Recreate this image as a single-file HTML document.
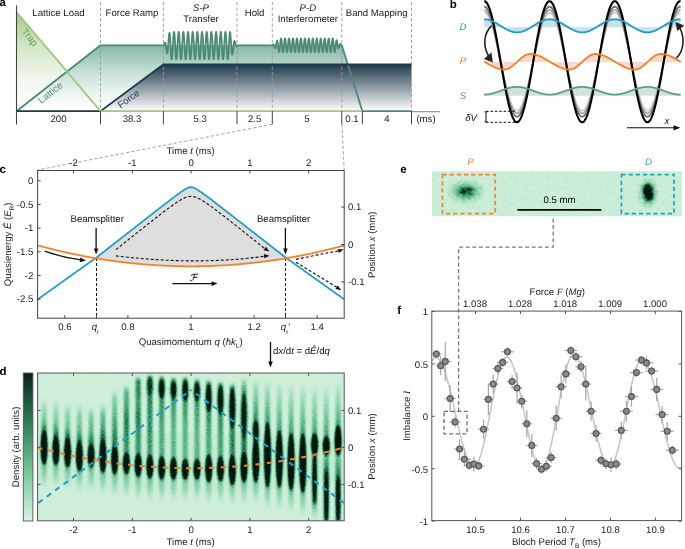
<!DOCTYPE html>
<html><head><meta charset="utf-8"><style>
html,body{margin:0;padding:0;background:#fff;}
svg{display:block;will-change:transform;font-family:'Liberation Sans',sans-serif;text-rendering:geometricPrecision;}
</style></head><body>
<svg width="685" height="549" viewBox="0 0 685 549" style="font-family:'Liberation Sans',sans-serif">
<rect width="685" height="549" fill="#fff"/>
<defs>
<linearGradient id="gTrap" x1="0" y1="0" x2="0" y2="1"><stop offset="0" stop-color="#a9cf8f"/><stop offset="1" stop-color="#ffffff"/></linearGradient>
<linearGradient id="gLat" gradientUnits="userSpaceOnUse" x1="0" y1="45" x2="0" y2="111"><stop offset="0" stop-color="#7fb3a2"/><stop offset="0.4" stop-color="#c2dcd3"/><stop offset="0.75" stop-color="#eef5f3"/><stop offset="1" stop-color="#ffffff"/></linearGradient>
<linearGradient id="gFor" gradientUnits="userSpaceOnUse" x1="0" y1="64.5" x2="0" y2="111"><stop offset="0" stop-color="#1f3a4c"/><stop offset="1" stop-color="#ffffff"/></linearGradient>
<linearGradient id="gTrapU" gradientUnits="userSpaceOnUse" x1="0" y1="12" x2="0" y2="111"><stop offset="0" stop-color="#a3cb88"/><stop offset="0.35" stop-color="#d3e7c7"/><stop offset="0.7" stop-color="#f3f8f0"/><stop offset="1" stop-color="#ffffff"/></linearGradient>
</defs>
<polygon points="16.50,12.00 100.50,111.20 16.50,111.20" fill="url(#gTrapU)"/>
<polygon points="16.50,111.20 100.50,45.30 341.80,45.30 362.40,111.20" fill="url(#gLat)" fill-opacity="0.95"/>
<polygon points="100.50,111.20 163.40,64.50 411.50,64.50 411.50,111.20" fill="url(#gFor)"/>
<line x1="100.50" y1="2.00" x2="100.50" y2="111.20" stroke="#9a9a9a" stroke-width="0.9" stroke-dasharray="3.2,2.2"/>
<line x1="163.40" y1="2.00" x2="163.40" y2="111.20" stroke="#9a9a9a" stroke-width="0.9" stroke-dasharray="3.2,2.2"/>
<line x1="237.00" y1="2.00" x2="237.00" y2="111.20" stroke="#9a9a9a" stroke-width="0.9" stroke-dasharray="3.2,2.2"/>
<line x1="272.30" y1="2.00" x2="272.30" y2="111.20" stroke="#9a9a9a" stroke-width="0.9" stroke-dasharray="3.2,2.2"/>
<line x1="341.80" y1="2.00" x2="341.80" y2="111.20" stroke="#9a9a9a" stroke-width="0.9" stroke-dasharray="3.2,2.2"/>
<line x1="411.50" y1="2.00" x2="411.50" y2="111.20" stroke="#9a9a9a" stroke-width="0.9" stroke-dasharray="3.2,2.2"/>
<polyline points="16.50,111.20 100.50,45.30 163.40,45.30 163.40,45.60 163.53,45.60 163.65,45.52 163.78,45.35 163.90,45.10 164.03,44.79 164.15,44.43 164.28,44.05 164.40,43.66 164.53,43.29 164.65,42.97 164.78,42.71 164.90,42.55 165.03,42.50 165.15,42.57 165.28,42.78 165.40,43.13 165.53,43.62 165.65,44.25 165.78,45.00 165.90,45.85 166.03,46.79 166.15,47.78 166.28,48.79 166.40,49.78 166.53,50.73 166.65,51.58 166.78,52.31 166.90,52.87 167.03,53.25 167.16,53.41 167.28,53.34 167.41,53.02 167.53,52.44 167.66,51.62 167.78,50.56 167.91,49.29 168.03,47.83 168.16,46.22 168.28,44.51 168.41,42.74 168.53,40.96 168.66,39.24 168.78,37.62 168.91,36.17 169.03,34.93 169.16,33.96 169.28,33.29 169.41,32.95 169.53,32.98 169.66,33.39 169.78,34.18 169.91,35.35 170.03,37.01 170.16,38.92 170.28,41.02 170.41,43.25 170.53,45.55 170.66,47.85 170.79,50.08 170.91,52.19 171.04,54.11 171.16,55.79 171.29,57.18 171.41,58.24 171.54,58.95 171.66,59.28 171.79,59.22 171.91,58.77 172.04,57.96 172.16,56.79 172.29,55.31 172.41,53.55 172.54,51.57 172.66,49.42 172.79,47.16 172.91,44.86 173.04,42.57 173.16,40.38 173.29,38.33 173.41,36.48 173.54,34.90 173.66,33.62 173.79,32.67 173.91,32.10 174.04,31.90 174.16,32.09 174.29,32.67 174.41,33.61 174.54,34.89 174.67,36.47 174.79,38.31 174.92,40.36 175.04,42.55 175.17,44.84 175.29,47.14 175.42,49.40 175.54,51.55 175.67,53.54 175.79,55.30 175.92,56.78 176.04,57.95 176.17,58.77 176.29,59.22 176.42,59.28 176.54,58.95 176.67,58.25 176.79,57.19 176.92,55.80 177.04,54.12 177.17,52.20 177.29,50.10 177.42,47.87 177.54,45.57 177.67,43.27 177.79,41.04 177.92,38.94 178.04,37.03 178.17,35.36 178.30,33.98 178.42,32.93 178.55,32.23 178.67,31.92 178.80,31.99 178.92,32.45 179.05,33.28 179.17,34.46 179.30,35.95 179.42,37.72 179.55,39.71 179.67,41.86 179.80,44.12 179.92,46.43 180.05,48.71 180.17,50.90 180.30,52.94 180.42,54.78 180.55,56.35 180.67,57.62 180.80,58.55 180.92,59.12 181.05,59.30 181.17,59.09 181.30,58.51 181.42,57.55 181.55,56.26 181.67,54.67 181.80,52.82 181.93,50.77 182.05,48.57 182.18,46.28 182.30,43.98 182.43,41.72 182.55,39.57 182.68,37.60 182.80,35.85 182.93,34.37 183.05,33.21 183.18,32.41 183.30,31.98 183.43,31.93 183.55,32.27 183.68,32.98 183.80,34.06 183.93,35.46 184.05,37.14 184.18,39.07 184.30,41.18 184.43,43.42 184.55,45.72 184.68,48.01 184.80,50.24 184.93,52.33 185.05,54.24 185.18,55.90 185.30,57.27 185.43,58.30 185.56,58.98 185.68,59.29 185.81,59.20 185.93,58.73 186.06,57.89 186.18,56.69 186.31,55.19 186.43,53.42 186.56,51.42 186.68,49.26 186.81,46.99 186.93,44.69 187.06,42.41 187.18,40.22 187.31,38.19 187.43,36.36 187.56,34.80 187.68,33.54 187.81,32.62 187.93,32.07 188.06,31.90 188.18,32.12 188.31,32.72 188.43,33.69 188.56,34.99 188.68,36.59 188.81,38.45 188.93,40.51 189.06,42.72 189.19,45.00 189.31,47.30 189.44,49.56 189.56,51.70 189.69,53.67 189.81,55.41 189.94,56.88 190.06,58.02 190.19,58.81 190.31,59.23 190.44,59.27 190.56,58.91 190.69,58.18 190.81,57.10 190.94,55.69 191.06,53.99 191.19,52.06 191.31,49.94 191.44,47.70 191.56,45.40 191.69,43.11 191.81,40.89 191.94,38.80 192.06,36.90 192.19,35.25 192.31,33.89 192.44,32.86 192.56,32.20 192.69,31.91 192.81,32.01 192.94,32.50 193.07,33.35 193.19,34.55 193.32,36.07 193.44,37.85 193.57,39.86 193.69,42.02 193.82,44.29 193.94,46.59 194.07,48.87 194.19,51.05 194.32,53.08 194.44,54.90 194.57,56.46 194.69,57.70 194.82,58.61 194.94,59.14 195.07,59.30 195.19,59.06 195.32,58.45 195.44,57.47 195.57,56.16 195.69,54.54 195.82,52.68 195.94,50.61 196.07,48.40 196.19,46.11 196.32,43.81 196.44,41.56 196.57,39.42 196.70,37.46 196.82,35.73 196.95,34.28 197.07,33.14 197.20,32.36 197.32,31.96 197.45,31.94 197.57,32.31 197.70,33.05 197.82,34.15 197.95,35.57 198.07,37.28 198.20,39.22 198.32,41.34 198.45,43.58 198.57,45.88 198.70,48.17 198.82,50.39 198.95,52.48 199.07,54.36 199.20,56.01 199.32,57.35 199.45,58.37 199.57,59.02 199.70,59.29 199.82,59.18 199.95,58.68 200.07,57.81 200.20,56.60 200.33,55.07 200.45,53.28 200.58,51.27 200.70,49.10 200.83,46.83 200.95,44.52 201.08,42.25 201.20,40.07 201.33,38.05 201.45,36.24 201.58,34.69 201.70,33.46 201.83,32.57 201.95,32.04 202.08,31.90 202.20,32.15 202.33,32.78 202.45,33.77 202.58,35.10 202.70,36.72 202.83,38.59 202.95,40.67 203.08,42.88 203.20,45.17 203.33,47.47 203.45,49.72 203.58,51.85 203.70,53.80 203.83,55.53 203.96,56.97 204.08,58.09 204.21,58.86 204.33,59.25 204.46,59.25 204.58,58.87 204.71,58.12 204.83,57.01 204.96,55.57 205.08,53.86 205.21,51.91 205.33,49.78 205.46,47.54 205.58,45.23 205.71,42.94 205.83,40.73 205.96,38.65 206.08,36.77 206.21,35.14 206.33,33.81 206.46,32.80 206.58,32.16 206.71,31.91 206.83,32.03 206.96,32.55 207.08,33.43 207.21,34.65 207.33,36.19 207.46,37.99 207.59,40.01 207.71,42.18 207.84,44.46 207.96,46.76 208.09,49.03 208.21,51.21 208.34,53.22 208.46,55.02 208.59,56.56 208.71,57.78 208.84,58.66 208.96,59.17 209.09,59.29 209.21,59.03 209.34,58.39 209.46,57.39 209.59,56.05 209.71,54.42 209.84,52.53 209.96,50.45 210.09,48.24 210.21,45.95 210.34,43.65 210.46,41.40 210.59,39.28 210.71,37.33 210.84,35.61 210.96,34.18 211.09,33.08 211.21,32.32 211.34,31.94 211.47,31.95 211.59,32.35 211.72,33.12 211.84,34.24 211.97,35.68 212.09,37.41 212.22,39.37 212.34,41.50 212.47,43.75 212.59,46.05 212.72,48.34 212.84,50.55 212.97,52.62 213.09,54.49 213.22,56.11 213.34,57.44 213.47,58.43 213.59,59.05 213.72,59.30 213.84,59.15 213.97,58.63 214.09,57.73 214.22,56.50 214.34,54.95 214.47,53.14 214.59,51.12 214.72,48.94 214.84,46.66 214.97,44.36 215.10,42.09 215.22,39.92 215.35,37.91 215.47,36.12 215.60,34.59 215.72,33.38 215.85,32.52 215.97,32.02 216.10,31.91 216.22,32.18 216.35,32.84 216.47,33.86 216.60,35.21 216.72,36.85 216.85,38.74 216.97,40.82 217.10,43.04 217.22,45.34 217.35,47.63 217.47,49.88 217.60,52.00 217.72,53.94 217.85,55.64 217.97,57.06 218.10,58.16 218.22,58.90 218.35,59.26 218.47,59.24 218.60,58.83 218.73,58.05 218.85,56.91 218.98,55.46 219.10,53.72 219.23,51.76 219.35,49.62 219.48,47.37 219.60,45.07 219.73,42.78 219.85,40.57 219.98,38.51 220.10,36.64 220.23,35.03 220.35,33.72 220.48,32.75 220.60,32.13 220.73,31.90 220.85,32.06 220.98,32.60 221.10,33.51 221.23,34.75 221.35,36.31 221.48,38.13 221.60,40.16 221.73,42.35 221.85,44.62 221.98,46.93 222.10,49.19 222.23,51.36 222.36,53.36 222.48,55.14 222.61,56.66 222.73,57.86 222.86,58.71 222.98,59.19 223.11,59.29 223.23,59.00 223.36,58.33 223.48,57.30 223.61,55.94 223.73,54.29 223.86,52.39 223.98,50.30 224.11,48.08 224.23,45.78 224.36,43.48 224.48,41.24 224.61,39.13 224.73,37.20 224.86,35.50 224.98,34.09 225.11,33.01 225.23,32.28 225.36,31.93 225.48,31.97 225.61,32.39 225.73,33.19 225.86,34.33 225.99,35.80 226.11,37.54 226.24,39.51 226.36,41.66 226.49,43.91 226.61,46.22 226.74,48.50 226.86,50.70 226.99,52.76 227.11,54.62 227.24,56.22 227.36,57.52 227.49,58.48 227.61,59.08 227.74,59.30 227.86,59.13 227.99,58.58 228.11,57.66 228.24,56.39 228.36,54.83 228.49,53.00 228.61,50.96 228.74,48.77 228.86,46.49 228.99,44.19 229.11,41.93 229.24,39.77 229.36,37.77 229.49,36.00 229.61,34.50 229.74,33.31 229.87,32.47 229.99,32.00 230.12,32.14 230.24,32.68 230.37,33.57 230.49,34.76 230.62,36.22 230.74,37.89 230.87,39.72 230.99,41.63 231.12,43.59 231.24,45.52 231.37,47.37 231.49,49.09 231.62,50.63 231.74,51.96 231.87,53.04 231.99,53.86 232.12,54.40 232.24,54.66 232.37,54.65 232.49,54.37 232.62,53.85 232.74,53.13 232.87,52.22 232.99,51.17 233.12,50.03 233.24,48.82 233.37,47.60 233.50,46.40 233.62,45.26 233.75,44.21 233.87,43.28 234.00,42.50 234.12,41.87 234.25,41.40 234.37,41.11 234.50,40.98 234.62,41.01 234.75,41.19 234.87,41.49 235.00,41.90 235.12,42.38 235.25,42.91 235.37,43.47 235.50,44.03 235.62,44.56 235.75,45.05 235.87,45.47 236.00,45.81 236.12,46.07 236.25,46.23 236.37,46.31 236.50,46.29 236.62,46.20 236.75,46.04 236.87,45.84 237.00,45.60 237.00,45.30 272.30,45.30 272.30,45.30 272.43,45.25 272.55,45.15 272.68,45.02 272.80,44.87 272.93,44.72 273.05,44.57 273.18,44.44 273.30,44.35 273.43,44.31 273.55,44.33 273.68,44.42 273.80,44.58 273.93,44.81 274.05,45.10 274.18,45.45 274.30,45.85 274.43,46.26 274.55,46.69 274.68,47.10 274.80,47.46 274.93,47.77 275.05,48.00 275.18,48.12 275.30,48.13 275.43,48.02 275.55,47.77 275.68,47.40 275.80,46.91 275.93,46.32 276.05,45.64 276.18,44.89 276.30,44.12 276.43,43.34 276.55,42.60 276.68,41.93 276.80,41.35 276.93,40.91 277.05,40.63 277.18,40.53 277.30,40.62 277.43,40.90 277.55,41.38 277.68,42.05 277.80,42.88 277.93,43.85 278.05,44.92 278.18,46.05 278.30,47.21 278.43,48.33 278.55,49.38 278.68,50.31 278.80,51.07 278.93,51.62 279.05,51.94 279.18,52.01 279.30,51.80 279.43,51.22 279.55,50.41 279.68,49.40 279.80,48.23 279.93,46.95 280.05,45.60 280.18,44.24 280.30,42.92 280.43,41.69 280.55,40.61 280.68,39.70 280.80,39.02 280.93,38.58 281.05,38.40 281.18,38.50 281.30,38.85 281.43,39.46 281.55,40.30 281.68,41.33 281.80,42.52 281.93,43.81 282.05,45.16 282.18,46.52 282.30,47.83 282.43,49.05 282.55,50.11 282.68,50.99 282.80,51.65 282.93,52.05 283.05,52.20 283.18,52.08 283.30,51.69 283.43,51.05 283.55,50.19 283.68,49.14 283.80,47.93 283.93,46.63 284.05,45.27 284.18,43.92 284.30,42.62 284.43,41.42 284.55,40.37 284.68,39.52 284.80,38.89 284.93,38.51 285.05,38.40 285.18,38.56 285.30,38.98 285.43,39.64 285.55,40.53 285.68,41.60 285.80,42.82 285.93,44.13 286.05,45.49 286.18,46.84 286.30,48.13 286.43,49.32 286.55,50.34 286.68,51.17 286.80,51.77 286.93,52.11 287.05,52.19 287.18,52.01 287.30,51.56 287.43,50.86 287.55,49.95 287.68,48.86 287.80,47.63 287.93,46.31 288.05,44.95 288.18,43.60 288.30,42.32 288.43,41.15 288.55,40.15 288.68,39.35 288.80,38.78 288.93,38.46 289.05,38.41 289.18,38.63 289.30,39.11 289.43,39.84 289.55,40.77 289.68,41.88 289.80,43.13 289.93,44.46 290.05,45.82 290.18,47.16 290.30,48.43 290.43,49.58 290.55,50.56 290.68,51.33 290.80,51.87 290.93,52.16 291.05,52.17 291.18,51.92 291.30,51.41 291.43,50.66 291.55,49.70 291.68,48.58 291.80,47.32 291.93,45.98 292.05,44.62 292.18,43.28 292.30,42.02 292.43,40.90 292.55,39.94 292.68,39.19 292.80,38.68 292.93,38.43 293.05,38.44 293.18,38.73 293.30,39.27 293.43,40.04 293.55,41.02 293.68,42.17 293.80,43.44 293.93,44.78 294.05,46.14 294.18,47.47 294.30,48.72 294.43,49.83 294.55,50.76 294.68,51.49 294.80,51.97 294.93,52.19 295.05,52.14 295.18,51.82 295.30,51.25 295.43,50.45 295.55,49.45 295.68,48.28 295.80,47.00 295.93,45.65 296.05,44.29 296.18,42.97 296.30,41.74 296.43,40.65 296.55,39.74 296.68,39.04 296.80,38.59 296.93,38.41 297.05,38.49 297.18,38.83 297.30,39.43 297.43,40.26 297.55,41.28 297.68,42.47 297.80,43.76 297.93,45.11 298.05,46.47 298.18,47.78 298.30,49.00 298.43,50.07 298.55,50.96 298.68,51.62 298.80,52.04 298.93,52.20 299.05,52.09 299.18,51.71 299.30,51.08 299.43,50.23 299.55,49.18 299.68,47.98 299.80,46.68 299.93,45.33 300.05,43.97 300.18,42.67 300.30,41.46 300.43,40.41 300.55,39.55 300.68,38.91 300.80,38.52 300.93,38.40 301.05,38.55 301.18,38.95 301.30,39.61 301.43,40.49 301.55,41.55 301.68,42.77 301.80,44.08 301.93,45.44 302.05,46.79 302.18,48.08 302.30,49.27 302.43,50.30 302.55,51.14 302.68,51.75 302.80,52.10 302.93,52.20 303.05,52.02 303.18,51.58 303.30,50.90 303.43,49.99 303.55,48.91 303.68,47.68 303.80,46.36 303.93,45.00 304.05,43.65 304.18,42.37 304.30,41.20 304.43,40.19 304.55,39.38 304.68,38.80 304.80,38.47 304.93,38.41 305.05,38.62 305.18,39.09 305.30,39.80 305.43,40.73 305.55,41.83 305.68,43.07 305.80,44.40 305.93,45.76 306.05,47.11 306.18,48.38 306.30,49.53 306.43,50.52 306.55,51.31 306.68,51.86 306.80,52.15 306.93,52.18 307.05,51.94 307.18,51.44 307.30,50.70 307.43,49.75 307.55,48.62 307.68,47.37 307.80,46.04 307.93,44.67 308.05,43.33 308.18,42.07 308.30,40.94 308.43,39.97 308.55,39.21 308.68,38.69 308.80,38.43 308.93,38.44 309.05,38.71 309.18,39.24 309.30,40.01 309.43,40.98 309.55,42.12 309.68,43.39 309.80,44.73 309.93,46.09 310.05,47.42 310.18,48.67 310.30,49.79 310.43,50.73 310.55,51.46 310.68,51.95 310.80,52.18 310.93,52.14 311.05,51.84 311.18,51.28 311.30,50.49 311.43,49.49 311.55,48.33 311.68,47.06 311.80,45.71 311.93,44.35 312.05,43.02 312.18,41.79 312.30,40.69 312.43,39.77 312.55,39.07 312.68,38.61 312.80,38.41 312.93,38.48 313.05,38.81 313.18,39.40 313.30,40.22 313.43,41.24 313.55,42.42 313.68,43.70 313.80,45.05 313.93,46.41 314.05,47.73 314.18,48.95 314.30,50.03 314.43,50.93 314.55,51.60 314.68,52.03 314.80,52.20 314.93,52.10 315.05,51.73 315.18,51.11 315.30,50.27 315.43,49.23 315.55,48.03 315.68,46.74 315.80,45.38 315.93,44.02 316.05,42.72 316.18,41.51 316.30,40.45 316.43,39.58 316.55,38.93 316.68,38.53 316.80,38.40 316.93,38.53 317.05,38.93 317.18,39.58 317.30,40.45 317.43,41.51 317.55,42.72 317.68,44.02 317.80,45.38 317.93,46.74 318.05,48.03 318.18,49.23 318.30,50.27 318.43,51.11 318.55,51.73 318.68,52.10 318.80,52.20 318.93,52.03 319.05,51.60 319.18,50.93 319.30,50.03 319.43,48.95 319.55,47.73 319.68,46.41 319.80,45.05 319.93,43.70 320.05,42.42 320.18,41.24 320.30,40.22 320.43,39.40 320.55,38.81 320.68,38.48 320.80,38.41 320.93,38.61 321.05,39.07 321.18,39.77 321.30,40.69 321.43,41.79 321.55,43.02 321.68,44.35 321.80,45.71 321.93,47.06 322.05,48.33 322.18,49.49 322.30,50.49 322.43,51.28 322.55,51.84 322.68,52.14 322.80,52.18 322.93,51.95 323.05,51.46 323.18,50.73 323.30,49.79 323.43,48.67 323.55,47.42 323.68,46.09 323.80,44.73 323.93,43.39 324.05,42.12 324.18,40.98 324.30,40.01 324.43,39.24 324.55,38.71 324.68,38.44 324.80,38.43 324.93,38.69 325.05,39.21 325.18,39.97 325.30,40.94 325.43,42.07 325.55,43.33 325.68,44.67 325.80,46.04 325.93,47.37 326.05,48.62 326.18,49.75 326.30,50.70 326.43,51.44 326.55,51.94 326.68,52.18 326.80,52.15 326.93,51.86 327.05,51.31 327.18,50.52 327.30,49.53 327.43,48.38 327.55,47.11 327.68,45.76 327.80,44.40 327.93,43.07 328.05,41.83 328.18,40.73 328.30,39.80 328.43,39.09 328.55,38.62 328.68,38.41 328.80,38.47 328.93,38.80 329.05,39.38 329.18,40.19 329.30,41.20 329.43,42.37 329.55,43.65 329.68,45.00 329.80,46.36 329.93,47.68 330.05,48.91 330.18,49.99 330.30,50.90 330.43,51.58 330.55,52.02 330.68,52.20 330.80,52.10 330.93,51.75 331.05,51.14 331.18,50.30 331.30,49.27 331.43,48.08 331.55,46.79 331.68,45.44 331.80,44.08 331.93,42.77 332.05,41.55 332.18,40.49 332.30,39.61 332.43,38.95 332.55,38.55 332.68,38.40 332.80,38.52 332.93,38.91 333.05,39.55 333.18,40.41 333.30,41.46 333.43,42.67 333.55,43.97 333.68,45.33 333.80,46.68 333.93,47.98 334.05,49.18 334.18,50.23 334.30,51.08 334.43,51.71 334.55,52.09 334.68,52.20 334.80,52.04 334.93,51.51 335.05,50.76 335.18,49.82 335.30,48.73 335.43,47.56 335.55,46.34 335.68,45.13 335.80,43.98 335.93,42.92 336.05,42.00 336.18,41.25 336.30,40.69 336.43,40.33 336.55,40.19 336.68,40.25 336.80,40.51 336.93,40.94 337.05,41.53 337.18,42.23 337.30,43.01 337.43,43.84 337.55,44.69 337.68,45.51 337.80,46.27 337.93,46.95 338.05,47.52 338.18,47.97 338.30,48.28 338.43,48.44 338.55,48.47 338.68,48.37 338.80,48.16 338.93,47.84 339.05,47.45 339.18,47.00 339.30,46.52 339.43,46.04 339.55,45.57 339.68,45.14 339.80,44.77 339.93,44.46 340.05,44.23 340.18,44.08 340.30,44.01 340.43,44.01 340.55,44.08 340.68,44.20 340.80,44.35 340.93,44.54 341.05,44.73 341.18,44.91 341.30,45.07 341.43,45.19 341.55,45.28 341.68,45.31 341.80,45.30 341.80,45.30 362.40,111.20 411.50,111.20" fill="none" stroke="#4d8a76" stroke-width="1.8" stroke-linejoin="round"/>
<polyline points="16.50,111.20 100.50,111.20 163.40,64.50 411.50,64.50" fill="none" stroke="#1f3a4c" stroke-width="1.8"/>
<line x1="100.50" y1="111.20" x2="362.40" y2="111.20" stroke="#9cc97c" stroke-width="1.8" />
<line x1="16.50" y1="12.00" x2="100.50" y2="111.20" stroke="#9cc97c" stroke-width="1.8" />
<line x1="411.50" y1="111.70" x2="440.00" y2="111.70" stroke="#8a8a8a" stroke-width="1.1" />
<line x1="16.50" y1="5.30" x2="16.50" y2="124.30" stroke="#444" stroke-width="1.1" />
<line x1="16.50" y1="111.20" x2="16.50" y2="124.30" stroke="#444" stroke-width="1" />
<line x1="100.50" y1="111.20" x2="100.50" y2="124.30" stroke="#444" stroke-width="1" />
<line x1="163.40" y1="111.20" x2="163.40" y2="124.30" stroke="#444" stroke-width="1" />
<line x1="237.00" y1="111.20" x2="237.00" y2="124.30" stroke="#444" stroke-width="1" />
<line x1="272.30" y1="111.20" x2="272.30" y2="124.30" stroke="#444" stroke-width="1" />
<line x1="341.80" y1="111.20" x2="341.80" y2="124.30" stroke="#444" stroke-width="1" />
<line x1="362.40" y1="111.20" x2="362.40" y2="124.30" stroke="#444" stroke-width="1" />
<line x1="411.50" y1="111.20" x2="411.50" y2="124.30" stroke="#444" stroke-width="1" />
<text transform="translate(27.3,39.3) rotate(50)" font-size="9.6" fill="#6f9a5f" text-anchor="middle">Trap</text>
<text transform="translate(52.4,95.2) rotate(-38)" font-size="9.6" fill="#4d8a76" text-anchor="middle">Lattice</text>
<text transform="translate(130.5,101.5) rotate(-36.5)" font-size="9.6" fill="#1f3a4c" text-anchor="middle">Force</text>
<text x="58.50" y="15.90" text-anchor="middle" font-size="9.6" fill="#1a1a1a" >Lattice Load</text>
<text x="132.00" y="15.90" text-anchor="middle" font-size="9.6" fill="#1a1a1a" >Force Ramp</text>
<text x="201.00" y="10.60" text-anchor="middle" font-size="9.6" fill="#1a1a1a" font-style="italic" >S-P</text>
<text x="201.00" y="21.70" text-anchor="middle" font-size="9.6" fill="#1a1a1a" >Transfer</text>
<text x="254.60" y="15.90" text-anchor="middle" font-size="9.6" fill="#1a1a1a" >Hold</text>
<text x="307.80" y="10.60" text-anchor="middle" font-size="9.6" fill="#1a1a1a" font-style="italic" >P-D</text>
<text x="307.80" y="21.70" text-anchor="middle" font-size="9.6" fill="#1a1a1a" >Interferometer</text>
<text x="376.70" y="15.90" text-anchor="middle" font-size="9.6" fill="#1a1a1a" >Band Mapping</text>
<text x="58.50" y="122.30" text-anchor="middle" font-size="9.6" fill="#1a1a1a" >200</text>
<text x="132.00" y="122.30" text-anchor="middle" font-size="9.6" fill="#1a1a1a" >38.3</text>
<text x="200.20" y="122.30" text-anchor="middle" font-size="9.6" fill="#1a1a1a" >5.3</text>
<text x="254.60" y="122.30" text-anchor="middle" font-size="9.6" fill="#1a1a1a" >2.5</text>
<text x="307.00" y="122.30" text-anchor="middle" font-size="9.6" fill="#1a1a1a" >5</text>
<text x="352.00" y="122.30" text-anchor="middle" font-size="9.6" fill="#1a1a1a" >0.1</text>
<text x="387.00" y="122.30" text-anchor="middle" font-size="9.6" fill="#1a1a1a" >4</text>
<text x="426.00" y="122.30" text-anchor="middle" font-size="9.6" fill="#1a1a1a" >(ms)</text>
<text x="-0.40" y="5.70" font-size="11.5" fill="#000" font-weight="bold" >a</text>
<polygon points="484.20,19.30 484.69,19.30 485.18,19.32 485.67,19.36 486.16,19.41 486.65,19.47 487.15,19.54 487.64,19.64 488.13,19.74 488.62,19.86 489.11,19.99 489.60,20.13 490.09,20.29 490.58,20.46 491.07,20.64 491.56,20.84 492.06,21.04 492.55,21.26 493.04,21.49 493.53,21.72 494.02,21.97 494.51,22.22 495.00,22.48 495.49,22.75 495.98,23.03 496.47,23.31 496.97,23.60 497.46,23.89 497.95,24.19 498.44,24.49 498.93,24.79 499.42,25.10 499.91,25.41 500.40,25.72 500.89,26.03 501.38,26.34 501.88,26.64 502.37,26.95 502.86,27.26 503.35,27.56 503.84,27.85 504.33,28.15 504.82,28.43 505.31,28.71 505.80,28.99 506.30,29.26 506.79,29.52 507.28,29.77 507.77,30.01 508.26,30.25 508.75,30.47 509.24,30.69 509.73,30.89 510.22,31.08 510.71,31.26 511.20,31.43 511.70,31.59 512.19,31.73 512.68,31.86 513.17,31.98 513.66,32.08 514.15,32.17 514.64,32.24 515.13,32.30 515.62,32.35 516.12,32.38 516.61,32.40 517.10,32.40 517.59,32.39 518.08,32.36 518.57,32.32 519.06,32.26 519.55,32.19 520.04,32.11 520.53,32.01 521.02,31.90 521.52,31.77 522.01,31.63 522.50,31.48 522.99,31.31 523.48,31.14 523.97,30.95 524.46,30.75 524.95,30.54 525.44,30.32 525.93,30.09 526.43,29.84 526.92,29.59 527.41,29.34 527.90,29.07 528.39,28.80 528.88,28.52 529.37,28.23 529.86,27.94 530.35,27.65 530.85,27.35 531.34,27.04 531.83,26.74 532.32,26.43 532.81,26.12 533.30,25.81 533.79,25.50 534.28,25.19 534.77,24.89 535.26,24.58 535.75,24.28 536.25,23.98 536.74,23.68 537.23,23.39 537.72,23.11 538.21,22.83 538.70,22.56 539.19,22.30 539.68,22.04 540.17,21.79 540.66,21.55 541.16,21.33 541.65,21.11 542.14,20.90 542.63,20.70 543.12,20.52 543.61,20.34 544.10,20.18 544.59,20.03 545.08,19.90 545.58,19.77 546.07,19.67 546.56,19.57 547.05,19.49 547.54,19.42 548.03,19.37 548.52,19.33 549.01,19.31 549.50,19.30 549.99,19.31 550.49,19.33 550.98,19.36 551.47,19.41 551.96,19.48 552.45,19.55 552.94,19.65 553.43,19.75 553.92,19.87 554.41,20.01 554.90,20.15 555.39,20.31 555.89,20.48 556.38,20.67 556.87,20.86 557.36,21.07 557.85,21.28 558.34,21.51 558.83,21.75 559.32,21.99 559.81,22.25 560.30,22.51 560.80,22.78 561.29,23.06 561.78,23.34 562.27,23.63 562.76,23.92 563.25,24.22 563.74,24.52 564.23,24.83 564.72,25.13 565.22,25.44 565.71,25.75 566.20,26.06 566.69,26.37 567.18,26.68 567.67,26.98 568.16,27.29 568.65,27.59 569.14,27.88 569.63,28.18 570.12,28.46 570.62,28.74 571.11,29.02 571.60,29.29 572.09,29.55 572.58,29.80 573.07,30.04 573.56,30.27 574.05,30.50 574.54,30.71 575.03,30.91 575.53,31.10 576.02,31.28 576.51,31.45 577.00,31.60 577.49,31.74 577.98,31.87 578.47,31.99 578.96,32.09 579.45,32.18 579.95,32.25 580.44,32.31 580.93,32.35 581.42,32.38 581.91,32.40 582.40,32.40 582.89,32.38 583.38,32.36 583.87,32.31 584.36,32.26 584.86,32.18 585.35,32.10 585.84,32.00 586.33,31.88 586.82,31.76 587.31,31.62 587.80,31.46 588.29,31.30 588.78,31.12 589.27,30.93 589.76,30.73 590.26,30.51 590.75,30.29 591.24,30.06 591.73,29.82 592.22,29.57 592.71,29.31 593.20,29.04 593.69,28.77 594.18,28.49 594.67,28.20 595.17,27.91 595.66,27.61 596.15,27.31 596.64,27.01 597.13,26.70 597.62,26.40 598.11,26.09 598.60,25.78 599.09,25.47 599.59,25.16 600.08,24.85 600.57,24.55 601.06,24.25 601.55,23.95 602.04,23.65 602.53,23.36 603.02,23.08 603.51,22.80 604.00,22.53 604.50,22.27 604.99,22.01 605.48,21.77 605.97,21.53 606.46,21.30 606.95,21.08 607.44,20.88 607.93,20.68 608.42,20.50 608.91,20.32 609.40,20.16 609.90,20.02 610.39,19.88 610.88,19.76 611.37,19.65 611.86,19.56 612.35,19.48 612.84,19.42 613.33,19.37 613.82,19.33 614.32,19.31 614.81,19.30 615.30,19.31 615.79,19.33 616.28,19.37 616.77,19.42 617.26,19.48 617.75,19.56 618.24,19.66 618.73,19.76 619.23,19.89 619.72,20.02 620.21,20.17 620.70,20.33 621.19,20.50 621.68,20.69 622.17,20.88 622.66,21.09 623.15,21.31 623.64,21.54 624.13,21.77 624.63,22.02 625.12,22.28 625.61,22.54 626.10,22.81 626.59,23.09 627.08,23.37 627.57,23.66 628.06,23.95 628.55,24.25 629.05,24.55 629.54,24.86 630.03,25.17 630.52,25.48 631.01,25.78 631.50,26.09 631.99,26.40 632.48,26.71 632.97,27.02 633.46,27.32 633.96,27.62 634.45,27.92 634.94,28.21 635.43,28.49 635.92,28.77 636.41,29.05 636.90,29.31 637.39,29.57 637.88,29.82 638.37,30.07 638.87,30.30 639.36,30.52 639.85,30.73 640.34,30.93 640.83,31.12 641.32,31.30 641.81,31.47 642.30,31.62 642.79,31.76 643.28,31.89 643.78,32.00 644.27,32.10 644.76,32.19 645.25,32.26 645.74,32.31 646.23,32.36 646.72,32.38 647.21,32.40 647.70,32.40 648.19,32.38 648.69,32.35 649.18,32.31 649.67,32.25 650.16,32.17 650.65,32.09 651.14,31.99 651.63,31.87 652.12,31.74 652.61,31.60 653.10,31.44 653.60,31.28 654.09,31.10 654.58,30.91 655.07,30.70 655.56,30.49 656.05,30.27 656.54,30.03 657.03,29.79 657.52,29.54 658.01,29.28 658.50,29.01 659.00,28.74 659.49,28.46 659.98,28.17 660.47,27.88 660.96,27.58 661.45,27.28 661.94,26.98 662.43,26.67 662.92,26.36 663.41,26.05 663.91,25.74 664.40,25.43 664.89,25.13 665.38,24.82 665.87,24.51 666.36,24.21 666.85,23.91 667.34,23.62 667.83,23.33 668.33,23.05 668.82,22.77 669.31,22.50 669.80,22.24 670.29,21.99 670.78,21.74 671.27,21.50 671.76,21.28 672.25,21.06 672.74,20.86 673.24,20.66 673.73,20.48 674.22,20.31 674.71,20.15 675.20,20.00 675.69,19.87 676.18,19.75 676.67,19.64 677.16,19.55 677.65,19.47 678.14,19.41 678.64,19.36 679.13,19.33 679.62,19.31 680.11,19.30 680.60,19.31 680.60,27.30 484.20,27.30" fill="#c3e2ea"/>
<polygon points="484.20,61.52 484.69,61.82 485.18,62.12 485.67,62.42 486.16,62.72 486.65,63.02 487.15,63.32 487.64,63.61 488.13,63.90 488.62,64.19 489.11,64.48 489.60,64.76 490.09,65.03 490.58,65.30 491.07,65.57 491.56,65.83 492.06,66.08 492.55,66.33 493.04,66.57 493.53,66.80 494.02,67.02 494.51,67.24 495.00,67.45 495.49,67.65 495.98,67.84 496.47,68.02 496.97,68.19 497.46,68.36 497.95,68.51 498.44,68.65 498.93,68.78 499.42,68.90 499.91,69.02 500.40,69.11 500.89,69.20 501.38,69.28 501.88,69.35 502.37,69.40 502.86,69.44 503.35,69.47 503.84,69.49 504.33,69.50 504.82,69.49 505.31,69.45 505.80,69.39 506.30,69.29 506.79,69.17 507.28,69.02 507.77,68.85 508.26,68.65 508.75,68.42 509.24,68.17 509.73,67.90 510.22,67.60 510.71,67.29 511.20,66.95 511.70,66.60 512.19,66.22 512.68,65.83 513.17,65.43 513.66,65.01 514.15,64.58 514.64,64.14 515.13,63.69 515.62,63.24 516.12,62.78 516.61,62.31 517.10,61.85 517.59,61.38 518.08,60.92 518.57,60.45 519.06,60.00 519.55,59.54 520.04,59.10 520.53,58.67 521.02,58.24 521.52,57.83 522.01,57.44 522.50,57.06 522.99,56.70 523.48,56.35 523.97,56.03 524.46,55.72 524.95,55.44 525.44,55.18 525.93,54.94 526.43,54.73 526.92,54.55 527.41,54.39 527.90,54.26 528.39,54.15 528.88,54.07 529.37,54.02 529.86,54.00 530.35,54.00 530.85,54.02 531.34,54.04 531.83,54.08 532.32,54.13 532.81,54.19 533.30,54.26 533.79,54.35 534.28,54.44 534.77,54.55 535.26,54.66 535.75,54.79 536.25,54.93 536.74,55.08 537.23,55.24 537.72,55.40 538.21,55.58 538.70,55.77 539.19,55.97 539.68,56.17 540.17,56.38 540.66,56.61 541.16,56.84 541.65,57.07 542.14,57.32 542.63,57.57 543.12,57.82 543.61,58.09 544.10,58.35 544.59,58.63 545.08,58.91 545.58,59.19 546.07,59.48 546.56,59.77 547.05,60.06 547.54,60.35 548.03,60.65 548.52,60.95 549.01,61.25 549.50,61.55 549.99,61.85 550.49,62.16 550.98,62.46 551.47,62.76 551.96,63.05 552.45,63.35 552.94,63.64 553.43,63.93 553.92,64.22 554.41,64.51 554.90,64.79 555.39,65.06 555.89,65.33 556.38,65.60 556.87,65.85 557.36,66.11 557.85,66.35 558.34,66.59 558.83,66.82 559.32,67.05 559.81,67.26 560.30,67.47 560.80,67.67 561.29,67.86 561.78,68.04 562.27,68.21 562.76,68.37 563.25,68.53 563.74,68.67 564.23,68.80 564.72,68.92 565.22,69.03 565.71,69.12 566.20,69.21 566.69,69.29 567.18,69.35 567.67,69.40 568.16,69.45 568.65,69.48 569.14,69.49 569.63,69.50 570.12,69.49 570.62,69.45 571.11,69.38 571.60,69.28 572.09,69.16 572.58,69.00 573.07,68.83 573.56,68.62 574.05,68.40 574.54,68.14 575.03,67.87 575.53,67.57 576.02,67.25 576.51,66.91 577.00,66.56 577.49,66.18 577.98,65.79 578.47,65.38 578.96,64.97 579.45,64.54 579.95,64.10 580.44,63.65 580.93,63.19 581.42,62.73 581.91,62.26 582.40,61.80 582.89,61.33 583.38,60.87 583.87,60.40 584.36,59.95 584.86,59.50 585.35,59.05 585.84,58.62 586.33,58.20 586.82,57.79 587.31,57.40 587.80,57.02 588.29,56.66 588.78,56.32 589.27,55.99 589.76,55.69 590.26,55.41 590.75,55.15 591.24,54.92 591.73,54.71 592.22,54.53 592.71,54.37 593.20,54.24 593.69,54.14 594.18,54.07 594.67,54.02 595.17,54.00 595.66,54.00 596.15,54.02 596.64,54.05 597.13,54.09 597.62,54.14 598.11,54.20 598.60,54.27 599.09,54.36 599.59,54.45 600.08,54.56 600.57,54.68 601.06,54.81 601.55,54.95 602.04,55.09 602.53,55.25 603.02,55.42 603.51,55.60 604.00,55.79 604.50,55.99 604.99,56.19 605.48,56.41 605.97,56.63 606.46,56.86 606.95,57.10 607.44,57.34 607.93,57.59 608.42,57.85 608.91,58.12 609.40,58.38 609.90,58.66 610.39,58.94 610.88,59.22 611.37,59.51 611.86,59.80 612.35,60.09 612.84,60.39 613.33,60.68 613.82,60.98 614.32,61.28 614.81,61.58 615.30,61.89 615.79,62.19 616.28,62.49 616.77,62.79 617.26,63.09 617.75,63.38 618.24,63.67 618.73,63.97 619.23,64.25 619.72,64.54 620.21,64.82 620.70,65.09 621.19,65.36 621.68,65.62 622.17,65.88 622.66,66.13 623.15,66.38 623.64,66.62 624.13,66.85 624.63,67.07 625.12,67.29 625.61,67.49 626.10,67.69 626.59,67.88 627.08,68.06 627.57,68.23 628.06,68.39 628.55,68.54 629.05,68.68 629.54,68.81 630.03,68.93 630.52,69.04 631.01,69.13 631.50,69.22 631.99,69.30 632.48,69.36 632.97,69.41 633.46,69.45 633.96,69.48 634.45,69.49 634.94,69.50 635.43,69.48 635.92,69.44 636.41,69.37 636.90,69.27 637.39,69.14 637.88,68.99 638.37,68.81 638.87,68.60 639.36,68.37 639.85,68.12 640.34,67.84 640.83,67.54 641.32,67.22 641.81,66.88 642.30,66.52 642.79,66.14 643.28,65.75 643.78,65.34 644.27,64.92 644.76,64.49 645.25,64.05 645.74,63.60 646.23,63.14 646.72,62.68 647.21,62.21 647.70,61.75 648.19,61.28 648.69,60.82 649.18,60.35 649.67,59.90 650.16,59.45 650.65,59.01 651.14,58.57 651.63,58.15 652.12,57.75 652.61,57.36 653.10,56.98 653.60,56.62 654.09,56.28 654.58,55.96 655.07,55.66 655.56,55.38 656.05,55.13 656.54,54.90 657.03,54.69 657.52,54.51 658.01,54.36 658.50,54.23 659.00,54.13 659.49,54.06 659.98,54.02 660.47,54.00 660.96,54.01 661.45,54.02 661.94,54.05 662.43,54.09 662.92,54.14 663.41,54.21 663.91,54.28 664.40,54.37 664.89,54.46 665.38,54.57 665.87,54.69 666.36,54.82 666.85,54.96 667.34,55.11 667.83,55.27 668.33,55.44 668.82,55.62 669.31,55.81 669.80,56.01 670.29,56.22 670.78,56.43 671.27,56.66 671.76,56.89 672.25,57.12 672.74,57.37 673.24,57.62 673.73,57.88 674.22,58.14 674.71,58.41 675.20,58.69 675.69,58.97 676.18,59.25 676.67,59.54 677.16,59.83 677.65,60.12 678.14,60.42 678.64,60.72 679.13,61.02 679.62,61.32 680.11,61.62 680.60,61.92 680.60,62.10 484.20,62.10" fill="#fbd9c6"/>
<polygon points="484.20,94.60 484.69,94.60 485.18,94.59 485.67,94.57 486.16,94.54 486.65,94.50 487.15,94.46 487.64,94.40 488.13,94.34 488.62,94.27 489.11,94.19 489.60,94.11 490.09,94.02 490.58,93.92 491.07,93.81 491.56,93.70 492.06,93.58 492.55,93.45 493.04,93.32 493.53,93.18 494.02,93.03 494.51,92.88 495.00,92.73 495.49,92.57 495.98,92.41 496.47,92.24 496.97,92.07 497.46,91.90 497.95,91.73 498.44,91.55 498.93,91.37 499.42,91.19 499.91,91.01 500.40,90.83 500.89,90.65 501.38,90.46 501.88,90.28 502.37,90.10 502.86,89.92 503.35,89.75 503.84,89.57 504.33,89.40 504.82,89.23 505.31,89.07 505.80,88.90 506.30,88.75 506.79,88.59 507.28,88.45 507.77,88.30 508.26,88.16 508.75,88.03 509.24,87.91 509.73,87.79 510.22,87.67 510.71,87.57 511.20,87.47 511.70,87.38 512.19,87.29 512.68,87.22 513.17,87.15 513.66,87.09 514.15,87.04 514.64,86.99 515.13,86.96 515.62,86.93 516.12,86.91 516.61,86.90 517.10,86.90 517.59,86.91 518.08,86.92 518.57,86.95 519.06,86.98 519.55,87.02 520.04,87.07 520.53,87.13 521.02,87.20 521.52,87.27 522.01,87.35 522.50,87.44 522.99,87.54 523.48,87.64 523.97,87.75 524.46,87.87 524.95,87.99 525.44,88.12 525.93,88.26 526.43,88.40 526.92,88.55 527.41,88.70 527.90,88.86 528.39,89.02 528.88,89.18 529.37,89.35 529.86,89.52 530.35,89.69 530.85,89.87 531.34,90.05 531.83,90.23 532.32,90.41 532.81,90.59 533.30,90.77 533.79,90.96 534.28,91.14 534.77,91.32 535.26,91.50 535.75,91.67 536.25,91.85 536.74,92.02 537.23,92.19 537.72,92.36 538.21,92.52 538.70,92.68 539.19,92.84 539.68,92.99 540.17,93.13 540.66,93.27 541.16,93.41 541.65,93.54 542.14,93.66 542.63,93.78 543.12,93.89 543.61,93.99 544.10,94.08 544.59,94.17 545.08,94.25 545.58,94.32 546.07,94.39 546.56,94.44 547.05,94.49 547.54,94.53 548.03,94.56 548.52,94.58 549.01,94.59 549.50,94.60 549.99,94.60 550.49,94.58 550.98,94.56 551.47,94.53 551.96,94.50 552.45,94.45 552.94,94.40 553.43,94.33 553.92,94.26 554.41,94.19 554.90,94.10 555.39,94.01 555.89,93.91 556.38,93.80 556.87,93.68 557.36,93.56 557.85,93.43 558.34,93.30 558.83,93.16 559.32,93.02 559.81,92.87 560.30,92.71 560.80,92.55 561.29,92.39 561.78,92.23 562.27,92.06 562.76,91.88 563.25,91.71 563.74,91.53 564.23,91.35 564.72,91.17 565.22,90.99 565.71,90.81 566.20,90.63 566.69,90.44 567.18,90.26 567.67,90.08 568.16,89.90 568.65,89.73 569.14,89.55 569.63,89.38 570.12,89.21 570.62,89.05 571.11,88.89 571.60,88.73 572.09,88.58 572.58,88.43 573.07,88.29 573.56,88.15 574.05,88.02 574.54,87.89 575.03,87.77 575.53,87.66 576.02,87.56 576.51,87.46 577.00,87.37 577.49,87.29 577.98,87.21 578.47,87.14 578.96,87.08 579.45,87.03 579.95,86.99 580.44,86.95 580.93,86.93 581.42,86.91 581.91,86.90 582.40,86.90 582.89,86.91 583.38,86.93 583.87,86.95 584.36,86.99 584.86,87.03 585.35,87.08 585.84,87.14 586.33,87.20 586.82,87.28 587.31,87.36 587.80,87.45 588.29,87.55 588.78,87.65 589.27,87.77 589.76,87.88 590.26,88.01 590.75,88.14 591.24,88.28 591.73,88.42 592.22,88.56 592.71,88.72 593.20,88.87 593.69,89.04 594.18,89.20 594.67,89.37 595.17,89.54 595.66,89.71 596.15,89.89 596.64,90.07 597.13,90.25 597.62,90.43 598.11,90.61 598.60,90.79 599.09,90.97 599.59,91.16 600.08,91.34 600.57,91.52 601.06,91.69 601.55,91.87 602.04,92.04 602.53,92.21 603.02,92.38 603.51,92.54 604.00,92.70 604.50,92.86 604.99,93.01 605.48,93.15 605.97,93.29 606.46,93.42 606.95,93.55 607.44,93.67 607.93,93.79 608.42,93.90 608.91,94.00 609.40,94.09 609.90,94.18 610.39,94.26 610.88,94.33 611.37,94.39 611.86,94.45 612.35,94.49 612.84,94.53 613.33,94.56 613.82,94.58 614.32,94.60 614.81,94.60 615.30,94.60 615.79,94.58 616.28,94.56 616.77,94.53 617.26,94.49 617.75,94.45 618.24,94.39 618.73,94.33 619.23,94.26 619.72,94.18 620.21,94.09 620.70,94.00 621.19,93.89 621.68,93.79 622.17,93.67 622.66,93.55 623.15,93.42 623.64,93.29 624.13,93.15 624.63,93.00 625.12,92.85 625.61,92.70 626.10,92.54 626.59,92.37 627.08,92.21 627.57,92.04 628.06,91.86 628.55,91.69 629.05,91.51 629.54,91.33 630.03,91.15 630.52,90.97 631.01,90.79 631.50,90.61 631.99,90.42 632.48,90.24 632.97,90.06 633.46,89.89 633.96,89.71 634.45,89.54 634.94,89.36 635.43,89.20 635.92,89.03 636.41,88.87 636.90,88.71 637.39,88.56 637.88,88.41 638.37,88.27 638.87,88.14 639.36,88.00 639.85,87.88 640.34,87.76 640.83,87.65 641.32,87.55 641.81,87.45 642.30,87.36 642.79,87.28 643.28,87.20 643.78,87.14 644.27,87.08 644.76,87.03 645.25,86.98 645.74,86.95 646.23,86.93 646.72,86.91 647.21,86.90 647.70,86.90 648.19,86.91 648.69,86.93 649.18,86.95 649.67,86.99 650.16,87.03 650.65,87.08 651.14,87.14 651.63,87.21 652.12,87.29 652.61,87.37 653.10,87.46 653.60,87.56 654.09,87.67 654.58,87.78 655.07,87.90 655.56,88.02 656.05,88.15 656.54,88.29 657.03,88.43 657.52,88.58 658.01,88.73 658.50,88.89 659.00,89.05 659.49,89.22 659.98,89.39 660.47,89.56 660.96,89.73 661.45,89.91 661.94,90.09 662.43,90.27 662.92,90.45 663.41,90.63 663.91,90.81 664.40,90.99 664.89,91.18 665.38,91.36 665.87,91.54 666.36,91.71 666.85,91.89 667.34,92.06 667.83,92.23 668.33,92.40 668.82,92.56 669.31,92.72 669.80,92.87 670.29,93.02 670.78,93.17 671.27,93.30 671.76,93.44 672.25,93.56 672.74,93.69 673.24,93.80 673.73,93.91 674.22,94.01 674.71,94.10 675.20,94.19 675.69,94.27 676.18,94.34 676.67,94.40 677.16,94.45 677.65,94.50 678.14,94.54 678.64,94.56 679.13,94.58 679.62,94.60 680.11,94.60 680.60,94.59 680.60,95.80 484.20,95.80" fill="#cfe3dc"/>
<polyline points="484.20,12.80 484.53,12.81 484.85,12.87 485.18,12.98 485.51,13.13 485.84,13.33 486.16,13.59 486.49,13.88 486.82,14.23 487.15,14.62 487.47,15.07 487.80,15.55 488.13,16.08 488.46,16.66 488.78,17.29 489.11,17.95 489.44,18.66 489.76,19.42 490.09,20.21 490.42,21.05 490.75,21.92 491.07,22.84 491.40,23.79 491.73,24.79 492.06,25.82 492.38,26.88 492.71,27.98 493.04,29.11 493.37,30.28 493.69,31.47 494.02,32.70 494.35,33.96 494.67,35.24 495.00,36.55 495.33,37.88 495.66,39.24 495.98,40.62 496.31,42.02 496.64,43.44 496.97,44.88 497.29,46.34 497.62,47.81 497.95,49.29 498.28,50.79 498.60,52.30 498.93,53.81 499.26,55.34 499.58,56.87 499.91,58.40 500.24,59.94 500.57,61.48 500.89,63.03 501.22,64.57 501.55,66.10 501.88,67.63 502.20,69.16 502.53,70.68 502.86,72.19 503.19,73.69 503.51,75.18 503.84,76.65 504.17,78.11 504.49,79.56 504.82,80.98 505.15,82.39 505.48,83.78 505.80,85.14 506.13,86.48 506.46,87.80 506.79,89.09 507.11,90.35 507.44,91.59 507.77,92.79 508.10,93.96 508.42,95.11 508.75,96.22 509.08,97.29 509.40,98.33 509.73,99.33 510.06,100.30 510.39,101.22 510.71,102.11 511.04,102.96 511.37,103.77 511.70,104.53 512.02,105.25 512.35,105.93 512.68,106.57 513.01,107.16 513.33,107.70 513.66,108.20 513.99,108.66 514.31,109.06 514.64,109.42 514.97,109.74 515.30,110.00 515.62,110.22 515.95,110.39 516.28,110.51 516.61,110.58 516.93,110.60 517.26,110.57 517.59,110.50 517.92,110.38 518.24,110.21 518.57,109.99 518.90,109.72 519.22,109.41 519.55,109.04 519.88,108.63 520.21,108.18 520.53,107.68 520.86,107.13 521.19,106.54 521.52,105.90 521.84,105.22 522.17,104.49 522.50,103.73 522.83,102.92 523.15,102.07 523.48,101.18 523.81,100.25 524.13,99.28 524.46,98.28 524.79,97.24 525.12,96.16 525.44,95.05 525.77,93.91 526.10,92.73 526.43,91.52 526.75,90.29 527.08,89.02 527.41,87.73 527.74,86.41 528.06,85.07 528.39,83.71 528.72,82.32 529.04,80.91 529.37,79.48 529.70,78.04 530.03,76.58 530.35,75.10 530.68,73.62 531.01,72.11 531.34,70.60 531.66,69.08 531.99,67.56 532.32,66.02 532.65,64.49 532.97,62.95 533.30,61.41 533.63,59.86 533.95,58.33 534.28,56.79 534.61,55.26 534.94,53.73 535.26,52.22 535.59,50.71 535.92,49.21 536.25,47.73 536.57,46.26 536.90,44.81 537.23,43.37 537.56,41.95 537.88,40.55 538.21,39.17 538.54,37.81 538.86,36.48 539.19,35.17 539.52,33.89 539.85,32.64 540.17,31.41 540.50,30.22 540.83,29.05 541.16,27.92 541.48,26.83 541.81,25.76 542.14,24.74 542.47,23.74 542.79,22.79 543.12,21.88 543.45,21.00 543.77,20.17 544.10,19.38 544.43,18.63 544.76,17.92 545.08,17.25 545.41,16.63 545.74,16.06 546.07,15.53 546.39,15.04 546.72,14.60 547.05,14.21 547.38,13.87 547.70,13.57 548.03,13.32 548.36,13.12 548.68,12.97 549.01,12.87 549.34,12.81 549.67,12.80 549.99,12.84 550.32,12.93 550.65,13.07 550.98,13.26 551.30,13.50 551.63,13.78 551.96,14.11 552.29,14.49 552.61,14.91 552.94,15.38 553.27,15.90 553.59,16.46 553.92,17.07 554.25,17.72 554.58,18.42 554.90,19.16 555.23,19.94 555.56,20.76 555.89,21.62 556.21,22.53 556.54,23.47 556.87,24.45 557.20,25.46 557.52,26.52 557.85,27.60 558.18,28.73 558.50,29.88 558.83,31.07 559.16,32.28 559.49,33.53 559.81,34.80 560.14,36.10 560.47,37.43 560.80,38.78 561.12,40.15 561.45,41.54 561.78,42.96 562.11,44.39 562.43,45.84 562.76,47.31 563.09,48.79 563.41,50.28 563.74,51.78 564.07,53.30 564.40,54.82 564.72,56.35 565.05,57.88 565.38,59.42 565.71,60.96 566.03,62.50 566.36,64.04 566.69,65.58 567.02,67.12 567.34,68.65 567.67,70.17 568.00,71.68 568.32,73.19 568.65,74.68 568.98,76.16 569.31,77.62 569.63,79.07 569.96,80.50 570.29,81.92 570.62,83.31 570.94,84.68 571.27,86.03 571.60,87.35 571.93,88.65 572.25,89.93 572.58,91.17 572.91,92.39 573.23,93.57 573.56,94.72 573.89,95.84 574.22,96.93 574.54,97.98 574.87,99.00 575.20,99.97 575.53,100.91 575.85,101.82 576.18,102.68 576.51,103.50 576.84,104.28 577.16,105.01 577.49,105.71 577.82,106.36 578.14,106.96 578.47,107.52 578.80,108.04 579.13,108.51 579.45,108.93 579.78,109.31 580.11,109.64 580.44,109.92 580.76,110.15 581.09,110.33 581.42,110.47 581.75,110.56 582.07,110.60 582.40,110.59 582.73,110.53 583.05,110.42 583.38,110.27 583.71,110.07 584.04,109.82 584.36,109.52 584.69,109.17 585.02,108.78 585.35,108.34 585.67,107.85 586.00,107.32 586.33,106.74 586.66,106.12 586.98,105.45 587.31,104.74 587.64,103.99 587.96,103.20 588.29,102.36 588.62,101.48 588.95,100.57 589.27,99.61 589.60,98.62 589.93,97.59 590.26,96.53 590.58,95.43 590.91,94.30 591.24,93.13 591.57,91.93 591.89,90.71 592.22,89.45 592.55,88.17 592.87,86.86 593.20,85.53 593.53,84.17 593.86,82.79 594.18,81.39 594.51,79.97 594.84,78.53 595.17,77.07 595.49,75.60 595.82,74.12 596.15,72.62 596.48,71.12 596.80,69.60 597.13,68.07 597.46,66.54 597.78,65.01 598.11,63.47 598.44,61.93 598.77,60.39 599.09,58.85 599.42,57.31 599.75,55.78 600.08,54.25 600.40,52.73 600.73,51.22 601.06,49.72 601.39,48.23 601.71,46.76 602.04,45.30 602.37,43.85 602.69,42.43 603.02,41.02 603.35,39.63 603.68,38.27 604.00,36.93 604.33,35.61 604.66,34.32 604.99,33.06 605.31,31.82 605.64,30.62 605.97,29.44 606.30,28.30 606.62,27.19 606.95,26.12 607.28,25.08 607.60,24.08 607.93,23.11 608.26,22.18 608.59,21.29 608.91,20.45 609.24,19.64 609.57,18.87 609.90,18.15 610.22,17.47 610.55,16.84 610.88,16.25 611.21,15.70 611.53,15.20 611.86,14.75 612.19,14.34 612.51,13.98 612.84,13.67 613.17,13.40 613.50,13.18 613.82,13.02 614.15,12.90 614.48,12.82 614.81,12.80 615.13,12.83 615.46,12.90 615.79,13.02 616.12,13.19 616.44,13.41 616.77,13.68 617.10,13.99 617.42,14.35 617.75,14.76 618.08,15.22 618.41,15.72 618.73,16.27 619.06,16.86 619.39,17.50 619.72,18.18 620.04,18.90 620.37,19.67 620.70,20.48 621.03,21.33 621.35,22.22 621.68,23.14 622.01,24.11 622.33,25.12 622.66,26.16 622.99,27.23 623.32,28.34 623.64,29.49 623.97,30.66 624.30,31.87 624.63,33.10 624.95,34.37 625.28,35.66 625.61,36.98 625.94,38.32 626.26,39.68 626.59,41.07 626.92,42.48 627.24,43.91 627.57,45.35 627.90,46.81 628.23,48.29 628.55,49.77 628.88,51.27 629.21,52.79 629.54,54.31 629.86,55.83 630.19,57.36 630.52,58.90 630.85,60.44 631.17,61.98 631.50,63.52 631.83,65.06 632.15,66.60 632.48,68.13 632.81,69.65 633.14,71.17 633.46,72.68 633.79,74.17 634.12,75.66 634.45,77.13 634.77,78.58 635.10,80.02 635.43,81.44 635.76,82.84 636.08,84.22 636.41,85.58 636.74,86.91 637.06,88.22 637.39,89.50 637.72,90.75 638.05,91.98 638.37,93.17 638.70,94.34 639.03,95.47 639.36,96.57 639.68,97.63 640.01,98.66 640.34,99.65 640.67,100.60 640.99,101.52 641.32,102.39 641.65,103.23 641.97,104.02 642.30,104.77 642.63,105.48 642.96,106.14 643.28,106.76 643.61,107.34 643.94,107.87 644.27,108.35 644.59,108.79 644.92,109.19 645.25,109.53 645.58,109.83 645.90,110.08 646.23,110.28 646.56,110.43 646.88,110.53 647.21,110.59 647.54,110.60 647.87,110.56 648.19,110.47 648.52,110.33 648.85,110.14 649.18,109.91 649.50,109.62 649.83,109.29 650.16,108.92 650.49,108.49 650.81,108.02 651.14,107.50 651.47,106.94 651.79,106.33 652.12,105.68 652.45,104.99 652.78,104.25 653.10,103.47 653.43,102.65 653.76,101.78 654.09,100.88 654.41,99.94 654.74,98.96 655.07,97.94 655.40,96.89 655.72,95.80 656.05,94.68 656.38,93.53 656.70,92.34 657.03,91.13 657.36,89.88 657.69,88.61 658.01,87.31 658.34,85.98 658.67,84.63 659.00,83.26 659.32,81.87 659.65,80.45 659.98,79.02 660.31,77.57 660.63,76.10 660.96,74.62 661.29,73.13 661.61,71.63 661.94,70.11 662.27,68.59 662.60,67.06 662.92,65.53 663.25,63.99 663.58,62.45 663.91,60.91 664.23,59.37 664.56,57.83 664.89,56.29 665.22,54.76 665.54,53.24 665.87,51.73 666.20,50.23 666.52,48.73 666.85,47.25 667.18,45.79 667.51,44.34 667.83,42.91 668.16,41.49 668.49,40.10 668.82,38.73 669.14,37.38 669.47,36.05 669.80,34.75 670.13,33.48 670.45,32.24 670.78,31.02 671.11,29.84 671.43,28.68 671.76,27.56 672.09,26.48 672.42,25.43 672.74,24.41 673.07,23.43 673.40,22.49 673.73,21.59 674.05,20.73 674.38,19.91 674.71,19.13 675.04,18.39 675.36,17.70 675.69,17.05 676.02,16.44 676.34,15.88 676.67,15.36 677.00,14.89 677.33,14.47 677.65,14.10 677.98,13.77 678.31,13.49 678.64,13.25 678.96,13.07 679.29,12.93 679.62,12.84 679.95,12.80 680.27,12.81 680.60,12.87" fill="none" stroke="#d0d0d0" stroke-width="1.8" stroke-linejoin="round"/>
<polyline points="484.20,10.10 484.53,10.11 484.85,10.17 485.18,10.29 485.51,10.45 485.84,10.66 486.16,10.93 486.49,11.24 486.82,11.61 487.15,12.03 487.47,12.49 487.80,13.00 488.13,13.57 488.46,14.18 488.78,14.83 489.11,15.54 489.44,16.29 489.76,17.08 490.09,17.92 490.42,18.80 490.75,19.73 491.07,20.69 491.40,21.70 491.73,22.75 492.06,23.83 492.38,24.96 492.71,26.12 493.04,27.31 493.37,28.54 493.69,29.81 494.02,31.10 494.35,32.42 494.67,33.78 495.00,35.16 495.33,36.57 495.66,38.00 495.98,39.46 496.31,40.93 496.64,42.43 496.97,43.95 497.29,45.49 497.62,47.04 497.95,48.61 498.28,50.18 498.60,51.78 498.93,53.38 499.26,54.99 499.58,56.60 499.91,58.22 500.24,59.85 500.57,61.47 500.89,63.10 501.22,64.72 501.55,66.35 501.88,67.96 502.20,69.57 502.53,71.18 502.86,72.77 503.19,74.35 503.51,75.92 503.84,77.48 504.17,79.02 504.49,80.54 504.82,82.05 505.15,83.53 505.48,84.99 505.80,86.43 506.13,87.85 506.46,89.24 506.79,90.60 507.11,91.93 507.44,93.24 507.77,94.51 508.10,95.75 508.42,96.95 508.75,98.12 509.08,99.25 509.40,100.35 509.73,101.41 510.06,102.43 510.39,103.41 510.71,104.34 511.04,105.24 511.37,106.09 511.70,106.90 512.02,107.66 512.35,108.37 512.68,109.04 513.01,109.67 513.33,110.24 513.66,110.77 513.99,111.25 514.31,111.68 514.64,112.06 514.97,112.39 515.30,112.67 515.62,112.90 515.95,113.07 516.28,113.20 516.61,113.28 516.93,113.30 517.26,113.27 517.59,113.19 517.92,113.07 518.24,112.89 518.57,112.65 518.90,112.37 519.22,112.04 519.55,111.66 519.88,111.23 520.21,110.75 520.53,110.22 520.86,109.64 521.19,109.01 521.52,108.34 521.84,107.62 522.17,106.86 522.50,106.05 522.83,105.19 523.15,104.30 523.48,103.36 523.81,102.38 524.13,101.36 524.46,100.30 524.79,99.20 525.12,98.06 525.44,96.89 525.77,95.68 526.10,94.44 526.43,93.17 526.75,91.87 527.08,90.53 527.41,89.17 527.74,87.78 528.06,86.36 528.39,84.92 528.72,83.46 529.04,81.97 529.37,80.47 529.70,78.94 530.03,77.40 530.35,75.84 530.68,74.27 531.01,72.69 531.34,71.10 531.66,69.49 531.99,67.88 532.32,66.26 532.65,64.64 532.97,63.02 533.30,61.39 533.63,59.76 533.95,58.14 534.28,56.52 534.61,54.90 534.94,53.29 535.26,51.69 535.59,50.10 535.92,48.53 536.25,46.96 536.57,45.41 536.90,43.87 537.23,42.36 537.56,40.86 537.88,39.38 538.21,37.93 538.54,36.49 538.86,35.09 539.19,33.71 539.52,32.36 539.85,31.03 540.17,29.74 540.50,28.48 540.83,27.25 541.16,26.06 541.48,24.90 541.81,23.78 542.14,22.69 542.47,21.65 542.79,20.64 543.12,19.68 543.45,18.76 543.77,17.88 544.10,17.04 544.43,16.25 544.76,15.50 545.08,14.80 545.41,14.14 545.74,13.54 546.07,12.98 546.39,12.47 546.72,12.00 547.05,11.59 547.38,11.23 547.70,10.91 548.03,10.65 548.36,10.44 548.68,10.28 549.01,10.17 549.34,10.11 549.67,10.10 549.99,10.15 550.32,10.24 550.65,10.39 550.98,10.59 551.30,10.83 551.63,11.13 551.96,11.48 552.29,11.88 552.61,12.33 552.94,12.82 553.27,13.37 553.59,13.96 553.92,14.61 554.25,15.29 554.58,16.03 554.90,16.81 555.23,17.63 555.56,18.50 555.89,19.41 556.21,20.36 556.54,21.36 556.87,22.39 557.20,23.46 557.52,24.57 557.85,25.72 558.18,26.91 558.50,28.12 558.83,29.37 559.16,30.66 559.49,31.97 559.81,33.32 560.14,34.69 560.47,36.09 560.80,37.51 561.12,38.96 561.45,40.43 561.78,41.92 562.11,43.44 562.43,44.97 562.76,46.51 563.09,48.07 563.41,49.65 563.74,51.24 564.07,52.83 564.40,54.44 564.72,56.05 565.05,57.67 565.38,59.30 565.71,60.92 566.03,62.55 566.36,64.17 566.69,65.80 567.02,67.42 567.34,69.03 567.67,70.64 568.00,72.23 568.32,73.82 568.65,75.39 568.98,76.96 569.31,78.50 569.63,80.03 569.96,81.54 570.29,83.03 570.62,84.50 570.94,85.95 571.27,87.37 571.60,88.77 571.93,90.14 572.25,91.49 572.58,92.80 572.91,94.08 573.23,95.33 573.56,96.55 573.89,97.73 574.22,98.88 574.54,99.98 574.87,101.06 575.20,102.09 575.53,103.08 575.85,104.03 576.18,104.94 576.51,105.81 576.84,106.63 577.16,107.41 577.49,108.14 577.82,108.82 578.14,109.46 578.47,110.05 578.80,110.60 579.13,111.09 579.45,111.54 579.78,111.94 580.11,112.28 580.44,112.58 580.76,112.82 581.09,113.02 581.42,113.16 581.75,113.26 582.07,113.30 582.40,113.29 582.73,113.23 583.05,113.11 583.38,112.95 583.71,112.74 584.04,112.47 584.36,112.16 584.69,111.79 585.02,111.38 585.35,110.91 585.67,110.40 586.00,109.84 586.33,109.23 586.66,108.57 586.98,107.87 587.31,107.12 587.64,106.33 587.96,105.49 588.29,104.60 588.62,103.68 588.95,102.71 589.27,101.71 589.60,100.66 589.93,99.57 590.26,98.45 590.58,97.29 590.91,96.10 591.24,94.87 591.57,93.60 591.89,92.31 592.22,90.99 592.55,89.63 592.87,88.25 593.20,86.84 593.53,85.41 593.86,83.95 594.18,82.48 594.51,80.98 594.84,79.46 595.17,77.92 595.49,76.37 595.82,74.81 596.15,73.23 596.48,71.64 596.80,70.03 597.13,68.43 597.46,66.81 597.78,65.19 598.11,63.57 598.44,61.94 598.77,60.31 599.09,58.69 599.42,57.07 599.75,55.45 600.08,53.84 600.40,52.23 600.73,50.64 601.06,49.06 601.39,47.49 601.71,45.93 602.04,44.39 602.37,42.87 602.69,41.36 603.02,39.88 603.35,38.42 603.68,36.98 604.00,35.56 604.33,34.17 604.66,32.81 604.99,31.48 605.31,30.17 605.64,28.90 605.97,27.66 606.30,26.46 606.62,25.29 606.95,24.15 607.28,23.06 607.60,22.00 607.93,20.98 608.26,20.00 608.59,19.06 608.91,18.17 609.24,17.32 609.57,16.51 609.90,15.75 610.22,15.03 610.55,14.36 610.88,13.74 611.21,13.16 611.53,12.63 611.86,12.15 612.19,11.72 612.51,11.34 612.84,11.01 613.17,10.73 613.50,10.51 613.82,10.33 614.15,10.20 614.48,10.12 614.81,10.10 615.13,10.13 615.46,10.20 615.79,10.33 616.12,10.51 616.44,10.74 616.77,11.03 617.10,11.36 617.42,11.74 617.75,12.17 618.08,12.65 618.41,13.18 618.73,13.76 619.06,14.38 619.39,15.06 619.72,15.77 620.04,16.54 620.37,17.35 620.70,18.20 621.03,19.10 621.35,20.04 621.68,21.02 622.01,22.04 622.33,23.10 622.66,24.19 622.99,25.33 623.32,26.50 623.64,27.71 623.97,28.95 624.30,30.22 624.63,31.53 624.95,32.86 625.28,34.22 625.61,35.61 625.94,37.03 626.26,38.47 626.59,39.93 626.92,41.42 627.24,42.92 627.57,44.45 627.90,45.99 628.23,47.54 628.55,49.12 628.88,50.70 629.21,52.29 629.54,53.90 629.86,55.51 630.19,57.13 630.52,58.75 630.85,60.37 631.17,62.00 631.50,63.62 631.83,65.25 632.15,66.87 632.48,68.49 632.81,70.09 633.14,71.69 633.46,73.28 633.79,74.86 634.12,76.43 634.45,77.98 634.77,79.52 635.10,81.03 635.43,82.53 635.76,84.01 636.08,85.46 636.41,86.90 636.74,88.30 637.06,89.68 637.39,91.03 637.72,92.36 638.05,93.65 638.37,94.91 638.70,96.14 639.03,97.33 639.36,98.49 639.68,99.61 640.01,100.70 640.34,101.74 640.67,102.75 640.99,103.71 641.32,104.64 641.65,105.52 641.97,106.35 642.30,107.15 642.63,107.90 642.96,108.60 643.28,109.25 643.61,109.86 643.94,110.42 644.27,110.93 644.59,111.39 644.92,111.81 645.25,112.17 645.58,112.48 645.90,112.75 646.23,112.96 646.56,113.12 646.88,113.23 647.21,113.29 647.54,113.30 647.87,113.25 648.19,113.16 648.52,113.01 648.85,112.82 649.18,112.57 649.50,112.27 649.83,111.92 650.16,111.52 650.49,111.08 650.81,110.58 651.14,110.03 651.47,109.44 651.79,108.80 652.12,108.11 652.45,107.38 652.78,106.60 653.10,105.77 653.43,104.91 653.76,104.00 654.09,103.04 654.41,102.05 654.74,101.02 655.07,99.94 655.40,98.83 655.72,97.69 656.05,96.50 656.38,95.29 656.70,94.03 657.03,92.75 657.36,91.44 657.69,90.09 658.01,88.72 658.34,87.32 658.67,85.90 659.00,84.45 659.32,82.98 659.65,81.49 659.98,79.97 660.31,78.44 660.63,76.90 660.96,75.34 661.29,73.76 661.61,72.17 661.94,70.58 662.27,68.97 662.60,67.36 662.92,65.74 663.25,64.11 663.58,62.49 663.91,60.86 664.23,59.24 664.56,57.61 664.89,56.00 665.22,54.38 665.54,52.78 665.87,51.18 666.20,49.59 666.52,48.02 666.85,46.46 667.18,44.91 667.51,43.38 667.83,41.87 668.16,40.38 668.49,38.91 668.82,37.46 669.14,36.04 669.47,34.64 669.80,33.27 670.13,31.92 670.45,30.61 670.78,29.33 671.11,28.08 671.43,26.86 671.76,25.68 672.09,24.53 672.42,23.42 672.74,22.35 673.07,21.32 673.40,20.33 673.73,19.38 674.05,18.47 674.38,17.60 674.71,16.78 675.04,16.00 675.36,15.27 675.69,14.58 676.02,13.94 676.34,13.35 676.67,12.81 677.00,12.31 677.33,11.86 677.65,11.47 677.98,11.12 678.31,10.82 678.64,10.58 678.96,10.38 679.29,10.24 679.62,10.14 679.95,10.10 680.27,10.11 680.60,10.17" fill="none" stroke="#a8a8a8" stroke-width="1.8" stroke-linejoin="round"/>
<polyline points="484.20,6.70 484.53,6.71 484.85,6.78 485.18,6.90 485.51,7.07 485.84,7.30 486.16,7.58 486.49,7.92 486.82,8.31 487.15,8.75 487.47,9.25 487.80,9.80 488.13,10.39 488.46,11.04 488.78,11.74 489.11,12.49 489.44,13.29 489.76,14.14 490.09,15.03 490.42,15.98 490.75,16.96 491.07,17.99 491.40,19.07 491.73,20.18 492.06,21.34 492.38,22.54 492.71,23.77 493.04,25.05 493.37,26.36 493.69,27.70 494.02,29.08 494.35,30.50 494.67,31.94 495.00,33.41 495.33,34.91 495.66,36.44 495.98,37.99 496.31,39.57 496.64,41.16 496.97,42.78 497.29,44.42 497.62,46.07 497.95,47.74 498.28,49.43 498.60,51.12 498.93,52.83 499.26,54.54 499.58,56.27 499.91,57.99 500.24,59.72 500.57,61.46 500.89,63.19 501.22,64.92 501.55,66.65 501.88,68.38 502.20,70.09 502.53,71.80 502.86,73.50 503.19,75.19 503.51,76.86 503.84,78.52 504.17,80.16 504.49,81.79 504.82,83.39 505.15,84.97 505.48,86.53 505.80,88.06 506.13,89.57 506.46,91.05 506.79,92.50 507.11,93.92 507.44,95.31 507.77,96.67 508.10,97.99 508.42,99.27 508.75,100.52 509.08,101.73 509.40,102.90 509.73,104.03 510.06,105.11 510.39,106.15 510.71,107.15 511.04,108.11 511.37,109.01 511.70,109.87 512.02,110.69 512.35,111.45 512.68,112.16 513.01,112.83 513.33,113.44 513.66,114.00 513.99,114.51 514.31,114.97 514.64,115.38 514.97,115.73 515.30,116.03 515.62,116.27 515.95,116.46 516.28,116.59 516.61,116.67 516.93,116.70 517.26,116.67 517.59,116.59 517.92,116.45 518.24,116.26 518.57,116.01 518.90,115.71 519.22,115.36 519.55,114.95 519.88,114.49 520.21,113.98 520.53,113.41 520.86,112.80 521.19,112.13 521.52,111.41 521.84,110.65 522.17,109.83 522.50,108.97 522.83,108.06 523.15,107.10 523.48,106.10 523.81,105.06 524.13,103.97 524.46,102.84 524.79,101.67 525.12,100.46 525.44,99.21 525.77,97.92 526.10,96.60 526.43,95.24 526.75,93.85 527.08,92.43 527.41,90.98 527.74,89.50 528.06,87.99 528.39,86.45 528.72,84.89 529.04,83.31 529.37,81.70 529.70,80.08 530.03,78.44 530.35,76.78 530.68,75.10 531.01,73.41 531.34,71.71 531.66,70.01 531.99,68.29 532.32,66.56 532.65,64.83 532.97,63.10 533.30,61.37 533.63,59.64 533.95,57.90 534.28,56.18 534.61,54.46 534.94,52.74 535.26,51.04 535.59,49.34 535.92,47.66 536.25,45.99 536.57,44.34 536.90,42.70 537.23,41.08 537.56,39.49 537.88,37.91 538.21,36.36 538.54,34.83 538.86,33.33 539.19,31.86 539.52,30.42 539.85,29.01 540.17,27.63 540.50,26.29 540.83,24.98 541.16,23.71 541.48,22.48 541.81,21.28 542.14,20.12 542.47,19.01 542.79,17.94 543.12,16.91 543.45,15.93 543.77,14.99 544.10,14.10 544.43,13.25 544.76,12.46 545.08,11.71 545.41,11.01 545.74,10.36 546.07,9.77 546.39,9.22 546.72,8.73 547.05,8.29 547.38,7.90 547.70,7.57 548.03,7.29 548.36,7.06 548.68,6.89 549.01,6.77 549.34,6.71 549.67,6.70 549.99,6.75 550.32,6.85 550.65,7.01 550.98,7.22 551.30,7.48 551.63,7.80 551.96,8.17 552.29,8.60 552.61,9.07 552.94,9.60 553.27,10.19 553.59,10.82 553.92,11.50 554.25,12.24 554.58,13.02 554.90,13.85 555.23,14.73 555.56,15.65 555.89,16.62 556.21,17.64 556.54,18.70 556.87,19.80 557.20,20.94 557.52,22.13 557.85,23.35 558.18,24.61 558.50,25.91 558.83,27.25 559.16,28.61 559.49,30.01 559.81,31.45 560.14,32.91 560.47,34.40 560.80,35.92 561.12,37.46 561.45,39.03 561.78,40.62 562.11,42.23 562.43,43.86 562.76,45.51 563.09,47.18 563.41,48.86 563.74,50.55 564.07,52.25 564.40,53.96 564.72,55.68 565.05,57.41 565.38,59.14 565.71,60.87 566.03,62.60 566.36,64.34 566.69,66.07 567.02,67.79 567.34,69.51 567.67,71.22 568.00,72.93 568.32,74.62 568.65,76.30 568.98,77.96 569.31,79.61 569.63,81.24 569.96,82.85 570.29,84.44 570.62,86.01 570.94,87.55 571.27,89.07 571.60,90.56 571.93,92.02 572.25,93.45 572.58,94.85 572.91,96.21 573.23,97.55 573.56,98.84 573.89,100.10 574.22,101.32 574.54,102.51 574.87,103.65 575.20,104.75 575.53,105.81 575.85,106.82 576.18,107.79 576.51,108.71 576.84,109.59 577.16,110.42 577.49,111.20 577.82,111.93 578.14,112.61 578.47,113.24 578.80,113.82 579.13,114.35 579.45,114.82 579.78,115.25 580.11,115.61 580.44,115.93 580.76,116.19 581.09,116.40 581.42,116.55 581.75,116.65 582.07,116.70 582.40,116.69 582.73,116.62 583.05,116.50 583.38,116.33 583.71,116.10 584.04,115.82 584.36,115.48 584.69,115.09 585.02,114.65 585.35,114.16 585.67,113.61 586.00,113.01 586.33,112.36 586.66,111.66 586.98,110.91 587.31,110.11 587.64,109.27 587.96,108.37 588.29,107.43 588.62,106.45 588.95,105.42 589.27,104.34 589.60,103.23 589.93,102.07 590.26,100.87 590.58,99.64 590.91,98.36 591.24,97.05 591.57,95.71 591.89,94.33 592.22,92.92 592.55,91.47 592.87,90.00 593.20,88.50 593.53,86.97 593.86,85.42 594.18,83.85 594.51,82.25 594.84,80.63 595.17,78.99 595.49,77.34 595.82,75.67 596.15,73.99 596.48,72.29 596.80,70.58 597.13,68.87 597.46,67.15 597.78,65.42 598.11,63.69 598.44,61.96 598.77,60.22 599.09,58.49 599.42,56.76 599.75,55.04 600.08,53.32 600.40,51.61 600.73,49.91 601.06,48.22 601.39,46.55 601.71,44.89 602.04,43.25 602.37,41.63 602.69,40.02 603.02,38.44 603.35,36.88 603.68,35.35 604.00,33.84 604.33,32.36 604.66,30.91 604.99,29.49 605.31,28.10 605.64,26.74 605.97,25.42 606.30,24.14 606.62,22.89 606.95,21.68 607.28,20.51 607.60,19.38 607.93,18.30 608.26,17.25 608.59,16.25 608.91,15.30 609.24,14.39 609.57,13.53 609.90,12.72 610.22,11.96 610.55,11.24 610.88,10.58 611.21,9.96 611.53,9.40 611.86,8.89 612.19,8.43 612.51,8.03 612.84,7.67 613.17,7.38 613.50,7.13 613.82,6.94 614.15,6.81 614.48,6.73 614.81,6.70 615.13,6.73 615.46,6.81 615.79,6.95 616.12,7.14 616.44,7.39 616.77,7.69 617.10,8.04 617.42,8.45 617.75,8.91 618.08,9.42 618.41,9.98 618.73,10.60 619.06,11.27 619.39,11.98 619.72,12.75 620.04,13.56 620.37,14.43 620.70,15.33 621.03,16.29 621.35,17.29 621.68,18.33 622.01,19.42 622.33,20.55 622.66,21.72 622.99,22.93 623.32,24.18 623.64,25.47 623.97,26.79 624.30,28.15 624.63,29.54 624.95,30.96 625.28,32.41 625.61,33.89 625.94,35.40 626.26,36.94 626.59,38.50 626.92,40.08 627.24,41.69 627.57,43.31 627.90,44.95 628.23,46.61 628.55,48.29 628.88,49.97 629.21,51.67 629.54,53.38 629.86,55.10 630.19,56.82 630.52,58.55 630.85,60.29 631.17,62.02 631.50,63.75 631.83,65.48 632.15,67.21 632.48,68.93 632.81,70.65 633.14,72.35 633.46,74.05 633.79,75.73 634.12,77.40 634.45,79.05 634.77,80.69 635.10,82.31 635.43,83.90 635.76,85.48 636.08,87.03 636.41,88.56 636.74,90.05 637.06,91.53 637.39,92.97 637.72,94.38 638.05,95.76 638.37,97.10 638.70,98.41 639.03,99.68 639.36,100.92 639.68,102.11 640.01,103.27 640.34,104.38 640.67,105.45 640.99,106.48 641.32,107.47 641.65,108.41 641.97,109.30 642.30,110.14 642.63,110.94 642.96,111.69 643.28,112.39 643.61,113.03 643.94,113.63 644.27,114.17 644.59,114.67 644.92,115.11 645.25,115.50 645.58,115.83 645.90,116.11 646.23,116.34 646.56,116.51 646.88,116.63 647.21,116.69 647.54,116.70 647.87,116.65 648.19,116.55 648.52,116.39 648.85,116.18 649.18,115.92 649.50,115.60 649.83,115.23 650.16,114.81 650.49,114.33 650.81,113.80 651.14,113.22 651.47,112.59 651.79,111.90 652.12,111.17 652.45,110.39 652.78,109.56 653.10,108.68 653.43,107.75 653.76,106.78 654.09,105.77 654.41,104.71 654.74,103.61 655.07,102.46 655.40,101.28 655.72,100.06 656.05,98.80 656.38,97.50 656.70,96.16 657.03,94.80 657.36,93.40 657.69,91.96 658.01,90.50 658.34,89.01 658.67,87.49 659.00,85.95 659.32,84.38 659.65,82.79 659.98,81.18 660.31,79.55 660.63,77.90 660.96,76.24 661.29,74.56 661.61,72.86 661.94,71.16 662.27,69.45 662.60,67.73 662.92,66.00 663.25,64.27 663.58,62.54 663.91,60.81 664.23,59.07 664.56,57.34 664.89,55.62 665.22,53.90 665.54,52.19 665.87,50.49 666.20,48.79 666.52,47.12 666.85,45.45 667.18,43.80 667.51,42.17 667.83,40.56 668.16,38.97 668.49,37.41 668.82,35.86 669.14,34.35 669.47,32.86 669.80,31.39 670.13,29.96 670.45,28.56 670.78,27.20 671.11,25.86 671.43,24.57 671.76,23.31 672.09,22.08 672.42,20.90 672.74,19.76 673.07,18.66 673.40,17.60 673.73,16.59 674.05,15.62 674.38,14.69 674.71,13.82 675.04,12.99 675.36,12.21 675.69,11.48 676.02,10.79 676.34,10.16 676.67,9.58 677.00,9.06 677.33,8.58 677.65,8.16 677.98,7.79 678.31,7.47 678.64,7.21 678.96,7.00 679.29,6.85 679.62,6.75 679.95,6.70 680.27,6.71 680.60,6.78" fill="none" stroke="#6e6e6e" stroke-width="1.8" stroke-linejoin="round"/>
<polyline points="484.20,1.20 484.53,1.21 484.85,1.29 485.18,1.42 485.51,1.61 485.84,1.86 486.16,2.17 486.49,2.54 486.82,2.97 487.15,3.46 487.47,4.00 487.80,4.60 488.13,5.26 488.46,5.98 488.78,6.75 489.11,7.57 489.44,8.45 489.76,9.38 490.09,10.37 490.42,11.40 490.75,12.49 491.07,13.62 491.40,14.80 491.73,16.03 492.06,17.30 492.38,18.62 492.71,19.98 493.04,21.38 493.37,22.82 493.69,24.30 494.02,25.82 494.35,27.37 494.67,28.96 495.00,30.58 495.33,32.23 495.66,33.91 495.98,35.62 496.31,37.35 496.64,39.11 496.97,40.89 497.29,42.69 497.62,44.51 497.95,46.35 498.28,48.20 498.60,50.06 498.93,51.94 499.26,53.83 499.58,55.72 499.91,57.62 500.24,59.53 500.57,61.43 500.89,63.34 501.22,65.24 501.55,67.15 501.88,69.04 502.20,70.93 502.53,72.81 502.86,74.68 503.19,76.54 503.51,78.38 503.84,80.20 504.17,82.01 504.49,83.79 504.82,85.56 505.15,87.30 505.48,89.01 505.80,90.70 506.13,92.36 506.46,93.99 506.79,95.58 507.11,97.15 507.44,98.67 507.77,100.17 508.10,101.62 508.42,103.03 508.75,104.40 509.08,105.73 509.40,107.02 509.73,108.26 510.06,109.45 510.39,110.60 510.71,111.70 511.04,112.75 511.37,113.74 511.70,114.69 512.02,115.58 512.35,116.43 512.68,117.21 513.01,117.94 513.33,118.62 513.66,119.23 513.99,119.80 514.31,120.30 514.64,120.74 514.97,121.13 515.30,121.46 515.62,121.73 515.95,121.93 516.28,122.08 516.61,122.17 516.93,122.20 517.26,122.17 517.59,122.08 517.92,121.93 518.24,121.71 518.57,121.44 518.90,121.11 519.22,120.72 519.55,120.27 519.88,119.77 520.21,119.20 520.53,118.58 520.86,117.91 521.19,117.17 521.52,116.38 521.84,115.54 522.17,114.64 522.50,113.70 522.83,112.69 523.15,111.64 523.48,110.54 523.81,109.39 524.13,108.20 524.46,106.95 524.79,105.67 525.12,104.33 525.44,102.96 525.77,101.54 526.10,100.09 526.43,98.60 526.75,97.07 527.08,95.50 527.41,93.91 527.74,92.28 528.06,90.62 528.39,88.93 528.72,87.21 529.04,85.47 529.37,83.70 529.70,81.92 530.03,80.11 530.35,78.28 530.68,76.44 531.01,74.59 531.34,72.72 531.66,70.84 531.99,68.95 532.32,67.05 532.65,65.15 532.97,63.24 533.30,61.34 533.63,59.43 533.95,57.53 534.28,55.63 534.61,53.73 534.94,51.85 535.26,49.97 535.59,48.10 535.92,46.25 536.25,44.42 536.57,42.60 536.90,40.80 537.23,39.02 537.56,37.26 537.88,35.53 538.21,33.83 538.54,32.15 538.86,30.50 539.19,28.88 539.52,27.29 539.85,25.74 540.17,24.23 540.50,22.75 540.83,21.31 541.16,19.91 541.48,18.55 541.81,17.24 542.14,15.97 542.47,14.74 542.79,13.56 543.12,12.43 543.45,11.35 543.77,10.32 544.10,9.34 544.43,8.41 544.76,7.53 545.08,6.71 545.41,5.94 545.74,5.23 546.07,4.57 546.39,3.97 546.72,3.43 547.05,2.95 547.38,2.52 547.70,2.15 548.03,1.85 548.36,1.60 548.68,1.41 549.01,1.28 549.34,1.21 549.67,1.20 549.99,1.26 550.32,1.37 550.65,1.54 550.98,1.77 551.30,2.06 551.63,2.41 551.96,2.82 552.29,3.29 552.61,3.81 552.94,4.39 553.27,5.03 553.59,5.73 553.92,6.48 554.25,7.29 554.58,8.15 554.90,9.06 555.23,10.03 555.56,11.05 555.89,12.12 556.21,13.23 556.54,14.40 556.87,15.61 557.20,16.87 557.52,18.17 557.85,19.52 558.18,20.90 558.50,22.33 558.83,23.80 559.16,25.30 559.49,26.85 559.81,28.42 560.14,30.03 560.47,31.67 560.80,33.34 561.12,35.04 561.45,36.76 561.78,38.51 562.11,40.29 562.43,42.08 562.76,43.89 563.09,45.72 563.41,47.57 563.74,49.43 564.07,51.31 564.40,53.19 564.72,55.08 565.05,56.98 565.38,58.88 565.71,60.79 566.03,62.70 566.36,64.60 566.69,66.50 567.02,68.40 567.34,70.29 567.67,72.18 568.00,74.05 568.32,75.91 568.65,77.76 568.98,79.59 569.31,81.40 569.63,83.19 569.96,84.96 570.29,86.71 570.62,88.44 570.94,90.13 571.27,91.80 571.60,93.44 571.93,95.05 572.25,96.62 572.58,98.16 572.91,99.67 573.23,101.13 573.56,102.56 573.89,103.94 574.22,105.29 574.54,106.59 574.87,107.84 575.20,109.05 575.53,110.22 575.85,111.33 576.18,112.40 576.51,113.41 576.84,114.38 577.16,115.29 577.49,116.15 577.82,116.95 578.14,117.70 578.47,118.39 578.80,119.03 579.13,119.61 579.45,120.14 579.78,120.60 580.11,121.01 580.44,121.35 580.76,121.64 581.09,121.87 581.42,122.04 581.75,122.15 582.07,122.20 582.40,122.19 582.73,122.11 583.05,121.98 583.38,121.79 583.71,121.54 584.04,121.23 584.36,120.86 584.69,120.43 585.02,119.95 585.35,119.40 585.67,118.80 586.00,118.14 586.33,117.43 586.66,116.66 586.98,115.83 587.31,114.95 587.64,114.02 587.96,113.04 588.29,112.00 588.62,110.92 588.95,109.79 589.27,108.61 589.60,107.38 589.93,106.11 590.26,104.79 590.58,103.43 590.91,102.03 591.24,100.59 591.57,99.11 591.89,97.59 592.22,96.04 592.55,94.45 592.87,92.83 593.20,91.18 593.53,89.50 593.86,87.79 594.18,86.06 594.51,84.30 594.84,82.52 595.17,80.72 595.49,78.90 595.82,77.07 596.15,75.21 596.48,73.35 596.80,71.47 597.13,69.59 597.46,67.69 597.78,65.79 598.11,63.89 598.44,61.98 598.77,60.07 599.09,58.17 599.42,56.27 599.75,54.37 600.08,52.48 600.40,50.60 600.73,48.73 601.06,46.88 601.39,45.04 601.71,43.21 602.04,41.41 602.37,39.62 602.69,37.85 603.02,36.11 603.35,34.40 603.68,32.71 604.00,31.05 604.33,29.42 604.66,27.83 604.99,26.26 605.31,24.74 605.64,23.25 605.97,21.79 606.30,20.38 606.62,19.01 606.95,17.68 607.28,16.39 607.60,15.15 607.93,13.96 608.26,12.81 608.59,11.71 608.91,10.66 609.24,9.66 609.57,8.72 609.90,7.82 610.22,6.98 610.55,6.19 610.88,5.46 611.21,4.79 611.53,4.17 611.86,3.61 612.19,3.10 612.51,2.66 612.84,2.27 613.17,1.94 613.50,1.68 613.82,1.47 614.15,1.32 614.48,1.23 614.81,1.20 615.13,1.23 615.46,1.32 615.79,1.47 616.12,1.68 616.44,1.96 616.77,2.29 617.10,2.67 617.42,3.12 617.75,3.63 618.08,4.19 618.41,4.81 618.73,5.49 619.06,6.22 619.39,7.01 619.72,7.85 620.04,8.75 620.37,9.70 620.70,10.70 621.03,11.75 621.35,12.85 621.68,14.00 622.01,15.19 622.33,16.44 622.66,17.73 622.99,19.06 623.32,20.43 623.64,21.84 623.97,23.30 624.30,24.79 624.63,26.32 624.95,27.88 625.28,29.48 625.61,31.11 625.94,32.77 626.26,34.46 626.59,36.18 626.92,37.92 627.24,39.68 627.57,41.47 627.90,43.28 628.23,45.10 628.55,46.95 628.88,48.80 629.21,50.67 629.54,52.55 629.86,54.44 630.19,56.34 630.52,58.24 630.85,60.14 631.17,62.05 631.50,63.96 631.83,65.86 632.15,67.76 632.48,69.66 632.81,71.54 633.14,73.42 633.46,75.28 633.79,77.13 634.12,78.97 634.45,80.79 634.77,82.59 635.10,84.37 635.43,86.12 635.76,87.86 636.08,89.56 636.41,91.24 636.74,92.89 637.06,94.51 637.39,96.09 637.72,97.65 638.05,99.16 638.37,100.64 638.70,102.08 639.03,103.48 639.36,104.84 639.68,106.15 640.01,107.42 640.34,108.65 640.67,109.83 640.99,110.96 641.32,112.04 641.65,113.08 641.97,114.06 642.30,114.99 642.63,115.86 642.96,116.69 643.28,117.45 643.61,118.17 643.94,118.82 644.27,119.42 644.59,119.96 644.92,120.45 645.25,120.88 645.58,121.24 645.90,121.55 646.23,121.80 646.56,121.99 646.88,122.12 647.21,122.19 647.54,122.20 647.87,122.15 648.19,122.03 648.52,121.86 648.85,121.63 649.18,121.34 649.50,120.99 649.83,120.58 650.16,120.12 650.49,119.59 650.81,119.01 651.14,118.37 651.47,117.67 651.79,116.92 652.12,116.12 652.45,115.26 652.78,114.34 653.10,113.38 653.43,112.36 653.76,111.29 654.09,110.18 654.41,109.01 654.74,107.80 655.07,106.54 655.40,105.24 655.72,103.89 656.05,102.51 656.38,101.08 656.70,99.61 657.03,98.11 657.36,96.57 657.69,94.99 658.01,93.38 658.34,91.74 658.67,90.07 659.00,88.37 659.32,86.65 659.65,84.90 659.98,83.13 660.31,81.33 660.63,79.52 660.96,77.69 661.29,75.84 661.61,73.98 661.94,72.11 662.27,70.22 662.60,68.33 662.92,66.43 663.25,64.53 663.58,62.63 663.91,60.72 664.23,58.81 664.56,56.91 664.89,55.01 665.22,53.12 665.54,51.24 665.87,49.36 666.20,47.50 666.52,45.66 666.85,43.83 667.18,42.01 667.51,40.22 667.83,38.45 668.16,36.70 668.49,34.98 668.82,33.28 669.14,31.61 669.47,29.97 669.80,28.36 670.13,26.79 670.45,25.25 670.78,23.75 671.11,22.28 671.43,20.85 671.76,19.47 672.09,18.12 672.42,16.82 672.74,15.56 673.07,14.35 673.40,13.19 673.73,12.08 674.05,11.01 674.38,9.99 674.71,9.03 675.04,8.12 675.36,7.26 675.69,6.45 676.02,5.70 676.34,5.01 676.67,4.37 677.00,3.79 677.33,3.27 677.65,2.80 677.98,2.40 678.31,2.05 678.64,1.76 678.96,1.53 679.29,1.36 679.62,1.25 679.95,1.20 680.27,1.21 680.60,1.28" fill="none" stroke="#000000" stroke-width="2.1" stroke-linejoin="round"/>
<polyline points="484.20,19.30 484.69,19.30 485.18,19.32 485.67,19.36 486.16,19.41 486.65,19.47 487.15,19.54 487.64,19.64 488.13,19.74 488.62,19.86 489.11,19.99 489.60,20.13 490.09,20.29 490.58,20.46 491.07,20.64 491.56,20.84 492.06,21.04 492.55,21.26 493.04,21.49 493.53,21.72 494.02,21.97 494.51,22.22 495.00,22.48 495.49,22.75 495.98,23.03 496.47,23.31 496.97,23.60 497.46,23.89 497.95,24.19 498.44,24.49 498.93,24.79 499.42,25.10 499.91,25.41 500.40,25.72 500.89,26.03 501.38,26.34 501.88,26.64 502.37,26.95 502.86,27.26 503.35,27.56 503.84,27.85 504.33,28.15 504.82,28.43 505.31,28.71 505.80,28.99 506.30,29.26 506.79,29.52 507.28,29.77 507.77,30.01 508.26,30.25 508.75,30.47 509.24,30.69 509.73,30.89 510.22,31.08 510.71,31.26 511.20,31.43 511.70,31.59 512.19,31.73 512.68,31.86 513.17,31.98 513.66,32.08 514.15,32.17 514.64,32.24 515.13,32.30 515.62,32.35 516.12,32.38 516.61,32.40 517.10,32.40 517.59,32.39 518.08,32.36 518.57,32.32 519.06,32.26 519.55,32.19 520.04,32.11 520.53,32.01 521.02,31.90 521.52,31.77 522.01,31.63 522.50,31.48 522.99,31.31 523.48,31.14 523.97,30.95 524.46,30.75 524.95,30.54 525.44,30.32 525.93,30.09 526.43,29.84 526.92,29.59 527.41,29.34 527.90,29.07 528.39,28.80 528.88,28.52 529.37,28.23 529.86,27.94 530.35,27.65 530.85,27.35 531.34,27.04 531.83,26.74 532.32,26.43 532.81,26.12 533.30,25.81 533.79,25.50 534.28,25.19 534.77,24.89 535.26,24.58 535.75,24.28 536.25,23.98 536.74,23.68 537.23,23.39 537.72,23.11 538.21,22.83 538.70,22.56 539.19,22.30 539.68,22.04 540.17,21.79 540.66,21.55 541.16,21.33 541.65,21.11 542.14,20.90 542.63,20.70 543.12,20.52 543.61,20.34 544.10,20.18 544.59,20.03 545.08,19.90 545.58,19.77 546.07,19.67 546.56,19.57 547.05,19.49 547.54,19.42 548.03,19.37 548.52,19.33 549.01,19.31 549.50,19.30 549.99,19.31 550.49,19.33 550.98,19.36 551.47,19.41 551.96,19.48 552.45,19.55 552.94,19.65 553.43,19.75 553.92,19.87 554.41,20.01 554.90,20.15 555.39,20.31 555.89,20.48 556.38,20.67 556.87,20.86 557.36,21.07 557.85,21.28 558.34,21.51 558.83,21.75 559.32,21.99 559.81,22.25 560.30,22.51 560.80,22.78 561.29,23.06 561.78,23.34 562.27,23.63 562.76,23.92 563.25,24.22 563.74,24.52 564.23,24.83 564.72,25.13 565.22,25.44 565.71,25.75 566.20,26.06 566.69,26.37 567.18,26.68 567.67,26.98 568.16,27.29 568.65,27.59 569.14,27.88 569.63,28.18 570.12,28.46 570.62,28.74 571.11,29.02 571.60,29.29 572.09,29.55 572.58,29.80 573.07,30.04 573.56,30.27 574.05,30.50 574.54,30.71 575.03,30.91 575.53,31.10 576.02,31.28 576.51,31.45 577.00,31.60 577.49,31.74 577.98,31.87 578.47,31.99 578.96,32.09 579.45,32.18 579.95,32.25 580.44,32.31 580.93,32.35 581.42,32.38 581.91,32.40 582.40,32.40 582.89,32.38 583.38,32.36 583.87,32.31 584.36,32.26 584.86,32.18 585.35,32.10 585.84,32.00 586.33,31.88 586.82,31.76 587.31,31.62 587.80,31.46 588.29,31.30 588.78,31.12 589.27,30.93 589.76,30.73 590.26,30.51 590.75,30.29 591.24,30.06 591.73,29.82 592.22,29.57 592.71,29.31 593.20,29.04 593.69,28.77 594.18,28.49 594.67,28.20 595.17,27.91 595.66,27.61 596.15,27.31 596.64,27.01 597.13,26.70 597.62,26.40 598.11,26.09 598.60,25.78 599.09,25.47 599.59,25.16 600.08,24.85 600.57,24.55 601.06,24.25 601.55,23.95 602.04,23.65 602.53,23.36 603.02,23.08 603.51,22.80 604.00,22.53 604.50,22.27 604.99,22.01 605.48,21.77 605.97,21.53 606.46,21.30 606.95,21.08 607.44,20.88 607.93,20.68 608.42,20.50 608.91,20.32 609.40,20.16 609.90,20.02 610.39,19.88 610.88,19.76 611.37,19.65 611.86,19.56 612.35,19.48 612.84,19.42 613.33,19.37 613.82,19.33 614.32,19.31 614.81,19.30 615.30,19.31 615.79,19.33 616.28,19.37 616.77,19.42 617.26,19.48 617.75,19.56 618.24,19.66 618.73,19.76 619.23,19.89 619.72,20.02 620.21,20.17 620.70,20.33 621.19,20.50 621.68,20.69 622.17,20.88 622.66,21.09 623.15,21.31 623.64,21.54 624.13,21.77 624.63,22.02 625.12,22.28 625.61,22.54 626.10,22.81 626.59,23.09 627.08,23.37 627.57,23.66 628.06,23.95 628.55,24.25 629.05,24.55 629.54,24.86 630.03,25.17 630.52,25.48 631.01,25.78 631.50,26.09 631.99,26.40 632.48,26.71 632.97,27.02 633.46,27.32 633.96,27.62 634.45,27.92 634.94,28.21 635.43,28.49 635.92,28.77 636.41,29.05 636.90,29.31 637.39,29.57 637.88,29.82 638.37,30.07 638.87,30.30 639.36,30.52 639.85,30.73 640.34,30.93 640.83,31.12 641.32,31.30 641.81,31.47 642.30,31.62 642.79,31.76 643.28,31.89 643.78,32.00 644.27,32.10 644.76,32.19 645.25,32.26 645.74,32.31 646.23,32.36 646.72,32.38 647.21,32.40 647.70,32.40 648.19,32.38 648.69,32.35 649.18,32.31 649.67,32.25 650.16,32.17 650.65,32.09 651.14,31.99 651.63,31.87 652.12,31.74 652.61,31.60 653.10,31.44 653.60,31.28 654.09,31.10 654.58,30.91 655.07,30.70 655.56,30.49 656.05,30.27 656.54,30.03 657.03,29.79 657.52,29.54 658.01,29.28 658.50,29.01 659.00,28.74 659.49,28.46 659.98,28.17 660.47,27.88 660.96,27.58 661.45,27.28 661.94,26.98 662.43,26.67 662.92,26.36 663.41,26.05 663.91,25.74 664.40,25.43 664.89,25.13 665.38,24.82 665.87,24.51 666.36,24.21 666.85,23.91 667.34,23.62 667.83,23.33 668.33,23.05 668.82,22.77 669.31,22.50 669.80,22.24 670.29,21.99 670.78,21.74 671.27,21.50 671.76,21.28 672.25,21.06 672.74,20.86 673.24,20.66 673.73,20.48 674.22,20.31 674.71,20.15 675.20,20.00 675.69,19.87 676.18,19.75 676.67,19.64 677.16,19.55 677.65,19.47 678.14,19.41 678.64,19.36 679.13,19.33 679.62,19.31 680.11,19.30 680.60,19.31" fill="none" stroke="#1f9bc3" stroke-width="1.8"/>
<polyline points="484.20,61.52 484.69,61.82 485.18,62.12 485.67,62.42 486.16,62.72 486.65,63.02 487.15,63.32 487.64,63.61 488.13,63.90 488.62,64.19 489.11,64.48 489.60,64.76 490.09,65.03 490.58,65.30 491.07,65.57 491.56,65.83 492.06,66.08 492.55,66.33 493.04,66.57 493.53,66.80 494.02,67.02 494.51,67.24 495.00,67.45 495.49,67.65 495.98,67.84 496.47,68.02 496.97,68.19 497.46,68.36 497.95,68.51 498.44,68.65 498.93,68.78 499.42,68.90 499.91,69.02 500.40,69.11 500.89,69.20 501.38,69.28 501.88,69.35 502.37,69.40 502.86,69.44 503.35,69.47 503.84,69.49 504.33,69.50 504.82,69.49 505.31,69.45 505.80,69.39 506.30,69.29 506.79,69.17 507.28,69.02 507.77,68.85 508.26,68.65 508.75,68.42 509.24,68.17 509.73,67.90 510.22,67.60 510.71,67.29 511.20,66.95 511.70,66.60 512.19,66.22 512.68,65.83 513.17,65.43 513.66,65.01 514.15,64.58 514.64,64.14 515.13,63.69 515.62,63.24 516.12,62.78 516.61,62.31 517.10,61.85 517.59,61.38 518.08,60.92 518.57,60.45 519.06,60.00 519.55,59.54 520.04,59.10 520.53,58.67 521.02,58.24 521.52,57.83 522.01,57.44 522.50,57.06 522.99,56.70 523.48,56.35 523.97,56.03 524.46,55.72 524.95,55.44 525.44,55.18 525.93,54.94 526.43,54.73 526.92,54.55 527.41,54.39 527.90,54.26 528.39,54.15 528.88,54.07 529.37,54.02 529.86,54.00 530.35,54.00 530.85,54.02 531.34,54.04 531.83,54.08 532.32,54.13 532.81,54.19 533.30,54.26 533.79,54.35 534.28,54.44 534.77,54.55 535.26,54.66 535.75,54.79 536.25,54.93 536.74,55.08 537.23,55.24 537.72,55.40 538.21,55.58 538.70,55.77 539.19,55.97 539.68,56.17 540.17,56.38 540.66,56.61 541.16,56.84 541.65,57.07 542.14,57.32 542.63,57.57 543.12,57.82 543.61,58.09 544.10,58.35 544.59,58.63 545.08,58.91 545.58,59.19 546.07,59.48 546.56,59.77 547.05,60.06 547.54,60.35 548.03,60.65 548.52,60.95 549.01,61.25 549.50,61.55 549.99,61.85 550.49,62.16 550.98,62.46 551.47,62.76 551.96,63.05 552.45,63.35 552.94,63.64 553.43,63.93 553.92,64.22 554.41,64.51 554.90,64.79 555.39,65.06 555.89,65.33 556.38,65.60 556.87,65.85 557.36,66.11 557.85,66.35 558.34,66.59 558.83,66.82 559.32,67.05 559.81,67.26 560.30,67.47 560.80,67.67 561.29,67.86 561.78,68.04 562.27,68.21 562.76,68.37 563.25,68.53 563.74,68.67 564.23,68.80 564.72,68.92 565.22,69.03 565.71,69.12 566.20,69.21 566.69,69.29 567.18,69.35 567.67,69.40 568.16,69.45 568.65,69.48 569.14,69.49 569.63,69.50 570.12,69.49 570.62,69.45 571.11,69.38 571.60,69.28 572.09,69.16 572.58,69.00 573.07,68.83 573.56,68.62 574.05,68.40 574.54,68.14 575.03,67.87 575.53,67.57 576.02,67.25 576.51,66.91 577.00,66.56 577.49,66.18 577.98,65.79 578.47,65.38 578.96,64.97 579.45,64.54 579.95,64.10 580.44,63.65 580.93,63.19 581.42,62.73 581.91,62.26 582.40,61.80 582.89,61.33 583.38,60.87 583.87,60.40 584.36,59.95 584.86,59.50 585.35,59.05 585.84,58.62 586.33,58.20 586.82,57.79 587.31,57.40 587.80,57.02 588.29,56.66 588.78,56.32 589.27,55.99 589.76,55.69 590.26,55.41 590.75,55.15 591.24,54.92 591.73,54.71 592.22,54.53 592.71,54.37 593.20,54.24 593.69,54.14 594.18,54.07 594.67,54.02 595.17,54.00 595.66,54.00 596.15,54.02 596.64,54.05 597.13,54.09 597.62,54.14 598.11,54.20 598.60,54.27 599.09,54.36 599.59,54.45 600.08,54.56 600.57,54.68 601.06,54.81 601.55,54.95 602.04,55.09 602.53,55.25 603.02,55.42 603.51,55.60 604.00,55.79 604.50,55.99 604.99,56.19 605.48,56.41 605.97,56.63 606.46,56.86 606.95,57.10 607.44,57.34 607.93,57.59 608.42,57.85 608.91,58.12 609.40,58.38 609.90,58.66 610.39,58.94 610.88,59.22 611.37,59.51 611.86,59.80 612.35,60.09 612.84,60.39 613.33,60.68 613.82,60.98 614.32,61.28 614.81,61.58 615.30,61.89 615.79,62.19 616.28,62.49 616.77,62.79 617.26,63.09 617.75,63.38 618.24,63.67 618.73,63.97 619.23,64.25 619.72,64.54 620.21,64.82 620.70,65.09 621.19,65.36 621.68,65.62 622.17,65.88 622.66,66.13 623.15,66.38 623.64,66.62 624.13,66.85 624.63,67.07 625.12,67.29 625.61,67.49 626.10,67.69 626.59,67.88 627.08,68.06 627.57,68.23 628.06,68.39 628.55,68.54 629.05,68.68 629.54,68.81 630.03,68.93 630.52,69.04 631.01,69.13 631.50,69.22 631.99,69.30 632.48,69.36 632.97,69.41 633.46,69.45 633.96,69.48 634.45,69.49 634.94,69.50 635.43,69.48 635.92,69.44 636.41,69.37 636.90,69.27 637.39,69.14 637.88,68.99 638.37,68.81 638.87,68.60 639.36,68.37 639.85,68.12 640.34,67.84 640.83,67.54 641.32,67.22 641.81,66.88 642.30,66.52 642.79,66.14 643.28,65.75 643.78,65.34 644.27,64.92 644.76,64.49 645.25,64.05 645.74,63.60 646.23,63.14 646.72,62.68 647.21,62.21 647.70,61.75 648.19,61.28 648.69,60.82 649.18,60.35 649.67,59.90 650.16,59.45 650.65,59.01 651.14,58.57 651.63,58.15 652.12,57.75 652.61,57.36 653.10,56.98 653.60,56.62 654.09,56.28 654.58,55.96 655.07,55.66 655.56,55.38 656.05,55.13 656.54,54.90 657.03,54.69 657.52,54.51 658.01,54.36 658.50,54.23 659.00,54.13 659.49,54.06 659.98,54.02 660.47,54.00 660.96,54.01 661.45,54.02 661.94,54.05 662.43,54.09 662.92,54.14 663.41,54.21 663.91,54.28 664.40,54.37 664.89,54.46 665.38,54.57 665.87,54.69 666.36,54.82 666.85,54.96 667.34,55.11 667.83,55.27 668.33,55.44 668.82,55.62 669.31,55.81 669.80,56.01 670.29,56.22 670.78,56.43 671.27,56.66 671.76,56.89 672.25,57.12 672.74,57.37 673.24,57.62 673.73,57.88 674.22,58.14 674.71,58.41 675.20,58.69 675.69,58.97 676.18,59.25 676.67,59.54 677.16,59.83 677.65,60.12 678.14,60.42 678.64,60.72 679.13,61.02 679.62,61.32 680.11,61.62 680.60,61.92" fill="none" stroke="#f57f2a" stroke-width="1.8"/>
<polyline points="484.20,94.60 484.69,94.60 485.18,94.59 485.67,94.57 486.16,94.54 486.65,94.50 487.15,94.46 487.64,94.40 488.13,94.34 488.62,94.27 489.11,94.19 489.60,94.11 490.09,94.02 490.58,93.92 491.07,93.81 491.56,93.70 492.06,93.58 492.55,93.45 493.04,93.32 493.53,93.18 494.02,93.03 494.51,92.88 495.00,92.73 495.49,92.57 495.98,92.41 496.47,92.24 496.97,92.07 497.46,91.90 497.95,91.73 498.44,91.55 498.93,91.37 499.42,91.19 499.91,91.01 500.40,90.83 500.89,90.65 501.38,90.46 501.88,90.28 502.37,90.10 502.86,89.92 503.35,89.75 503.84,89.57 504.33,89.40 504.82,89.23 505.31,89.07 505.80,88.90 506.30,88.75 506.79,88.59 507.28,88.45 507.77,88.30 508.26,88.16 508.75,88.03 509.24,87.91 509.73,87.79 510.22,87.67 510.71,87.57 511.20,87.47 511.70,87.38 512.19,87.29 512.68,87.22 513.17,87.15 513.66,87.09 514.15,87.04 514.64,86.99 515.13,86.96 515.62,86.93 516.12,86.91 516.61,86.90 517.10,86.90 517.59,86.91 518.08,86.92 518.57,86.95 519.06,86.98 519.55,87.02 520.04,87.07 520.53,87.13 521.02,87.20 521.52,87.27 522.01,87.35 522.50,87.44 522.99,87.54 523.48,87.64 523.97,87.75 524.46,87.87 524.95,87.99 525.44,88.12 525.93,88.26 526.43,88.40 526.92,88.55 527.41,88.70 527.90,88.86 528.39,89.02 528.88,89.18 529.37,89.35 529.86,89.52 530.35,89.69 530.85,89.87 531.34,90.05 531.83,90.23 532.32,90.41 532.81,90.59 533.30,90.77 533.79,90.96 534.28,91.14 534.77,91.32 535.26,91.50 535.75,91.67 536.25,91.85 536.74,92.02 537.23,92.19 537.72,92.36 538.21,92.52 538.70,92.68 539.19,92.84 539.68,92.99 540.17,93.13 540.66,93.27 541.16,93.41 541.65,93.54 542.14,93.66 542.63,93.78 543.12,93.89 543.61,93.99 544.10,94.08 544.59,94.17 545.08,94.25 545.58,94.32 546.07,94.39 546.56,94.44 547.05,94.49 547.54,94.53 548.03,94.56 548.52,94.58 549.01,94.59 549.50,94.60 549.99,94.60 550.49,94.58 550.98,94.56 551.47,94.53 551.96,94.50 552.45,94.45 552.94,94.40 553.43,94.33 553.92,94.26 554.41,94.19 554.90,94.10 555.39,94.01 555.89,93.91 556.38,93.80 556.87,93.68 557.36,93.56 557.85,93.43 558.34,93.30 558.83,93.16 559.32,93.02 559.81,92.87 560.30,92.71 560.80,92.55 561.29,92.39 561.78,92.23 562.27,92.06 562.76,91.88 563.25,91.71 563.74,91.53 564.23,91.35 564.72,91.17 565.22,90.99 565.71,90.81 566.20,90.63 566.69,90.44 567.18,90.26 567.67,90.08 568.16,89.90 568.65,89.73 569.14,89.55 569.63,89.38 570.12,89.21 570.62,89.05 571.11,88.89 571.60,88.73 572.09,88.58 572.58,88.43 573.07,88.29 573.56,88.15 574.05,88.02 574.54,87.89 575.03,87.77 575.53,87.66 576.02,87.56 576.51,87.46 577.00,87.37 577.49,87.29 577.98,87.21 578.47,87.14 578.96,87.08 579.45,87.03 579.95,86.99 580.44,86.95 580.93,86.93 581.42,86.91 581.91,86.90 582.40,86.90 582.89,86.91 583.38,86.93 583.87,86.95 584.36,86.99 584.86,87.03 585.35,87.08 585.84,87.14 586.33,87.20 586.82,87.28 587.31,87.36 587.80,87.45 588.29,87.55 588.78,87.65 589.27,87.77 589.76,87.88 590.26,88.01 590.75,88.14 591.24,88.28 591.73,88.42 592.22,88.56 592.71,88.72 593.20,88.87 593.69,89.04 594.18,89.20 594.67,89.37 595.17,89.54 595.66,89.71 596.15,89.89 596.64,90.07 597.13,90.25 597.62,90.43 598.11,90.61 598.60,90.79 599.09,90.97 599.59,91.16 600.08,91.34 600.57,91.52 601.06,91.69 601.55,91.87 602.04,92.04 602.53,92.21 603.02,92.38 603.51,92.54 604.00,92.70 604.50,92.86 604.99,93.01 605.48,93.15 605.97,93.29 606.46,93.42 606.95,93.55 607.44,93.67 607.93,93.79 608.42,93.90 608.91,94.00 609.40,94.09 609.90,94.18 610.39,94.26 610.88,94.33 611.37,94.39 611.86,94.45 612.35,94.49 612.84,94.53 613.33,94.56 613.82,94.58 614.32,94.60 614.81,94.60 615.30,94.60 615.79,94.58 616.28,94.56 616.77,94.53 617.26,94.49 617.75,94.45 618.24,94.39 618.73,94.33 619.23,94.26 619.72,94.18 620.21,94.09 620.70,94.00 621.19,93.89 621.68,93.79 622.17,93.67 622.66,93.55 623.15,93.42 623.64,93.29 624.13,93.15 624.63,93.00 625.12,92.85 625.61,92.70 626.10,92.54 626.59,92.37 627.08,92.21 627.57,92.04 628.06,91.86 628.55,91.69 629.05,91.51 629.54,91.33 630.03,91.15 630.52,90.97 631.01,90.79 631.50,90.61 631.99,90.42 632.48,90.24 632.97,90.06 633.46,89.89 633.96,89.71 634.45,89.54 634.94,89.36 635.43,89.20 635.92,89.03 636.41,88.87 636.90,88.71 637.39,88.56 637.88,88.41 638.37,88.27 638.87,88.14 639.36,88.00 639.85,87.88 640.34,87.76 640.83,87.65 641.32,87.55 641.81,87.45 642.30,87.36 642.79,87.28 643.28,87.20 643.78,87.14 644.27,87.08 644.76,87.03 645.25,86.98 645.74,86.95 646.23,86.93 646.72,86.91 647.21,86.90 647.70,86.90 648.19,86.91 648.69,86.93 649.18,86.95 649.67,86.99 650.16,87.03 650.65,87.08 651.14,87.14 651.63,87.21 652.12,87.29 652.61,87.37 653.10,87.46 653.60,87.56 654.09,87.67 654.58,87.78 655.07,87.90 655.56,88.02 656.05,88.15 656.54,88.29 657.03,88.43 657.52,88.58 658.01,88.73 658.50,88.89 659.00,89.05 659.49,89.22 659.98,89.39 660.47,89.56 660.96,89.73 661.45,89.91 661.94,90.09 662.43,90.27 662.92,90.45 663.41,90.63 663.91,90.81 664.40,90.99 664.89,91.18 665.38,91.36 665.87,91.54 666.36,91.71 666.85,91.89 667.34,92.06 667.83,92.23 668.33,92.40 668.82,92.56 669.31,92.72 669.80,92.87 670.29,93.02 670.78,93.17 671.27,93.30 671.76,93.44 672.25,93.56 672.74,93.69 673.24,93.80 673.73,93.91 674.22,94.01 674.71,94.10 675.20,94.19 675.69,94.27 676.18,94.34 676.67,94.40 677.16,94.45 677.65,94.50 678.14,94.54 678.64,94.56 679.13,94.58 679.62,94.60 680.11,94.60 680.60,94.59" fill="none" stroke="#5c9c88" stroke-width="1.8"/>
<text x="463.00" y="29.60" text-anchor="middle" font-size="9.6" fill="#1f9bc3" font-style="italic" >D</text>
<text x="463.00" y="64.00" text-anchor="middle" font-size="9.6" fill="#f57f2a" font-style="italic" >P</text>
<text x="463.00" y="98.50" text-anchor="middle" font-size="9.6" fill="#5c9c88" font-style="italic" >S</text>
<text x="449.80" y="7.70" font-size="11.5" fill="#000" font-weight="bold" >b</text>
<path d="M491.5,25.9 C484,33 482.5,45 488.5,56" fill="none" stroke="#222" stroke-width="1.6"/>
<polygon points="483.90,59.00 491.40,52.60 492.90,62.60" fill="#222"/>
<path d="M676.3,58.1 C683,52 685.5,40 680,28" fill="none" stroke="#222" stroke-width="1.6"/>
<polygon points="675.40,21.90 684.20,25.60 677.20,31.00" fill="#222"/>
<line x1="486.00" y1="111.30" x2="516.50" y2="111.30" stroke="#111" stroke-width="1" stroke-dasharray="2.6,1.8"/>
<line x1="486.00" y1="122.30" x2="516.50" y2="122.30" stroke="#111" stroke-width="1" stroke-dasharray="2.6,1.8"/>
<line x1="486.00" y1="111.60" x2="486.00" y2="122.00" stroke="#111" stroke-width="1" />
<line x1="484.30" y1="111.80" x2="487.70" y2="111.80" stroke="#111" stroke-width="0.8" />
<line x1="484.30" y1="121.80" x2="487.70" y2="121.80" stroke="#111" stroke-width="0.8" />
<text x="471.00" y="120.60" text-anchor="middle" font-size="9.6" fill="#111" font-style="italic" >&#948;V</text>
<line x1="627.00" y1="127.80" x2="676.00" y2="127.80" stroke="#111" stroke-width="1.1" />
<polygon points="680.50,127.80 673.50,125.20 673.50,130.40" fill="#111"/>
<text x="666.80" y="123.50" text-anchor="middle" font-size="9.6" fill="#111" font-style="italic" >x</text>
<line x1="272.30" y1="124.30" x2="37.60" y2="170.00" stroke="#9a9a9a" stroke-width="0.9" stroke-dasharray="3.2,2.2"/>
<line x1="342.00" y1="124.30" x2="344.20" y2="170.00" stroke="#9a9a9a" stroke-width="0.9" stroke-dasharray="3.2,2.2"/>
<polygon points="96.50,257.47 97.44,256.73 98.39,255.99 99.33,255.25 100.28,254.51 101.22,253.77 102.17,253.03 103.11,252.29 104.06,251.55 105.00,250.81 105.95,250.07 106.89,249.33 107.84,248.60 108.78,247.86 109.73,247.12 110.67,246.38 111.62,245.64 112.56,244.90 113.51,244.16 114.45,243.42 115.40,242.68 116.34,241.94 117.29,241.20 118.23,240.46 119.18,239.72 120.12,238.98 121.07,238.25 122.02,237.51 122.96,236.77 123.91,236.03 124.85,235.29 125.80,234.55 126.74,233.81 127.69,233.07 128.63,232.33 129.57,231.60 130.52,230.86 131.47,230.12 132.41,229.38 133.35,228.64 134.30,227.91 135.25,227.17 136.19,226.43 137.13,225.69 138.08,224.95 139.03,224.22 139.97,223.48 140.91,222.74 141.86,222.00 142.81,221.27 143.75,220.53 144.69,219.79 145.64,219.06 146.59,218.32 147.53,217.59 148.47,216.85 149.42,216.11 150.37,215.38 151.31,214.64 152.25,213.91 153.20,213.17 154.15,212.44 155.09,211.71 156.03,210.97 156.98,210.24 157.93,209.51 158.87,208.77 159.81,208.04 160.76,207.31 161.70,206.58 162.65,205.85 163.59,205.12 164.54,204.39 165.49,203.66 166.43,202.94 167.38,202.21 168.32,201.49 169.26,200.77 170.21,200.04 171.16,199.32 172.10,198.61 173.05,197.89 173.99,197.18 174.94,196.47 175.88,195.77 176.82,195.06 177.77,194.37 178.72,193.68 179.66,193.00 180.61,192.32 181.55,191.66 182.50,191.01 183.44,190.39 184.38,189.78 185.33,189.21 186.28,188.67 187.22,188.19 188.17,187.79 189.11,187.47 190.06,187.27 191.00,187.20 191.94,187.27 192.89,187.47 193.83,187.79 194.78,188.19 195.72,188.67 196.67,189.21 197.62,189.78 198.56,190.39 199.50,191.01 200.45,191.66 201.39,192.32 202.34,193.00 203.28,193.68 204.23,194.37 205.18,195.06 206.12,195.77 207.06,196.47 208.01,197.18 208.95,197.89 209.90,198.61 210.84,199.32 211.79,200.04 212.74,200.77 213.68,201.49 214.62,202.21 215.57,202.94 216.51,203.66 217.46,204.39 218.41,205.12 219.35,205.85 220.30,206.58 221.24,207.31 222.19,208.04 223.13,208.77 224.07,209.51 225.02,210.24 225.97,210.97 226.91,211.71 227.85,212.44 228.80,213.17 229.75,213.91 230.69,214.64 231.63,215.38 232.58,216.11 233.53,216.85 234.47,217.59 235.41,218.32 236.36,219.06 237.31,219.79 238.25,220.53 239.19,221.27 240.14,222.00 241.09,222.74 242.03,223.48 242.97,224.22 243.92,224.95 244.87,225.69 245.81,226.43 246.75,227.17 247.70,227.91 248.65,228.64 249.59,229.38 250.53,230.12 251.48,230.86 252.43,231.60 253.37,232.33 254.31,233.07 255.26,233.81 256.21,234.55 257.15,235.29 258.10,236.03 259.04,236.77 259.99,237.51 260.93,238.25 261.88,238.98 262.82,239.72 263.76,240.46 264.71,241.20 265.65,241.94 266.60,242.68 267.54,243.42 268.49,244.16 269.44,244.90 270.38,245.64 271.32,246.38 272.27,247.12 273.22,247.86 274.16,248.60 275.11,249.33 276.05,250.07 277.00,250.81 277.94,251.55 278.88,252.29 279.83,253.03 280.77,253.77 281.72,254.51 282.66,255.25 283.61,255.99 284.56,256.73 285.50,257.47 285.50,258.35 284.56,258.51 283.61,258.67 282.67,258.82 281.72,258.98 280.77,259.13 279.83,259.28 278.88,259.43 277.94,259.57 277.00,259.72 276.05,259.86 275.11,260.00 274.16,260.15 273.21,260.28 272.27,260.42 271.32,260.56 270.38,260.69 269.44,260.82 268.49,260.96 267.55,261.09 266.60,261.21 265.65,261.34 264.71,261.46 263.76,261.59 262.82,261.71 261.88,261.83 260.93,261.95 259.99,262.06 259.04,262.18 258.10,262.29 257.15,262.41 256.20,262.52 255.26,262.62 254.31,262.73 253.37,262.84 252.43,262.94 251.48,263.04 250.53,263.15 249.59,263.24 248.65,263.34 247.70,263.44 246.75,263.53 245.81,263.63 244.87,263.72 243.92,263.81 242.97,263.90 242.03,263.98 241.09,264.07 240.14,264.15 239.19,264.23 238.25,264.31 237.31,264.39 236.36,264.47 235.41,264.54 234.47,264.62 233.53,264.69 232.58,264.76 231.63,264.83 230.69,264.90 229.75,264.96 228.80,265.03 227.85,265.09 226.91,265.15 225.97,265.21 225.02,265.27 224.07,265.33 223.13,265.38 222.19,265.43 221.24,265.49 220.30,265.54 219.35,265.58 218.41,265.63 217.46,265.68 216.51,265.72 215.57,265.76 214.62,265.80 213.68,265.84 212.74,265.88 211.79,265.92 210.84,265.95 209.90,265.98 208.95,266.01 208.01,266.04 207.06,266.07 206.12,266.10 205.18,266.12 204.23,266.14 203.28,266.17 202.34,266.19 201.39,266.20 200.45,266.22 199.50,266.24 198.56,266.25 197.62,266.26 196.67,266.27 195.72,266.28 194.78,266.29 193.83,266.29 192.89,266.30 191.94,266.30 191.00,266.30 190.06,266.30 189.11,266.30 188.17,266.29 187.22,266.29 186.28,266.28 185.33,266.27 184.38,266.26 183.44,266.25 182.50,266.24 181.55,266.22 180.61,266.20 179.66,266.19 178.72,266.17 177.77,266.14 176.82,266.12 175.88,266.10 174.94,266.07 173.99,266.04 173.05,266.01 172.10,265.98 171.16,265.95 170.21,265.92 169.26,265.88 168.32,265.84 167.38,265.80 166.43,265.76 165.49,265.72 164.54,265.68 163.59,265.63 162.65,265.58 161.70,265.54 160.76,265.49 159.81,265.43 158.87,265.38 157.93,265.33 156.98,265.27 156.03,265.21 155.09,265.15 154.15,265.09 153.20,265.03 152.25,264.96 151.31,264.90 150.37,264.83 149.42,264.76 148.47,264.69 147.53,264.62 146.59,264.54 145.64,264.47 144.69,264.39 143.75,264.31 142.81,264.23 141.86,264.15 140.91,264.07 139.97,263.98 139.03,263.90 138.08,263.81 137.13,263.72 136.19,263.63 135.25,263.53 134.30,263.44 133.35,263.34 132.41,263.24 131.47,263.15 130.52,263.04 129.57,262.94 128.63,262.84 127.69,262.73 126.74,262.62 125.79,262.52 124.85,262.41 123.91,262.29 122.96,262.18 122.01,262.06 121.07,261.95 120.12,261.83 119.18,261.71 118.24,261.59 117.29,261.46 116.34,261.34 115.40,261.21 114.46,261.09 113.51,260.96 112.56,260.82 111.62,260.69 110.68,260.56 109.73,260.42 108.78,260.28 107.84,260.15 106.90,260.00 105.95,259.86 105.00,259.72 104.06,259.57 103.12,259.43 102.17,259.28 101.22,259.13 100.28,258.98 99.34,258.82 98.39,258.67 97.44,258.51 96.50,258.35" fill="#dedede"/>
<line x1="96.50" y1="258.00" x2="96.50" y2="318.20" stroke="#111" stroke-width="1" stroke-dasharray="3,2"/>
<line x1="285.50" y1="258.00" x2="285.50" y2="318.20" stroke="#111" stroke-width="1" stroke-dasharray="3,2"/>
<polyline points="37.60,299.47 38.37,298.92 39.13,298.37 39.90,297.83 40.67,297.28 41.43,296.73 42.20,296.19 42.97,295.64 43.73,295.10 44.50,294.55 45.27,294.00 46.03,293.46 46.80,292.91 47.56,292.36 48.33,291.82 49.10,291.27 49.86,290.72 50.63,290.18 51.40,289.63 52.16,289.08 52.93,288.54 53.70,287.99 54.46,287.44 55.23,286.90 56.00,286.35 56.76,285.80 57.53,285.26 58.30,284.71 59.06,284.16 59.83,283.62 60.59,283.07 61.36,282.53 62.13,281.98 62.89,281.43 63.66,280.89 64.43,280.34 65.19,279.79 65.96,279.25 66.73,278.70 67.49,278.15 68.26,277.61 69.03,277.06 69.79,276.51 70.56,275.97 71.33,275.42 72.09,274.87 72.86,274.33 73.63,273.78 74.39,273.23 75.16,272.69 75.92,272.14 76.69,271.60 77.46,271.05 78.22,270.50 78.99,269.96 79.76,269.41 80.52,268.86 81.29,268.32 82.06,267.77 82.82,267.22 83.59,266.68 84.36,266.13 85.12,265.58 85.89,265.04 86.66,264.49 87.42,263.94 88.19,263.40 88.96,262.85 89.72,262.30 90.49,261.76 91.25,261.21 92.02,260.66 92.79,260.12 93.55,259.57 94.32,259.03 95.09,258.48 95.85,257.93 96.62,257.38 97.39,256.78 98.15,256.18 98.92,255.58 99.69,254.98 100.45,254.38 101.22,253.78 101.99,253.18 102.75,252.58 103.52,251.98 104.29,251.38 105.05,250.78 105.82,250.18 106.58,249.58 107.35,248.98 108.12,248.38 108.88,247.78 109.65,247.18 110.42,246.58 111.18,245.98 111.95,245.38 112.72,244.78 113.48,244.18 114.25,243.58 115.02,242.98 115.78,242.38 116.55,241.78 117.32,241.18 118.08,240.58 118.85,239.98 119.62,239.38 120.38,238.78 121.15,238.18 121.91,237.58 122.68,236.98 123.45,236.39 124.21,235.79 124.98,235.19 125.75,234.59 126.51,233.99 127.28,233.39 128.05,232.79 128.81,232.19 129.58,231.59 130.35,230.99 131.11,230.39 131.88,229.80 132.65,229.20 133.41,228.60 134.18,228.00 134.95,227.40 135.71,226.80 136.48,226.20 137.24,225.61 138.01,225.01 138.78,224.41 139.54,223.81 140.31,223.21 141.08,222.62 141.84,222.02 142.61,221.42 143.38,220.82 144.14,220.22 144.91,219.63 145.68,219.03 146.44,218.43 147.21,217.83 147.98,217.24 148.74,216.64 149.51,216.04 150.28,215.45 151.04,214.85 151.81,214.26 152.57,213.66 153.34,213.06 154.11,212.47 154.87,211.87 155.64,211.28 156.41,210.68 157.17,210.09 157.94,209.49 158.71,208.90 159.47,208.31 160.24,207.71 161.01,207.12 161.77,206.53 162.54,205.93 163.31,205.34 164.07,204.75 164.84,204.16 165.61,203.57 166.37,202.98 167.14,202.39 167.90,201.81 168.67,201.22 169.44,200.63 170.20,200.05 170.97,199.46 171.74,198.88 172.50,198.30 173.27,197.72 174.04,197.14 174.80,196.57 175.57,196.00 176.34,195.43 177.10,194.86 177.87,194.30 178.64,193.74 179.40,193.18 180.17,192.63 180.94,192.09 181.70,191.56 182.47,191.03 183.23,190.52 184.00,190.02 184.77,189.54 185.53,189.09 186.30,188.66 187.07,188.27 187.83,187.92 188.60,187.63 189.37,187.40 190.13,187.26 190.90,187.20 191.67,187.23 192.43,187.36 193.20,187.56 193.97,187.84 194.73,188.17 195.50,188.55 196.27,188.97 197.03,189.42 197.80,189.90 198.56,190.39 199.33,190.90 200.10,191.42 200.86,191.95 201.63,192.49 202.40,193.04 203.16,193.59 203.93,194.15 204.70,194.71 205.46,195.28 206.23,195.85 207.00,196.42 207.76,196.99 208.53,197.57 209.30,198.15 210.06,198.73 210.83,199.31 211.60,199.90 212.36,200.48 213.13,201.07 213.89,201.65 214.66,202.24 215.43,202.83 216.19,203.42 216.96,204.01 217.73,204.60 218.49,205.19 219.26,205.78 220.03,206.37 220.79,206.96 221.56,207.56 222.33,208.15 223.09,208.74 223.86,209.34 224.63,209.93 225.39,210.53 226.16,211.12 226.93,211.72 227.69,212.31 228.46,212.91 229.22,213.50 229.99,214.10 230.76,214.70 231.52,215.29 232.29,215.89 233.06,216.49 233.82,217.08 234.59,217.68 235.36,218.28 236.12,218.87 236.89,219.47 237.66,220.07 238.42,220.67 239.19,221.26 239.96,221.86 240.72,222.46 241.49,223.06 242.26,223.66 243.02,224.25 243.79,224.85 244.55,225.45 245.32,226.05 246.09,226.65 246.85,227.25 247.62,227.84 248.39,228.44 249.15,229.04 249.92,229.64 250.69,230.24 251.45,230.84 252.22,231.44 252.99,232.04 253.75,232.63 254.52,233.23 255.29,233.83 256.05,234.43 256.82,235.03 257.59,235.63 258.35,236.23 259.12,236.83 259.88,237.43 260.65,238.03 261.42,238.63 262.18,239.23 262.95,239.83 263.72,240.43 264.48,241.02 265.25,241.62 266.02,242.22 266.78,242.82 267.55,243.42 268.32,244.02 269.08,244.62 269.85,245.22 270.62,245.82 271.38,246.42 272.15,247.02 272.92,247.62 273.68,248.22 274.45,248.82 275.21,249.42 275.98,250.02 276.75,250.62 277.51,251.22 278.28,251.82 279.05,252.42 279.81,253.02 280.58,253.62 281.35,254.22 282.11,254.82 282.88,255.42 283.65,256.02 284.41,256.62 285.18,257.22 285.95,257.79 286.71,258.34 287.48,258.88 288.25,259.43 289.01,259.98 289.78,260.52 290.54,261.07 291.31,261.62 292.08,262.16 292.84,262.71 293.61,263.25 294.38,263.80 295.14,264.35 295.91,264.89 296.68,265.44 297.44,265.99 298.21,266.53 298.98,267.08 299.74,267.63 300.51,268.17 301.28,268.72 302.04,269.27 302.81,269.81 303.58,270.36 304.34,270.91 305.11,271.45 305.88,272.00 306.64,272.55 307.41,273.09 308.17,273.64 308.94,274.19 309.71,274.73 310.47,275.28 311.24,275.82 312.01,276.37 312.77,276.92 313.54,277.46 314.31,278.01 315.07,278.56 315.84,279.10 316.61,279.65 317.37,280.20 318.14,280.74 318.91,281.29 319.67,281.84 320.44,282.38 321.20,282.93 321.97,283.48 322.74,284.02 323.50,284.57 324.27,285.12 325.04,285.66 325.80,286.21 326.57,286.75 327.34,287.30 328.10,287.85 328.87,288.39 329.64,288.94 330.40,289.49 331.17,290.03 331.94,290.58 332.70,291.13 333.47,291.67 334.24,292.22 335.00,292.77 335.77,293.31 336.53,293.86 337.30,294.41 338.07,294.95 338.83,295.50 339.60,296.05 340.37,296.59 341.13,297.14 341.90,297.69 342.67,298.23 343.43,298.78 344.20,299.32" fill="none" stroke="#22a0c8" stroke-width="1.8"/>
<polyline points="37.60,245.36 38.37,245.57 39.13,245.77 39.90,245.98 40.67,246.19 41.43,246.39 42.20,246.59 42.97,246.80 43.73,247.00 44.50,247.20 45.27,247.40 46.03,247.60 46.80,247.79 47.56,247.99 48.33,248.18 49.10,248.38 49.86,248.57 50.63,248.76 51.40,248.95 52.16,249.14 52.93,249.33 53.70,249.52 54.46,249.71 55.23,249.89 56.00,250.08 56.76,250.26 57.53,250.45 58.30,250.63 59.06,250.81 59.83,250.99 60.59,251.17 61.36,251.34 62.13,251.52 62.89,251.69 63.66,251.87 64.43,252.04 65.19,252.21 65.96,252.38 66.73,252.56 67.49,252.72 68.26,252.89 69.03,253.06 69.79,253.22 70.56,253.39 71.33,253.55 72.09,253.72 72.86,253.88 73.63,254.04 74.39,254.20 75.16,254.36 75.92,254.51 76.69,254.67 77.46,254.83 78.22,254.98 78.99,255.13 79.76,255.29 80.52,255.44 81.29,255.59 82.06,255.74 82.82,255.89 83.59,256.03 84.36,256.18 85.12,256.32 85.89,256.47 86.66,256.61 87.42,256.75 88.19,256.89 88.96,257.03 89.72,257.17 90.49,257.31 91.25,257.45 92.02,257.58 92.79,257.72 93.55,257.85 94.32,257.98 95.09,258.11 95.85,258.24 96.62,258.37 97.39,258.50 98.15,258.63 98.92,258.75 99.69,258.88 100.45,259.00 101.22,259.13 101.99,259.25 102.75,259.37 103.52,259.49 104.29,259.61 105.05,259.73 105.82,259.84 106.58,259.96 107.35,260.07 108.12,260.19 108.88,260.30 109.65,260.41 110.42,260.52 111.18,260.63 111.95,260.74 112.72,260.85 113.48,260.95 114.25,261.06 115.02,261.16 115.78,261.26 116.55,261.37 117.32,261.47 118.08,261.57 118.85,261.67 119.62,261.76 120.38,261.86 121.15,261.96 121.91,262.05 122.68,262.15 123.45,262.24 124.21,262.33 124.98,262.42 125.75,262.51 126.51,262.60 127.28,262.69 128.05,262.77 128.81,262.86 129.58,262.94 130.35,263.03 131.11,263.11 131.88,263.19 132.65,263.27 133.41,263.35 134.18,263.43 134.95,263.50 135.71,263.58 136.48,263.65 137.24,263.73 138.01,263.80 138.78,263.87 139.54,263.94 140.31,264.01 141.08,264.08 141.84,264.15 142.61,264.22 143.38,264.28 144.14,264.35 144.91,264.41 145.68,264.47 146.44,264.53 147.21,264.59 147.98,264.65 148.74,264.71 149.51,264.77 150.28,264.82 151.04,264.88 151.81,264.93 152.57,264.99 153.34,265.04 154.11,265.09 154.87,265.14 155.64,265.19 156.41,265.23 157.17,265.28 157.94,265.33 158.71,265.37 159.47,265.42 160.24,265.46 161.01,265.50 161.77,265.54 162.54,265.58 163.31,265.62 164.07,265.65 164.84,265.69 165.61,265.73 166.37,265.76 167.14,265.79 167.90,265.83 168.67,265.86 169.44,265.89 170.20,265.92 170.97,265.94 171.74,265.97 172.50,266.00 173.27,266.02 174.04,266.04 174.80,266.07 175.57,266.09 176.34,266.11 177.10,266.13 177.87,266.15 178.64,266.16 179.40,266.18 180.17,266.20 180.94,266.21 181.70,266.22 182.47,266.24 183.23,266.25 184.00,266.26 184.77,266.27 185.53,266.27 186.30,266.28 187.07,266.29 187.83,266.29 188.60,266.29 189.37,266.30 190.13,266.30 190.90,266.30 191.67,266.30 192.43,266.30 193.20,266.30 193.97,266.29 194.73,266.29 195.50,266.28 196.27,266.28 197.03,266.27 197.80,266.26 198.56,266.25 199.33,266.24 200.10,266.23 200.86,266.21 201.63,266.20 202.40,266.18 203.16,266.17 203.93,266.15 204.70,266.13 205.46,266.11 206.23,266.09 207.00,266.07 207.76,266.05 208.53,266.03 209.30,266.00 210.06,265.98 210.83,265.95 211.60,265.92 212.36,265.89 213.13,265.86 213.89,265.83 214.66,265.80 215.43,265.77 216.19,265.74 216.96,265.70 217.73,265.66 218.49,265.63 219.26,265.59 220.03,265.55 220.79,265.51 221.56,265.47 222.33,265.43 223.09,265.38 223.86,265.34 224.63,265.29 225.39,265.25 226.16,265.20 226.93,265.15 227.69,265.10 228.46,265.05 229.22,265.00 229.99,264.95 230.76,264.89 231.52,264.84 232.29,264.78 233.06,264.73 233.82,264.67 234.59,264.61 235.36,264.55 236.12,264.49 236.89,264.43 237.66,264.36 238.42,264.30 239.19,264.23 239.96,264.17 240.72,264.10 241.49,264.03 242.26,263.96 243.02,263.89 243.79,263.82 244.55,263.75 245.32,263.67 246.09,263.60 246.85,263.52 247.62,263.45 248.39,263.37 249.15,263.29 249.92,263.21 250.69,263.13 251.45,263.05 252.22,262.96 252.99,262.88 253.75,262.80 254.52,262.71 255.29,262.62 256.05,262.53 256.82,262.44 257.59,262.35 258.35,262.26 259.12,262.17 259.88,262.08 260.65,261.98 261.42,261.89 262.18,261.79 262.95,261.69 263.72,261.59 264.48,261.49 265.25,261.39 266.02,261.29 266.78,261.19 267.55,261.08 268.32,260.98 269.08,260.87 269.85,260.77 270.62,260.66 271.38,260.55 272.15,260.44 272.92,260.33 273.68,260.22 274.45,260.10 275.21,259.99 275.98,259.87 276.75,259.76 277.51,259.64 278.28,259.52 279.05,259.40 279.81,259.28 280.58,259.16 281.35,259.04 282.11,258.91 282.88,258.79 283.65,258.66 284.41,258.53 285.18,258.41 285.95,258.28 286.71,258.15 287.48,258.02 288.25,257.88 289.01,257.75 289.78,257.62 290.54,257.48 291.31,257.34 292.08,257.21 292.84,257.07 293.61,256.93 294.38,256.79 295.14,256.65 295.91,256.50 296.68,256.36 297.44,256.22 298.21,256.07 298.98,255.92 299.74,255.78 300.51,255.63 301.28,255.48 302.04,255.33 302.81,255.17 303.58,255.02 304.34,254.87 305.11,254.71 305.88,254.56 306.64,254.40 307.41,254.24 308.17,254.08 308.94,253.92 309.71,253.76 310.47,253.60 311.24,253.43 312.01,253.27 312.77,253.10 313.54,252.94 314.31,252.77 315.07,252.60 315.84,252.43 316.61,252.26 317.37,252.09 318.14,251.91 318.91,251.74 319.67,251.56 320.44,251.39 321.20,251.21 321.97,251.03 322.74,250.85 323.50,250.67 324.27,250.49 325.04,250.31 325.80,250.13 326.57,249.94 327.34,249.76 328.10,249.57 328.87,249.38 329.64,249.19 330.40,249.00 331.17,248.81 331.94,248.62 332.70,248.43 333.47,248.24 334.24,248.04 335.00,247.84 335.77,247.65 336.53,247.45 337.30,247.25 338.07,247.05 338.83,246.85 339.60,246.65 340.37,246.44 341.13,246.24 341.90,246.03 342.67,245.83 343.43,245.62 344.20,245.41" fill="none" stroke="#f58231" stroke-width="1.8"/>
<path d="M115.90,249.67 L116.65,249.07 L117.40,248.47 L118.14,247.87 L118.89,247.27 L119.64,246.67 L120.39,246.07 L121.14,245.47 L121.88,244.87 L122.63,244.27 L123.38,243.67 L124.13,243.07 L124.88,242.47 L125.62,241.87 L126.37,241.27 L127.12,240.67 L127.87,240.07 L128.62,239.48 L129.36,238.88 L130.11,238.28 L130.86,237.68 L131.61,237.08 L132.36,236.49 L133.10,235.89 L133.85,235.29 L134.60,234.70 L135.35,234.10 L136.10,233.50 L136.84,232.91 L137.59,232.31 L138.34,231.72 L139.09,231.12 L139.84,230.53 L140.58,229.93 L141.33,229.34 L142.08,228.74 L142.83,228.15 L143.58,227.56 L144.32,226.97 L145.07,226.37 L145.82,225.78 L146.57,225.19 L147.32,224.60 L148.06,224.01 L148.81,223.42 L149.56,222.83 L150.31,222.24 L151.06,221.65 L151.80,221.07 L152.55,220.48 L153.30,219.89 L154.05,219.31 L154.80,218.72 L155.54,218.14 L156.29,217.56 L157.04,216.98 L157.79,216.39 L158.54,215.82 L159.28,215.24 L160.03,214.66 L160.78,214.08 L161.53,213.51 L162.28,212.94 L163.02,212.36 L163.77,211.80 L164.52,211.23 L165.27,210.66 L166.02,210.10 L166.76,209.54 L167.51,208.98 L168.26,208.42 L169.01,207.87 L169.76,207.32 L170.50,206.77 L171.25,206.23 L172.00,205.69 L172.75,205.16 L173.50,204.63 L174.24,204.11 L174.99,203.59 L175.74,203.08 L176.49,202.58 L177.24,202.08 L177.98,201.60 L178.73,201.12 L179.48,200.66 L180.23,200.21 L180.98,199.77 L181.72,199.35 L182.47,198.95 L183.22,198.56 L183.97,198.20 L184.72,197.87 L185.46,197.56 L186.21,197.28 L186.96,197.04 L187.71,196.83 L188.46,196.66 L189.20,196.53 L189.95,196.44 L190.70,196.40 L191.45,196.41 L192.20,196.46 L192.94,196.55 L193.69,196.69 L194.44,196.87 L195.19,197.08 L195.94,197.33 L196.68,197.62 L197.43,197.93 L198.18,198.27 L198.93,198.64 L199.68,199.02 L200.42,199.43 L201.17,199.85 L201.92,200.29 L202.67,200.75 L203.42,201.21 L204.16,201.69 L204.91,202.18 L205.66,202.67 L206.41,203.18 L207.16,203.69 L207.90,204.21 L208.65,204.73 L209.40,205.26 L210.15,205.80 L210.90,206.34 L211.64,206.88 L212.39,207.43 L213.14,207.98 L213.89,208.53 L214.64,209.09 L215.38,209.65 L216.13,210.21 L216.88,210.77 L217.63,211.34 L218.38,211.91 L219.12,212.48 L219.87,213.05 L220.62,213.62 L221.37,214.20 L222.12,214.77 L222.86,215.35 L223.61,215.93 L224.36,216.51 L225.11,217.09 L225.86,217.67 L226.60,218.26 L227.35,218.84 L228.10,219.42 L228.85,220.01 L229.60,220.60 L230.34,221.18 L231.09,221.77 L231.84,222.36 L232.59,222.95 L233.34,223.54 L234.08,224.13 L234.83,224.72 L235.58,225.31 L236.33,225.90 L237.08,226.49 L237.82,227.08 L238.57,227.68 L239.32,228.27 L240.07,228.86 L240.82,229.46 L241.56,230.05 L242.31,230.64 L243.06,231.24 L243.81,231.83 L244.56,232.43 L245.30,233.03 L246.05,233.62 L246.80,234.22 L247.55,234.81 L248.30,235.41 L249.04,236.01 L249.79,236.61 L250.54,237.20 L251.29,237.80 L252.04,238.40 L252.78,239.00 L253.53,239.59 L254.28,240.19 L255.03,240.79 L255.78,241.39 L256.52,241.99 L257.27,242.59 L258.02,243.19 L258.77,243.79 L259.52,244.39 L260.26,244.99 L261.01,245.59 L261.76,246.19 L262.51,246.79 L263.26,247.39 L264.00,247.99 L264.75,248.59 L265.50,249.19" fill="none" stroke="#111" stroke-width="1.1" stroke-dasharray="3,2"/>
<polygon points="269.30,251.60 263.59,250.17 265.99,246.73" fill="#111"/>
<path d="M115.90,255.90 L119.95,256.38 L123.98,256.84 L128.00,257.27 L132.01,257.68 L135.99,258.07 L139.96,258.43 L143.92,258.76 L147.86,259.07 L151.78,259.36 L155.68,259.62 L159.57,259.85 L163.45,260.07 L167.30,260.25 L171.14,260.42 L174.96,260.56 L178.76,260.67 L182.55,260.76 L186.32,260.83 L190.07,260.87 L193.80,260.89 L197.51,260.88 L201.21,260.85 L204.89,260.80 L208.55,260.72 L212.19,260.61 L215.81,260.49 L219.42,260.34 L223.00,260.16 L226.57,259.96 L230.12,259.74 L233.64,259.49 L237.15,259.22 L240.64,258.93 L244.11,258.61 L247.56,258.27 L250.99,257.90 L254.40,257.51 L257.78,257.10 L261.15,256.66 L264.50,256.20" fill="none" stroke="#111" stroke-width="1.1" stroke-dasharray="3,2"/>
<polygon points="269.60,255.70 264.32,258.30 263.93,254.11" fill="#111"/>
<path d="M296.00,259.40 L297.20,259.15 L298.39,258.89 L299.57,258.64 L300.74,258.39 L301.91,258.14 L303.07,257.90 L304.22,257.65 L305.36,257.41 L306.50,257.17 L307.63,256.93 L308.76,256.70 L309.87,256.46 L310.98,256.23 L312.09,256.00 L313.18,255.78 L314.27,255.55 L315.35,255.33 L316.43,255.11 L317.50,254.89 L318.56,254.68 L319.62,254.46 L320.67,254.25 L321.71,254.05 L322.75,253.84 L323.78,253.64 L324.80,253.44 L325.82,253.25 L326.83,253.05 L327.84,252.86 L328.84,252.68 L329.83,252.50 L330.82,252.32 L331.80,252.14 L332.77,251.97 L333.74,251.80 L334.70,251.63 L335.66,251.47 L336.61,251.31 L337.56,251.15 L338.50,251.00" fill="none" stroke="#111" stroke-width="1.1" stroke-dasharray="3,2"/>
<polygon points="343.60,249.60 338.82,253.03 337.75,248.97" fill="#111"/>
<path d="M296.00,262.20 L296.82,262.70 L297.63,263.20 L298.45,263.70 L299.26,264.20 L300.08,264.70 L300.90,265.20 L301.71,265.70 L302.53,266.20 L303.34,266.70 L304.16,267.20 L304.98,267.70 L305.79,268.20 L306.61,268.70 L307.42,269.20 L308.24,269.70 L309.06,270.20 L309.87,270.70 L310.69,271.20 L311.50,271.70 L312.32,272.20 L313.14,272.70 L313.95,273.20 L314.77,273.70 L315.58,274.20 L316.40,274.70 L317.22,275.20 L318.03,275.70 L318.85,276.20 L319.66,276.70 L320.48,277.20 L321.30,277.70 L322.11,278.20 L322.93,278.70 L323.74,279.20 L324.56,279.70 L325.38,280.20 L326.19,280.70 L327.01,281.20 L327.82,281.70 L328.64,282.20 L329.46,282.70 L330.27,283.20 L331.09,283.70 L331.90,284.20 L332.72,284.70 L333.54,285.20 L334.35,285.70 L335.17,286.20 L335.98,286.70 L336.80,287.20" fill="none" stroke="#111" stroke-width="1.1" stroke-dasharray="3,2"/>
<polygon points="341.20,290.30 335.45,289.05 337.74,285.54" fill="#111"/>
<path d="M44.7,251.2 C58,256 70,258.5 81,259.8" fill="none" stroke="#111" stroke-width="1.3"/>
<polygon points="86.00,260.60 79.74,262.19 80.37,257.43" fill="#111"/>
<line x1="96.10" y1="227.90" x2="96.10" y2="249.00" stroke="#111" stroke-width="1.3" />
<polygon points="96.10,254.60 93.80,248.60 98.40,248.60" fill="#111"/>
<line x1="285.40" y1="227.90" x2="285.40" y2="249.00" stroke="#111" stroke-width="1.3" />
<polygon points="285.40,254.60 283.10,248.60 287.70,248.60" fill="#111"/>
<text x="97.20" y="221.60" text-anchor="middle" font-size="9.6" fill="#111" >Beamsplitter</text>
<text x="283.60" y="221.60" text-anchor="middle" font-size="9.6" fill="#111" >Beamsplitter</text>
<line x1="172.40" y1="283.60" x2="212.00" y2="283.60" stroke="#111" stroke-width="1.3" />
<polygon points="217.60,283.60 211.60,285.90 211.60,281.30" fill="#111"/>
<path d="M191.4,275.6 C191.5,274.6 192.4,274.3 193.6,274.4 L197.9,274.1 M194.4,274.5 C194.1,277 193.4,279.6 191.9,280.6 C191.1,281.1 190.3,280.8 190.2,280.1 M193.6,277.5 L197.1,277.2" fill="none" stroke="#111" stroke-width="0.95" stroke-linecap="round"/>
<rect x="37.6" y="170.5" width="306.59999999999997" height="147.7" fill="none" stroke="#444" stroke-width="1"/>
<line x1="37.60" y1="180.70" x2="40.60" y2="180.70" stroke="#444" stroke-width="1" />
<text x="33.40" y="184.00" text-anchor="end" font-size="9.6" fill="#222" >0</text>
<line x1="37.60" y1="204.38" x2="40.60" y2="204.38" stroke="#444" stroke-width="1" />
<text x="33.40" y="207.68" text-anchor="end" font-size="9.6" fill="#222" >-0.5</text>
<line x1="37.60" y1="228.06" x2="40.60" y2="228.06" stroke="#444" stroke-width="1" />
<text x="33.40" y="231.36" text-anchor="end" font-size="9.6" fill="#222" >-1</text>
<line x1="37.60" y1="251.74" x2="40.60" y2="251.74" stroke="#444" stroke-width="1" />
<text x="33.40" y="255.04" text-anchor="end" font-size="9.6" fill="#222" >-1.5</text>
<line x1="37.60" y1="275.42" x2="40.60" y2="275.42" stroke="#444" stroke-width="1" />
<text x="33.40" y="278.72" text-anchor="end" font-size="9.6" fill="#222" >-2</text>
<line x1="37.60" y1="299.10" x2="40.60" y2="299.10" stroke="#444" stroke-width="1" />
<text x="33.40" y="302.40" text-anchor="end" font-size="9.6" fill="#222" >-2.5</text>
<line x1="64.80" y1="318.20" x2="64.80" y2="315.20" stroke="#444" stroke-width="1" />
<text x="64.80" y="329.90" text-anchor="middle" font-size="9.6" fill="#222" >0.6</text>
<line x1="127.90" y1="318.20" x2="127.90" y2="315.20" stroke="#444" stroke-width="1" />
<text x="127.90" y="329.90" text-anchor="middle" font-size="9.6" fill="#222" >0.8</text>
<line x1="191.00" y1="318.20" x2="191.00" y2="315.20" stroke="#444" stroke-width="1" />
<text x="191.00" y="329.90" text-anchor="middle" font-size="9.6" fill="#222" >1</text>
<line x1="254.10" y1="318.20" x2="254.10" y2="315.20" stroke="#444" stroke-width="1" />
<text x="254.10" y="329.90" text-anchor="middle" font-size="9.6" fill="#222" >1.2</text>
<line x1="317.20" y1="318.20" x2="317.20" y2="315.20" stroke="#444" stroke-width="1" />
<text x="317.20" y="329.90" text-anchor="middle" font-size="9.6" fill="#222" >1.4</text>
<line x1="96.50" y1="318.20" x2="96.50" y2="315.20" stroke="#444" stroke-width="1" />
<line x1="285.50" y1="318.20" x2="285.50" y2="315.20" stroke="#444" stroke-width="1" />
<text x="95.5" y="329.9" text-anchor="middle" font-size="9.6" fill="#222"><tspan font-style="italic">q</tspan><tspan font-size="6.5" dy="3.8">r</tspan></text>
<text x="285.5" y="329.9" text-anchor="middle" font-size="9.6" fill="#222"><tspan font-style="italic">q</tspan><tspan font-size="6.5" dy="3.8">r</tspan><tspan dy="-3.8">&#8242;</tspan></text>
<line x1="73.50" y1="170.50" x2="73.50" y2="173.50" stroke="#444" stroke-width="1" />
<text x="73.50" y="165.50" text-anchor="middle" font-size="9.6" fill="#222" >-2</text>
<line x1="132.30" y1="170.50" x2="132.30" y2="173.50" stroke="#444" stroke-width="1" />
<text x="132.30" y="165.50" text-anchor="middle" font-size="9.6" fill="#222" >-1</text>
<line x1="191.10" y1="170.50" x2="191.10" y2="173.50" stroke="#444" stroke-width="1" />
<text x="191.10" y="165.50" text-anchor="middle" font-size="9.6" fill="#222" >0</text>
<line x1="249.90" y1="170.50" x2="249.90" y2="173.50" stroke="#444" stroke-width="1" />
<text x="249.90" y="165.50" text-anchor="middle" font-size="9.6" fill="#222" >1</text>
<line x1="308.70" y1="170.50" x2="308.70" y2="173.50" stroke="#444" stroke-width="1" />
<text x="308.70" y="165.50" text-anchor="middle" font-size="9.6" fill="#222" >2</text>
<line x1="344.20" y1="207.10" x2="341.20" y2="207.10" stroke="#444" stroke-width="1" />
<text x="348.00" y="210.40" font-size="9.6" fill="#222" >0.1</text>
<line x1="344.20" y1="244.50" x2="341.20" y2="244.50" stroke="#444" stroke-width="1" />
<text x="348.00" y="247.80" font-size="9.6" fill="#222" >0</text>
<line x1="344.20" y1="281.90" x2="341.20" y2="281.90" stroke="#444" stroke-width="1" />
<text x="348.00" y="285.20" font-size="9.6" fill="#222" >-0.1</text>
<text x="190.7" y="344.7" text-anchor="middle" font-size="9.6" fill="#222">Quasimomentum <tspan font-style="italic">q</tspan> (<tspan font-style="italic">&#295;k</tspan><tspan font-size="6.5" dy="3">L</tspan><tspan dy="-3">)</tspan></text>
<text x="190.7" y="154.3" text-anchor="middle" font-size="9.6" fill="#222">Time <tspan font-style="italic">t</tspan> (ms)</text>
<text transform="translate(10.6,244.3) rotate(-90)" text-anchor="middle" font-size="9.6" fill="#222">Quasienergy <tspan font-style="italic">&#202;</tspan> (<tspan font-style="italic">E</tspan><tspan font-size="6.5" dy="3">R</tspan><tspan dy="-3">)</tspan></text>
<text transform="translate(375.2,244.8) rotate(-90)" text-anchor="middle" font-size="9.6" fill="#222">Position <tspan font-style="italic">x</tspan> (mm)</text>
<text x="-0.40" y="172.80" font-size="11.5" fill="#000" font-weight="bold" >c</text>
<line x1="270.50" y1="341.80" x2="270.50" y2="362.00" stroke="#111" stroke-width="1.3" />
<polygon points="270.50,367.40 268.20,361.40 272.80,361.40" fill="#111"/>
<text x="273" y="353.6" font-size="9.6" fill="#111">d<tspan font-style="italic">x</tspan>/d<tspan font-style="italic">t</tspan> = d<tspan font-style="italic">&#202;</tspan>/d<tspan font-style="italic">q</tspan></text>
<defs>
<clipPath id="clipD"><rect x="37.6" y="373.0" width="306.59999999999997" height="147.79999999999995"/></clipPath>
<filter id="fD" x="0" y="0" width="1" height="1" color-interpolation-filters="sRGB">
<feGaussianBlur in="SourceGraphic" stdDeviation="0.85 1.8" result="b"/>
<feTurbulence type="fractalNoise" baseFrequency="0.55" numOctaves="2" seed="7" result="n"/>
<feColorMatrix in="n" type="matrix" values="1 0 0 0 0  1 0 0 0 0  1 0 0 0 0  0 0 0 0 1" result="n2"/>
<feComposite in="b" in2="n2" operator="arithmetic" k1="0.36" k2="0.82" k3="0.08" k4="-0.04" result="bn"/>
<feComponentTransfer in="bn"><feFuncR type="table" tableValues="0.816 0.780 0.745 0.680 0.614 0.549 0.471 0.392 0.314 0.255 0.196 0.137 0.107 0.077 0.047 0.039 0.031 0.024 0.022 0.021 0.020"/><feFuncG type="table" tableValues="0.941 0.927 0.914 0.884 0.854 0.824 0.774 0.724 0.675 0.600 0.525 0.451 0.366 0.281 0.196 0.163 0.131 0.098 0.092 0.085 0.078"/><feFuncB type="table" tableValues="0.859 0.835 0.812 0.763 0.715 0.667 0.608 0.549 0.490 0.431 0.373 0.314 0.255 0.196 0.137 0.115 0.093 0.071 0.067 0.063 0.059"/><feFuncA type="linear" slope="0" intercept="1"/></feComponentTransfer>
</filter>
<linearGradient id="gCB" x1="0" y1="0" x2="0" y2="1"><stop offset="0" stop-color="#0b2219"/><stop offset="0.2" stop-color="#1d5a40"/><stop offset="0.45" stop-color="#3f9a6c"/><stop offset="0.7" stop-color="#7fcca0"/><stop offset="1" stop-color="#d8f4e3"/></linearGradient>
</defs>
<defs><linearGradient id="sg0" gradientUnits="userSpaceOnUse" x1="0" y1="373.0" x2="0" y2="520.8"><stop offset="0.1556" stop-color="#000000"/><stop offset="0.2368" stop-color="#323232"/><stop offset="0.3248" stop-color="#4e4e4e"/><stop offset="0.3857" stop-color="#8c8c8c"/><stop offset="0.6292" stop-color="#515151"/><stop offset="0.7104" stop-color="#2f2f2f"/><stop offset="0.7916" stop-color="#000000"/></linearGradient><linearGradient id="sg1" gradientUnits="userSpaceOnUse" x1="0" y1="373.0" x2="0" y2="520.8"><stop offset="0.1691" stop-color="#000000"/><stop offset="0.2503" stop-color="#323232"/><stop offset="0.3451" stop-color="#4e4e4e"/><stop offset="0.4127" stop-color="#8c8c8c"/><stop offset="0.6292" stop-color="#515151"/><stop offset="0.7104" stop-color="#2f2f2f"/><stop offset="0.7916" stop-color="#000000"/></linearGradient><linearGradient id="sg2" gradientUnits="userSpaceOnUse" x1="0" y1="373.0" x2="0" y2="520.8"><stop offset="0.1827" stop-color="#000000"/><stop offset="0.2639" stop-color="#383838"/><stop offset="0.3654" stop-color="#515151"/><stop offset="0.4263" stop-color="#8c8c8c"/><stop offset="0.6495" stop-color="#515151"/><stop offset="0.7240" stop-color="#2f2f2f"/><stop offset="0.8051" stop-color="#000000"/></linearGradient><linearGradient id="sg3" gradientUnits="userSpaceOnUse" x1="0" y1="373.0" x2="0" y2="520.8"><stop offset="0.1962" stop-color="#000000"/><stop offset="0.2774" stop-color="#3e3e3e"/><stop offset="0.3857" stop-color="#575757"/><stop offset="0.4533" stop-color="#8c8c8c"/><stop offset="0.6698" stop-color="#515151"/><stop offset="0.7442" stop-color="#2f2f2f"/><stop offset="0.8254" stop-color="#000000"/></linearGradient><linearGradient id="sg4" gradientUnits="userSpaceOnUse" x1="0" y1="373.0" x2="0" y2="520.8"><stop offset="0.2165" stop-color="#000000"/><stop offset="0.2909" stop-color="#444444"/><stop offset="0.3992" stop-color="#5d5d5d"/><stop offset="0.4668" stop-color="#8c8c8c"/><stop offset="0.6563" stop-color="#515151"/><stop offset="0.7375" stop-color="#2f2f2f"/><stop offset="0.8187" stop-color="#000000"/></linearGradient><linearGradient id="sg5" gradientUnits="userSpaceOnUse" x1="0" y1="373.0" x2="0" y2="520.8"><stop offset="0.1962" stop-color="#000000"/><stop offset="0.2774" stop-color="#515151"/><stop offset="0.3721" stop-color="#6a6a6a"/><stop offset="0.4398" stop-color="#9c9c9c"/><stop offset="0.6834" stop-color="#515151"/><stop offset="0.7578" stop-color="#2f2f2f"/><stop offset="0.8390" stop-color="#000000"/></linearGradient><linearGradient id="sg6" gradientUnits="userSpaceOnUse" x1="0" y1="373.0" x2="0" y2="520.8"><stop offset="0.1015" stop-color="#000000"/><stop offset="0.1691" stop-color="#3e3e3e"/><stop offset="0.2909" stop-color="#5d5d5d"/><stop offset="0.4533" stop-color="#8c8c8c"/><stop offset="0.6969" stop-color="#515151"/><stop offset="0.7713" stop-color="#2f2f2f"/><stop offset="0.8457" stop-color="#000000"/></linearGradient><linearGradient id="sg7" gradientUnits="userSpaceOnUse" x1="0" y1="373.0" x2="0" y2="520.8"><stop offset="0.0677" stop-color="#000000"/><stop offset="0.1286" stop-color="#5d5d5d"/><stop offset="0.2368" stop-color="#707070"/><stop offset="0.3180" stop-color="#8c8c8c"/><stop offset="0.3992" stop-color="#838383"/><stop offset="0.5210" stop-color="#767676"/><stop offset="0.6969" stop-color="#515151"/><stop offset="0.7781" stop-color="#2f2f2f"/><stop offset="0.8593" stop-color="#000000"/></linearGradient><linearGradient id="sg8" gradientUnits="userSpaceOnUse" x1="0" y1="373.0" x2="0" y2="520.8"><stop offset="0.0135" stop-color="#000000"/><stop offset="0.0541" stop-color="#7c7c7c"/><stop offset="0.1286" stop-color="#838383"/><stop offset="0.1962" stop-color="#707070"/><stop offset="0.3045" stop-color="#8c8c8c"/><stop offset="0.3857" stop-color="#7c7c7c"/><stop offset="0.5345" stop-color="#767676"/><stop offset="0.7104" stop-color="#515151"/><stop offset="0.7916" stop-color="#2f2f2f"/><stop offset="0.8728" stop-color="#000000"/></linearGradient><linearGradient id="sg9" gradientUnits="userSpaceOnUse" x1="0" y1="373.0" x2="0" y2="520.8"><stop offset="0.0068" stop-color="#000000"/><stop offset="0.0338" stop-color="#9c9c9c"/><stop offset="0.1691" stop-color="#838383"/><stop offset="0.3857" stop-color="#7c7c7c"/><stop offset="0.5548" stop-color="#707070"/><stop offset="0.7240" stop-color="#515151"/><stop offset="0.8051" stop-color="#2f2f2f"/><stop offset="0.8863" stop-color="#000000"/></linearGradient><linearGradient id="sg10" gradientUnits="userSpaceOnUse" x1="0" y1="373.0" x2="0" y2="520.8"><stop offset="0.0135" stop-color="#000000"/><stop offset="0.0474" stop-color="#7c7c7c"/><stop offset="0.1827" stop-color="#7c7c7c"/><stop offset="0.3857" stop-color="#676767"/><stop offset="0.5616" stop-color="#646464"/><stop offset="0.7240" stop-color="#515151"/><stop offset="0.8051" stop-color="#2f2f2f"/><stop offset="0.8863" stop-color="#000000"/></linearGradient><linearGradient id="sg11" gradientUnits="userSpaceOnUse" x1="0" y1="373.0" x2="0" y2="520.8"><stop offset="0.0203" stop-color="#000000"/><stop offset="0.0541" stop-color="#7c7c7c"/><stop offset="0.1827" stop-color="#767676"/><stop offset="0.3857" stop-color="#5d5d5d"/><stop offset="0.5616" stop-color="#5d5d5d"/><stop offset="0.7240" stop-color="#515151"/><stop offset="0.8051" stop-color="#2f2f2f"/><stop offset="0.8863" stop-color="#000000"/></linearGradient><linearGradient id="sg12" gradientUnits="userSpaceOnUse" x1="0" y1="373.0" x2="0" y2="520.8"><stop offset="0.0203" stop-color="#000000"/><stop offset="0.0541" stop-color="#7c7c7c"/><stop offset="0.1827" stop-color="#767676"/><stop offset="0.3857" stop-color="#5d5d5d"/><stop offset="0.5616" stop-color="#5d5d5d"/><stop offset="0.7240" stop-color="#515151"/><stop offset="0.8051" stop-color="#2f2f2f"/><stop offset="0.8863" stop-color="#000000"/></linearGradient><linearGradient id="sg13" gradientUnits="userSpaceOnUse" x1="0" y1="373.0" x2="0" y2="520.8"><stop offset="0.0271" stop-color="#000000"/><stop offset="0.0609" stop-color="#7c7c7c"/><stop offset="0.1962" stop-color="#767676"/><stop offset="0.3857" stop-color="#5d5d5d"/><stop offset="0.5616" stop-color="#5d5d5d"/><stop offset="0.7240" stop-color="#515151"/><stop offset="0.8051" stop-color="#2f2f2f"/><stop offset="0.8863" stop-color="#000000"/></linearGradient><linearGradient id="sg14" gradientUnits="userSpaceOnUse" x1="0" y1="373.0" x2="0" y2="520.8"><stop offset="0.0338" stop-color="#000000"/><stop offset="0.0744" stop-color="#7c7c7c"/><stop offset="0.2503" stop-color="#7c7c7c"/><stop offset="0.4533" stop-color="#676767"/><stop offset="0.5616" stop-color="#676767"/><stop offset="0.7375" stop-color="#515151"/><stop offset="0.8187" stop-color="#2f2f2f"/><stop offset="0.8999" stop-color="#000000"/></linearGradient><linearGradient id="sg15" gradientUnits="userSpaceOnUse" x1="0" y1="373.0" x2="0" y2="520.8"><stop offset="0.0474" stop-color="#000000"/><stop offset="0.0880" stop-color="#7c7c7c"/><stop offset="0.2774" stop-color="#7c7c7c"/><stop offset="0.4533" stop-color="#6d6d6d"/><stop offset="0.5616" stop-color="#6d6d6d"/><stop offset="0.7375" stop-color="#515151"/><stop offset="0.8187" stop-color="#2f2f2f"/><stop offset="0.8999" stop-color="#000000"/></linearGradient><linearGradient id="sg16" gradientUnits="userSpaceOnUse" x1="0" y1="373.0" x2="0" y2="520.8"><stop offset="0.0609" stop-color="#000000"/><stop offset="0.1015" stop-color="#7c7c7c"/><stop offset="0.3721" stop-color="#838383"/><stop offset="0.5616" stop-color="#838383"/><stop offset="0.7578" stop-color="#515151"/><stop offset="0.8322" stop-color="#2f2f2f"/><stop offset="0.9134" stop-color="#000000"/></linearGradient><linearGradient id="sg17" gradientUnits="userSpaceOnUse" x1="0" y1="373.0" x2="0" y2="520.8"><stop offset="0.0203" stop-color="#000000"/><stop offset="0.0812" stop-color="#4e4e4e"/><stop offset="0.1421" stop-color="#7c7c7c"/><stop offset="0.4398" stop-color="#8c8c8c"/><stop offset="0.5548" stop-color="#8c8c8c"/><stop offset="0.7442" stop-color="#515151"/><stop offset="0.8254" stop-color="#2f2f2f"/><stop offset="0.9066" stop-color="#000000"/></linearGradient><linearGradient id="sg18" gradientUnits="userSpaceOnUse" x1="0" y1="373.0" x2="0" y2="520.8"><stop offset="0.0338" stop-color="#000000"/><stop offset="0.1015" stop-color="#323232"/><stop offset="0.1962" stop-color="#515151"/><stop offset="0.3315" stop-color="#838383"/><stop offset="0.7375" stop-color="#515151"/><stop offset="0.8187" stop-color="#2f2f2f"/><stop offset="0.8999" stop-color="#000000"/></linearGradient><linearGradient id="sg19" gradientUnits="userSpaceOnUse" x1="0" y1="373.0" x2="0" y2="520.8"><stop offset="0.0338" stop-color="#000000"/><stop offset="0.1015" stop-color="#282828"/><stop offset="0.1827" stop-color="#444444"/><stop offset="0.3451" stop-color="#767676"/><stop offset="0.7781" stop-color="#515151"/><stop offset="0.8593" stop-color="#2f2f2f"/><stop offset="0.9405" stop-color="#000000"/></linearGradient><linearGradient id="sg20" gradientUnits="userSpaceOnUse" x1="0" y1="373.0" x2="0" y2="520.8"><stop offset="0.0474" stop-color="#000000"/><stop offset="0.1150" stop-color="#252525"/><stop offset="0.2097" stop-color="#3e3e3e"/><stop offset="0.3992" stop-color="#707070"/><stop offset="0.7781" stop-color="#515151"/><stop offset="0.8593" stop-color="#2f2f2f"/><stop offset="0.9405" stop-color="#000000"/></linearGradient><linearGradient id="sg21" gradientUnits="userSpaceOnUse" x1="0" y1="373.0" x2="0" y2="520.8"><stop offset="0.0609" stop-color="#000000"/><stop offset="0.1286" stop-color="#252525"/><stop offset="0.2233" stop-color="#3e3e3e"/><stop offset="0.4195" stop-color="#707070"/><stop offset="0.7984" stop-color="#515151"/><stop offset="0.8796" stop-color="#2f2f2f"/><stop offset="0.9608" stop-color="#000000"/></linearGradient><linearGradient id="sg22" gradientUnits="userSpaceOnUse" x1="0" y1="373.0" x2="0" y2="520.8"><stop offset="0.0609" stop-color="#000000"/><stop offset="0.1286" stop-color="#252525"/><stop offset="0.2233" stop-color="#3e3e3e"/><stop offset="0.4195" stop-color="#707070"/><stop offset="0.8187" stop-color="#515151"/><stop offset="0.8999" stop-color="#2f2f2f"/><stop offset="0.9811" stop-color="#000000"/></linearGradient><linearGradient id="sg23" gradientUnits="userSpaceOnUse" x1="0" y1="373.0" x2="0" y2="520.8"><stop offset="0.0744" stop-color="#000000"/><stop offset="0.1421" stop-color="#252525"/><stop offset="0.2368" stop-color="#3e3e3e"/><stop offset="0.4195" stop-color="#707070"/><stop offset="0.8593" stop-color="#7c7c7c"/><stop offset="0.9405" stop-color="#2f2f2f"/><stop offset="1.0000" stop-color="#101010"/></linearGradient><linearGradient id="sg24" gradientUnits="userSpaceOnUse" x1="0" y1="373.0" x2="0" y2="520.8"><stop offset="0.0744" stop-color="#000000"/><stop offset="0.1421" stop-color="#252525"/><stop offset="0.2368" stop-color="#3e3e3e"/><stop offset="0.4398" stop-color="#707070"/><stop offset="0.5480" stop-color="#515151"/><stop offset="0.6969" stop-color="#9c9c9c"/><stop offset="1.0000" stop-color="#7c7c7c"/></linearGradient><linearGradient id="sg25" gradientUnits="userSpaceOnUse" x1="0" y1="373.0" x2="0" y2="520.8"><stop offset="0.0474" stop-color="#000000"/><stop offset="0.1150" stop-color="#252525"/><stop offset="0.2097" stop-color="#3e3e3e"/><stop offset="0.3654" stop-color="#707070"/><stop offset="0.5480" stop-color="#515151"/><stop offset="0.7645" stop-color="#9c9c9c"/><stop offset="1.0000" stop-color="#7c7c7c"/></linearGradient></defs>
<g clip-path="url(#clipD)"><g filter="url(#fD)"><rect x="32.6" y="368.0" width="316.59999999999997" height="157.79999999999995" fill="#000"/><ellipse cx="191.0" cy="462.0" rx="200.0" ry="30.0" fill="#0d0d0d" style="mix-blend-mode:lighten"/><rect x="41.2" y="373.0" width="5.8" height="147.8" fill="url(#sg0)" style="mix-blend-mode:lighten"/><rect x="53.0" y="373.0" width="5.8" height="147.8" fill="url(#sg1)" style="mix-blend-mode:lighten"/><rect x="64.7" y="373.0" width="5.8" height="147.8" fill="url(#sg2)" style="mix-blend-mode:lighten"/><rect x="76.5" y="373.0" width="5.8" height="147.8" fill="url(#sg3)" style="mix-blend-mode:lighten"/><rect x="88.2" y="373.0" width="5.8" height="147.8" fill="url(#sg4)" style="mix-blend-mode:lighten"/><rect x="100.0" y="373.0" width="5.8" height="147.8" fill="url(#sg5)" style="mix-blend-mode:lighten"/><rect x="111.8" y="373.0" width="5.8" height="147.8" fill="url(#sg6)" style="mix-blend-mode:lighten"/><rect x="123.5" y="373.0" width="5.8" height="147.8" fill="url(#sg7)" style="mix-blend-mode:lighten"/><rect x="135.3" y="373.0" width="5.8" height="147.8" fill="url(#sg8)" style="mix-blend-mode:lighten"/><rect x="147.0" y="373.0" width="5.8" height="147.8" fill="url(#sg9)" style="mix-blend-mode:lighten"/><rect x="158.8" y="373.0" width="5.8" height="147.8" fill="url(#sg10)" style="mix-blend-mode:lighten"/><rect x="170.6" y="373.0" width="5.8" height="147.8" fill="url(#sg11)" style="mix-blend-mode:lighten"/><rect x="182.3" y="373.0" width="5.8" height="147.8" fill="url(#sg12)" style="mix-blend-mode:lighten"/><rect x="194.1" y="373.0" width="5.8" height="147.8" fill="url(#sg13)" style="mix-blend-mode:lighten"/><rect x="205.8" y="373.0" width="5.8" height="147.8" fill="url(#sg14)" style="mix-blend-mode:lighten"/><rect x="217.6" y="373.0" width="5.8" height="147.8" fill="url(#sg15)" style="mix-blend-mode:lighten"/><rect x="229.4" y="373.0" width="5.8" height="147.8" fill="url(#sg16)" style="mix-blend-mode:lighten"/><rect x="241.1" y="373.0" width="5.8" height="147.8" fill="url(#sg17)" style="mix-blend-mode:lighten"/><rect x="252.9" y="373.0" width="5.8" height="147.8" fill="url(#sg18)" style="mix-blend-mode:lighten"/><rect x="264.6" y="373.0" width="5.8" height="147.8" fill="url(#sg19)" style="mix-blend-mode:lighten"/><rect x="276.4" y="373.0" width="5.8" height="147.8" fill="url(#sg20)" style="mix-blend-mode:lighten"/><rect x="288.2" y="373.0" width="5.8" height="147.8" fill="url(#sg21)" style="mix-blend-mode:lighten"/><rect x="299.9" y="373.0" width="5.8" height="147.8" fill="url(#sg22)" style="mix-blend-mode:lighten"/><rect x="311.7" y="373.0" width="5.8" height="147.8" fill="url(#sg23)" style="mix-blend-mode:lighten"/><rect x="323.4" y="373.0" width="5.8" height="147.8" fill="url(#sg24)" style="mix-blend-mode:lighten"/><rect x="335.2" y="373.0" width="5.8" height="147.8" fill="url(#sg25)" style="mix-blend-mode:lighten"/><ellipse cx="44.1" cy="447.5" rx="4.6" ry="20.5" fill="#333333" style="mix-blend-mode:lighten"/><ellipse cx="44.1" cy="447.5" rx="3.3" ry="17.0" fill="#ffffff" style="mix-blend-mode:lighten"/><ellipse cx="55.9" cy="450.5" rx="4.6" ry="18.0" fill="#333333" style="mix-blend-mode:lighten"/><ellipse cx="55.9" cy="450.5" rx="3.3" ry="14.5" fill="#ffffff" style="mix-blend-mode:lighten"/><ellipse cx="67.6" cy="452.5" rx="4.6" ry="18.5" fill="#333333" style="mix-blend-mode:lighten"/><ellipse cx="67.6" cy="452.5" rx="3.3" ry="15.0" fill="#ffffff" style="mix-blend-mode:lighten"/><ellipse cx="79.4" cy="456.5" rx="4.6" ry="18.5" fill="#333333" style="mix-blend-mode:lighten"/><ellipse cx="79.4" cy="456.5" rx="3.3" ry="15.0" fill="#ffffff" style="mix-blend-mode:lighten"/><ellipse cx="91.1" cy="455.9" rx="4.6" ry="15.1" fill="#333333" style="mix-blend-mode:lighten"/><ellipse cx="91.1" cy="455.9" rx="3.3" ry="11.6" fill="#ffffff" style="mix-blend-mode:lighten"/><ellipse cx="102.9" cy="456.5" rx="4.6" ry="19.8" fill="#333333" style="mix-blend-mode:lighten"/><ellipse cx="102.9" cy="456.5" rx="3.3" ry="16.3" fill="#ffffff" style="mix-blend-mode:lighten"/><ellipse cx="114.7" cy="459.9" rx="4.6" ry="17.8" fill="#333333" style="mix-blend-mode:lighten"/><ellipse cx="114.7" cy="459.9" rx="3.3" ry="14.3" fill="#ffffff" style="mix-blend-mode:lighten"/><ellipse cx="126.4" cy="463.4" rx="4.6" ry="14.3" fill="#333333" style="mix-blend-mode:lighten"/><ellipse cx="126.4" cy="463.4" rx="3.3" ry="10.8" fill="#ffffff" style="mix-blend-mode:lighten"/><ellipse cx="138.2" cy="465.3" rx="4.6" ry="15.1" fill="#333333" style="mix-blend-mode:lighten"/><ellipse cx="138.2" cy="465.3" rx="3.3" ry="11.6" fill="#ffffff" style="mix-blend-mode:lighten"/><ellipse cx="149.9" cy="466.7" rx="4.6" ry="15.1" fill="#333333" style="mix-blend-mode:lighten"/><ellipse cx="149.9" cy="386.5" rx="4.2" ry="12.1" fill="#4d4d4d" style="mix-blend-mode:lighten"/><ellipse cx="149.9" cy="466.7" rx="3.3" ry="11.6" fill="#ffffff" style="mix-blend-mode:lighten"/><ellipse cx="149.9" cy="386.5" rx="2.2" ry="9.1" fill="#bfbfbf" style="mix-blend-mode:lighten"/><ellipse cx="161.7" cy="468.0" rx="4.6" ry="15.0" fill="#333333" style="mix-blend-mode:lighten"/><ellipse cx="161.7" cy="388.5" rx="4.2" ry="12.5" fill="#666666" style="mix-blend-mode:lighten"/><ellipse cx="161.7" cy="468.0" rx="3.3" ry="11.5" fill="#ffffff" style="mix-blend-mode:lighten"/><ellipse cx="161.7" cy="388.5" rx="2.2" ry="9.5" fill="#ffffff" style="mix-blend-mode:lighten"/><ellipse cx="173.5" cy="468.5" rx="4.6" ry="14.5" fill="#333333" style="mix-blend-mode:lighten"/><ellipse cx="173.5" cy="389.8" rx="4.2" ry="11.8" fill="#666666" style="mix-blend-mode:lighten"/><ellipse cx="173.5" cy="468.5" rx="3.3" ry="11.0" fill="#ffffff" style="mix-blend-mode:lighten"/><ellipse cx="173.5" cy="389.8" rx="2.2" ry="8.8" fill="#ffffff" style="mix-blend-mode:lighten"/><ellipse cx="185.2" cy="469.3" rx="4.6" ry="13.7" fill="#333333" style="mix-blend-mode:lighten"/><ellipse cx="185.2" cy="390.5" rx="4.2" ry="13.5" fill="#666666" style="mix-blend-mode:lighten"/><ellipse cx="185.2" cy="469.3" rx="3.3" ry="10.2" fill="#ffffff" style="mix-blend-mode:lighten"/><ellipse cx="185.2" cy="390.5" rx="2.2" ry="10.5" fill="#ffffff" style="mix-blend-mode:lighten"/><ellipse cx="197.0" cy="469.3" rx="4.6" ry="13.7" fill="#333333" style="mix-blend-mode:lighten"/><ellipse cx="197.0" cy="391.8" rx="4.2" ry="12.2" fill="#666666" style="mix-blend-mode:lighten"/><ellipse cx="197.0" cy="469.3" rx="3.3" ry="10.2" fill="#ffffff" style="mix-blend-mode:lighten"/><ellipse cx="197.0" cy="391.8" rx="2.2" ry="9.2" fill="#ffffff" style="mix-blend-mode:lighten"/><ellipse cx="208.7" cy="468.7" rx="4.6" ry="17.1" fill="#333333" style="mix-blend-mode:lighten"/><ellipse cx="208.7" cy="397.9" rx="4.2" ry="16.8" fill="#666666" style="mix-blend-mode:lighten"/><ellipse cx="208.7" cy="468.7" rx="3.3" ry="13.6" fill="#ffffff" style="mix-blend-mode:lighten"/><ellipse cx="208.7" cy="397.9" rx="2.2" ry="13.8" fill="#ffffff" style="mix-blend-mode:lighten"/><ellipse cx="220.5" cy="468.8" rx="4.6" ry="15.8" fill="#333333" style="mix-blend-mode:lighten"/><ellipse cx="220.5" cy="399.9" rx="4.2" ry="17.4" fill="#666666" style="mix-blend-mode:lighten"/><ellipse cx="220.5" cy="468.8" rx="3.3" ry="12.2" fill="#ffffff" style="mix-blend-mode:lighten"/><ellipse cx="220.5" cy="399.9" rx="2.2" ry="14.4" fill="#ffffff" style="mix-blend-mode:lighten"/><ellipse cx="232.3" cy="470.1" rx="4.6" ry="18.4" fill="#333333" style="mix-blend-mode:lighten"/><ellipse cx="232.3" cy="408.0" rx="4.2" ry="23.0" fill="#666666" style="mix-blend-mode:lighten"/><ellipse cx="232.3" cy="470.1" rx="3.3" ry="14.9" fill="#ffffff" style="mix-blend-mode:lighten"/><ellipse cx="232.3" cy="408.0" rx="2.2" ry="20.0" fill="#ffffff" style="mix-blend-mode:lighten"/><ellipse cx="244.0" cy="467.5" rx="4.6" ry="18.5" fill="#333333" style="mix-blend-mode:lighten"/><ellipse cx="244.0" cy="416.1" rx="4.2" ry="25.5" fill="#5c5c5c" style="mix-blend-mode:lighten"/><ellipse cx="244.0" cy="467.5" rx="3.3" ry="15.0" fill="#ffffff" style="mix-blend-mode:lighten"/><ellipse cx="244.0" cy="416.1" rx="2.2" ry="22.5" fill="#e6e6e6" style="mix-blend-mode:lighten"/><ellipse cx="255.8" cy="460.4" rx="4.6" ry="25.4" fill="#333333" style="mix-blend-mode:lighten"/><ellipse cx="255.8" cy="430.8" rx="4.2" ry="13.2" fill="#666666" style="mix-blend-mode:lighten"/><ellipse cx="255.8" cy="460.4" rx="3.3" ry="21.9" fill="#ffffff" style="mix-blend-mode:lighten"/><ellipse cx="255.8" cy="430.8" rx="2.2" ry="10.2" fill="#ffffff" style="mix-blend-mode:lighten"/><ellipse cx="267.5" cy="455.0" rx="4.6" ry="36.0" fill="#333333" style="mix-blend-mode:lighten"/><ellipse cx="267.5" cy="455.0" rx="3.3" ry="32.5" fill="#ffffff" style="mix-blend-mode:lighten"/><ellipse cx="279.3" cy="459.2" rx="4.6" ry="31.9" fill="#333333" style="mix-blend-mode:lighten"/><ellipse cx="279.3" cy="459.2" rx="3.3" ry="28.4" fill="#ffffff" style="mix-blend-mode:lighten"/><ellipse cx="291.1" cy="462.0" rx="4.6" ry="32.0" fill="#333333" style="mix-blend-mode:lighten"/><ellipse cx="291.1" cy="462.0" rx="3.3" ry="28.5" fill="#ffffff" style="mix-blend-mode:lighten"/><ellipse cx="302.8" cy="463.3" rx="4.6" ry="33.3" fill="#333333" style="mix-blend-mode:lighten"/><ellipse cx="302.8" cy="463.3" rx="3.3" ry="29.8" fill="#ffffff" style="mix-blend-mode:lighten"/><ellipse cx="314.6" cy="444.5" rx="4.6" ry="14.5" fill="#333333" style="mix-blend-mode:lighten"/><ellipse cx="314.6" cy="478.5" rx="3.4" ry="27.5" fill="#4c4c4c" style="mix-blend-mode:lighten"/><ellipse cx="314.6" cy="444.5" rx="3.3" ry="11.0" fill="#ffffff" style="mix-blend-mode:lighten"/><ellipse cx="314.6" cy="478.5" rx="1.7" ry="25.5" fill="#ffffff" style="mix-blend-mode:lighten"/><ellipse cx="326.3" cy="445.9" rx="4.6" ry="13.2" fill="#333333" style="mix-blend-mode:lighten"/><ellipse cx="326.3" cy="497.0" rx="3.4" ry="30.0" fill="#4c4c4c" style="mix-blend-mode:lighten"/><ellipse cx="326.3" cy="445.9" rx="3.3" ry="9.7" fill="#ffffff" style="mix-blend-mode:lighten"/><ellipse cx="326.3" cy="497.0" rx="1.7" ry="28.0" fill="#ffffff" style="mix-blend-mode:lighten"/><ellipse cx="338.1" cy="440.5" rx="4.6" ry="18.5" fill="#333333" style="mix-blend-mode:lighten"/><ellipse cx="338.1" cy="500.0" rx="3.4" ry="27.0" fill="#4c4c4c" style="mix-blend-mode:lighten"/><ellipse cx="338.1" cy="440.5" rx="3.3" ry="15.0" fill="#ffffff" style="mix-blend-mode:lighten"/><ellipse cx="338.1" cy="500.0" rx="1.7" ry="25.0" fill="#ffffff" style="mix-blend-mode:lighten"/></g></g>
<g clip-path="url(#clipD)"><polyline points="191.10,390.00 192.40,390.96 193.70,391.92 195.00,392.88 196.29,393.84 197.59,394.80 198.89,395.76 200.19,396.72 201.49,397.68 202.79,398.64 204.08,399.60 205.38,400.56 206.68,401.52 207.98,402.48 209.28,403.44 210.58,404.40 211.88,405.36 213.17,406.32 214.47,407.28 215.77,408.24 217.07,409.20 218.37,410.16 219.67,411.12 220.97,412.07 222.26,413.03 223.56,413.99 224.86,414.95 226.16,415.91 227.46,416.87 228.76,417.83 230.06,418.79 231.35,419.75 232.65,420.71 233.95,421.67 235.25,422.63 236.55,423.59 237.85,424.55 239.14,425.51 240.44,426.47 241.74,427.43 243.04,428.39 244.34,429.35 245.64,430.31 246.94,431.27 248.23,432.23 249.53,433.19 250.83,434.15 252.13,435.11 253.43,436.07 254.73,437.03 256.02,437.99 257.32,438.95 258.62,439.91 259.92,440.87 261.22,441.83 262.52,442.79 263.82,443.75 265.11,444.71 266.41,445.67 267.71,446.63 269.01,447.59 270.31,448.55 271.61,449.51 272.91,450.47 274.20,451.43 275.50,452.39 276.80,453.35 278.10,454.30 279.40,455.26 280.70,456.22 282.00,457.18 283.29,458.14 284.59,459.10 285.89,460.06 287.19,461.02 288.49,461.98 289.79,462.94 291.08,463.90 292.38,464.86 293.68,465.82 294.98,466.78 296.28,467.74 297.58,468.70 298.88,469.66 300.17,470.62 301.47,471.58 302.77,472.54 304.07,473.50 305.37,474.46 306.67,475.42 307.96,476.38 309.26,477.34 310.56,478.30 311.86,479.26 313.16,480.22 314.46,481.18 315.76,482.14 317.05,483.10 318.35,484.06 319.65,485.02 320.95,485.98 322.25,486.94 323.55,487.90 324.85,488.86 326.14,489.82 327.44,490.78 328.74,491.74 330.04,492.70 331.34,493.66 332.64,494.62 333.94,495.58 335.23,496.54 336.53,497.49 337.83,498.45 339.13,499.41 340.43,500.37 341.73,501.33 343.02,502.29 344.32,503.25 345.62,504.21 346.92,505.17" fill="none" stroke="#1e9fce" stroke-width="2" stroke-dasharray="5.5,5.0" stroke-dashoffset="4.4"/>
<polyline points="191.10,390.00 189.80,390.96 188.50,391.92 187.20,392.88 185.91,393.84 184.61,394.80 183.31,395.76 182.01,396.72 180.71,397.68 179.41,398.64 178.12,399.60 176.82,400.56 175.52,401.52 174.22,402.48 172.92,403.44 171.62,404.40 170.32,405.36 169.03,406.32 167.73,407.28 166.43,408.24 165.13,409.20 163.83,410.16 162.53,411.12 161.23,412.07 159.94,413.03 158.64,413.99 157.34,414.95 156.04,415.91 154.74,416.87 153.44,417.83 152.14,418.79 150.85,419.75 149.55,420.71 148.25,421.67 146.95,422.63 145.65,423.59 144.35,424.55 143.06,425.51 141.76,426.47 140.46,427.43 139.16,428.39 137.86,429.35 136.56,430.31 135.26,431.27 133.97,432.23 132.67,433.19 131.37,434.15 130.07,435.11 128.77,436.07 127.47,437.03 126.17,437.99 124.88,438.95 123.58,439.91 122.28,440.87 120.98,441.83 119.68,442.79 118.38,443.75 117.09,444.71 115.79,445.67 114.49,446.63 113.19,447.59 111.89,448.55 110.59,449.51 109.29,450.47 108.00,451.43 106.70,452.39 105.40,453.35 104.10,454.30 102.80,455.26 101.50,456.22 100.20,457.18 98.91,458.14 97.61,459.10 96.31,460.06 95.01,461.02 93.71,461.98 92.41,462.94 91.12,463.90 89.82,464.86 88.52,465.82 87.22,466.78 85.92,467.74 84.62,468.70 83.32,469.66 82.03,470.62 80.73,471.58 79.43,472.54 78.13,473.50 76.83,474.46 75.53,475.42 74.23,476.38 72.94,477.34 71.64,478.30 70.34,479.26 69.04,480.22 67.74,481.18 66.44,482.14 65.15,483.10 63.85,484.06 62.55,485.02 61.25,485.98 59.95,486.94 58.65,487.90 57.35,488.86 56.06,489.82 54.76,490.78 53.46,491.74 52.16,492.70 50.86,493.66 49.56,494.62 48.26,495.58 46.97,496.54 45.67,497.49 44.37,498.45 43.07,499.41 41.77,500.37 40.47,501.33 39.18,502.29 37.88,503.25 36.58,504.21 35.28,505.17" fill="none" stroke="#1e9fce" stroke-width="2" stroke-dasharray="5.5,5.0" stroke-dashoffset="4.4"/>
<polyline points="37.04,447.28 39.61,447.97 42.18,448.65 44.75,449.32 47.31,449.98 49.88,450.62 52.45,451.26 55.02,451.88 57.58,452.49 60.15,453.09 62.72,453.67 65.29,454.25 67.86,454.81 70.42,455.36 72.99,455.90 75.56,456.43 78.13,456.95 80.69,457.46 83.26,457.95 85.83,458.43 88.40,458.90 90.96,459.36 93.53,459.81 96.10,460.25 98.67,460.67 101.23,461.08 103.80,461.48 106.37,461.87 108.94,462.25 111.50,462.62 114.07,462.97 116.64,463.31 119.21,463.64 121.77,463.96 124.34,464.27 126.91,464.57 129.48,464.85 132.05,465.13 134.61,465.39 137.18,465.64 139.75,465.88 142.32,466.10 144.88,466.32 147.45,466.52 150.02,466.71 152.59,466.89 155.15,467.06 157.72,467.22 160.29,467.36 162.86,467.50 165.42,467.62 167.99,467.73 170.56,467.83 173.13,467.92 175.69,467.99 178.26,468.05 180.83,468.11 183.40,468.15 185.96,468.18 188.53,468.19 191.10,468.20 193.67,468.19 196.24,468.18 198.80,468.15 201.37,468.11 203.94,468.05 206.51,467.99 209.07,467.92 211.64,467.83 214.21,467.73 216.78,467.62 219.34,467.50 221.91,467.36 224.48,467.22 227.05,467.06 229.61,466.89 232.18,466.71 234.75,466.52 237.32,466.32 239.88,466.10 242.45,465.88 245.02,465.64 247.59,465.39 250.15,465.13 252.72,464.85 255.29,464.57 257.86,464.27 260.43,463.96 262.99,463.64 265.56,463.31 268.13,462.97 270.70,462.62 273.26,462.25 275.83,461.87 278.40,461.48 280.97,461.08 283.53,460.67 286.10,460.25 288.67,459.81 291.24,459.36 293.80,458.90 296.37,458.43 298.94,457.95 301.51,457.46 304.07,456.95 306.64,456.43 309.21,455.90 311.78,455.36 314.34,454.81 316.91,454.25 319.48,453.67 322.05,453.09 324.62,452.49 327.18,451.88 329.75,451.26 332.32,450.62 334.89,449.98 337.45,449.32 340.02,448.65 342.59,447.97 345.16,447.28" fill="none" stroke="#f58231" stroke-width="2" stroke-dasharray="5.5,6.1"/></g>
<rect x="37.6" y="373.0" width="306.59999999999997" height="147.79999999999995" fill="none" stroke="#555" stroke-width="1"/>
<line x1="73.50" y1="520.80" x2="73.50" y2="517.80" stroke="#555" stroke-width="1" />
<line x1="73.50" y1="373.00" x2="73.50" y2="376.00" stroke="#555" stroke-width="1" />
<text x="73.50" y="532.70" text-anchor="middle" font-size="9.6" fill="#222" >-2</text>
<line x1="132.30" y1="520.80" x2="132.30" y2="517.80" stroke="#555" stroke-width="1" />
<line x1="132.30" y1="373.00" x2="132.30" y2="376.00" stroke="#555" stroke-width="1" />
<text x="132.30" y="532.70" text-anchor="middle" font-size="9.6" fill="#222" >-1</text>
<line x1="191.10" y1="520.80" x2="191.10" y2="517.80" stroke="#555" stroke-width="1" />
<line x1="191.10" y1="373.00" x2="191.10" y2="376.00" stroke="#555" stroke-width="1" />
<text x="191.10" y="532.70" text-anchor="middle" font-size="9.6" fill="#222" >0</text>
<line x1="249.90" y1="520.80" x2="249.90" y2="517.80" stroke="#555" stroke-width="1" />
<line x1="249.90" y1="373.00" x2="249.90" y2="376.00" stroke="#555" stroke-width="1" />
<text x="249.90" y="532.70" text-anchor="middle" font-size="9.6" fill="#222" >1</text>
<line x1="308.70" y1="520.80" x2="308.70" y2="517.80" stroke="#555" stroke-width="1" />
<line x1="308.70" y1="373.00" x2="308.70" y2="376.00" stroke="#555" stroke-width="1" />
<text x="308.70" y="532.70" text-anchor="middle" font-size="9.6" fill="#222" >2</text>
<line x1="344.20" y1="410.40" x2="341.20" y2="410.40" stroke="#555" stroke-width="1" />
<line x1="37.60" y1="410.40" x2="40.60" y2="410.40" stroke="#555" stroke-width="1" />
<text x="348.00" y="413.70" font-size="9.6" fill="#222" >0.1</text>
<line x1="344.20" y1="447.40" x2="341.20" y2="447.40" stroke="#555" stroke-width="1" />
<line x1="37.60" y1="447.40" x2="40.60" y2="447.40" stroke="#555" stroke-width="1" />
<text x="348.00" y="450.70" font-size="9.6" fill="#222" >0</text>
<line x1="344.20" y1="484.40" x2="341.20" y2="484.40" stroke="#555" stroke-width="1" />
<line x1="37.60" y1="484.40" x2="40.60" y2="484.40" stroke="#555" stroke-width="1" />
<text x="348.00" y="487.70" font-size="9.6" fill="#222" >-0.1</text>
<text x="190.7" y="544.6" text-anchor="middle" font-size="9.6" fill="#222">Time <tspan font-style="italic">t</tspan> (ms)</text>
<text transform="translate(375.2,446.5) rotate(-90)" text-anchor="middle" font-size="9.6" fill="#222">Position <tspan font-style="italic">x</tspan> (mm)</text>
<text transform="translate(18.6,446.9) rotate(-90)" text-anchor="middle" font-size="9.6" fill="#222">Density (arb. units)</text>
<rect x="23.3" y="373" width="9.6" height="148" fill="url(#gCB)" stroke="#555" stroke-width="0.9"/>
<text x="-0.60" y="375.10" font-size="11.5" fill="#000" font-weight="bold" >d</text>
<defs>
<clipPath id="clipE"><rect x="432.0" y="171.3" width="249.79999999999995" height="45.0"/></clipPath>
<filter id="fE" x="0" y="0" width="1" height="1" color-interpolation-filters="sRGB">
<feGaussianBlur in="SourceGraphic" stdDeviation="1.6" result="b"/>
<feTurbulence type="fractalNoise" baseFrequency="0.32" numOctaves="2" seed="11" result="n"/>
<feColorMatrix in="n" type="matrix" values="1 0 0 0 0  1 0 0 0 0  1 0 0 0 0  0 0 0 0 1" result="n2"/>
<feComposite in="b" in2="n2" operator="arithmetic" k1="0.4" k2="0.8" k3="0.16" k4="-0.08" result="bn"/>
<feComponentTransfer in="bn"><feFuncR type="table" tableValues="0.816 0.780 0.745 0.680 0.614 0.549 0.471 0.392 0.314 0.255 0.196 0.137 0.107 0.077 0.047 0.039 0.031 0.024 0.022 0.021 0.020"/><feFuncG type="table" tableValues="0.941 0.927 0.914 0.884 0.854 0.824 0.774 0.724 0.675 0.600 0.525 0.451 0.366 0.281 0.196 0.163 0.131 0.098 0.092 0.085 0.078"/><feFuncB type="table" tableValues="0.859 0.835 0.812 0.763 0.715 0.667 0.608 0.549 0.490 0.431 0.373 0.314 0.255 0.196 0.137 0.115 0.093 0.071 0.067 0.063 0.059"/><feFuncA type="linear" slope="0" intercept="1"/></feComponentTransfer>
</filter>
</defs>
<g clip-path="url(#clipE)"><g filter="url(#fE)"><rect x="427.0" y="166.3" width="259.79999999999995" height="55.0" fill="#000"/><rect x="427.0" y="166.3" width="259.79999999999995" height="55.0" fill="#fff" fill-opacity="0.03"/><ellipse cx="466" cy="191.5" rx="18" ry="12" fill="#fff" fill-opacity="0.14"/><ellipse cx="466" cy="191.5" rx="12" ry="7.5" fill="#fff" fill-opacity="0.22"/><ellipse cx="466" cy="191.3" rx="7.5" ry="4.4" fill="#fff" fill-opacity="0.3"/><ellipse cx="463" cy="191.8" rx="2.8" ry="2.2" fill="#fff" fill-opacity="0.45"/><ellipse cx="469.5" cy="190.6" rx="2.6" ry="2.0" fill="#fff" fill-opacity="0.45"/><ellipse cx="648" cy="193" rx="10" ry="15" fill="#fff" fill-opacity="0.16"/><ellipse cx="648.5" cy="193" rx="6" ry="10" fill="#fff" fill-opacity="0.42"/><ellipse cx="647.8" cy="191.5" rx="3.9" ry="7.2" fill="#fff" fill-opacity="1" transform="rotate(-14 647.8 191.5)"/><ellipse cx="650" cy="197" rx="2.6" ry="3.5" fill="#fff" fill-opacity="0.8"/></g></g>
<rect x="442.4" y="174.6" width="52.8" height="39" fill="none" stroke="#f58231" stroke-width="1.7" stroke-dasharray="4.2,3"/>
<rect x="621.4" y="174.6" width="52.6" height="39" fill="none" stroke="#22a0c8" stroke-width="1.7" stroke-dasharray="4.2,3"/>
<line x1="517.40" y1="209.90" x2="601.30" y2="209.90" stroke="#000" stroke-width="1.6" />
<text x="559.50" y="203.30" text-anchor="middle" font-size="9.6" fill="#000" >0.5 mm</text>
<text x="470.40" y="164.60" text-anchor="middle" font-size="9.6" fill="#f58231" font-style="italic" >P</text>
<text x="648.50" y="164.60" text-anchor="middle" font-size="9.6" fill="#22a0c8" font-style="italic" >D</text>
<text x="400.30" y="172.90" font-size="11.5" fill="#000" font-weight="bold" >e</text>
<polyline points="553.2,218.4 553.2,247.1 458.6,247.1 458.6,411.3" fill="none" stroke="#7c7c7c" stroke-width="1.3" stroke-dasharray="4,2.6"/>
<defs><clipPath id="clipF"><rect x="431.8" y="311.1" width="249.8" height="209.5"/></clipPath></defs>
<polyline clip-path="url(#clipF)" points="431.80,361.11 432.30,360.34 432.80,359.65 433.30,359.07 433.80,358.58 434.30,358.19 434.80,357.90 435.30,357.71 435.80,357.62 436.30,357.63 436.80,357.73 437.30,357.92 437.80,358.21 438.29,358.58 438.79,359.05 439.29,359.61 439.79,360.25 440.29,360.99 440.79,361.81 441.29,362.72 441.79,363.71 442.29,364.78 442.79,365.93 443.29,367.16 443.79,368.47 444.29,369.85 444.79,371.30 445.29,372.82 445.79,374.41 446.29,376.06 446.79,377.77 447.29,379.54 447.79,381.37 448.29,383.24 448.79,385.17 449.29,387.14 449.79,389.15 450.29,391.20 450.78,393.29 451.28,395.41 451.78,397.56 452.28,399.73 452.78,401.92 453.28,404.13 453.78,406.35 454.28,408.58 454.78,410.82 455.28,413.05 455.78,415.29 456.28,417.52 456.78,419.74 457.28,421.94 457.78,424.13 458.28,426.30 458.78,428.44 459.28,430.56 459.78,432.64 460.28,434.69 460.78,436.70 461.28,438.66 461.78,440.58 462.28,442.45 462.78,444.27 463.27,446.04 463.77,447.74 464.27,449.38 464.77,450.96 465.27,452.47 465.77,453.92 466.27,455.29 466.77,456.59 467.27,457.81 467.77,458.95 468.27,460.01 468.77,460.99 469.27,461.89 469.77,462.70 470.27,463.42 470.77,464.05 471.27,464.60 471.77,465.06 472.27,465.42 472.77,465.69 473.27,465.88 473.77,465.97 474.27,465.96 474.77,465.83 475.27,465.58 475.76,465.20 476.26,464.70 476.76,464.08 477.26,463.34 477.76,462.48 478.26,461.50 478.76,460.41 479.26,459.21 479.76,457.90 480.26,456.48 480.76,454.96 481.26,453.35 481.76,451.63 482.26,449.82 482.76,447.93 483.26,445.95 483.76,443.90 484.26,441.77 484.76,439.57 485.26,437.31 485.76,434.98 486.26,432.61 486.76,430.18 487.26,427.72 487.76,425.22 488.25,422.68 488.75,420.12 489.25,417.54 489.75,414.95 490.25,412.35 490.75,409.75 491.25,407.15 491.75,404.56 492.25,401.99 492.75,399.44 493.25,396.92 493.75,394.43 494.25,391.98 494.75,389.57 495.25,387.22 495.75,384.92 496.25,382.68 496.75,380.51 497.25,378.41 497.75,376.39 498.25,374.45 498.75,372.59 499.25,370.82 499.75,369.14 500.25,367.56 500.74,366.09 501.24,364.71 501.74,363.45 502.24,362.29 502.74,361.25 503.24,360.32 503.74,359.51 504.24,358.82 504.74,358.25 505.24,357.80 505.74,357.47 506.24,357.27 506.74,357.19 507.24,357.24 507.74,357.39 508.24,357.66 508.74,358.05 509.24,358.54 509.74,359.15 510.24,359.87 510.74,360.69 511.24,361.62 511.74,362.66 512.24,363.80 512.74,365.04 513.23,366.37 513.73,367.80 514.23,369.33 514.73,370.94 515.23,372.64 515.73,374.42 516.23,376.28 516.73,378.21 517.23,380.22 517.73,382.29 518.23,384.43 518.73,386.62 519.23,388.87 519.73,391.16 520.23,393.50 520.73,395.88 521.23,398.29 521.73,400.74 522.23,403.20 522.73,405.69 523.23,408.20 523.73,410.71 524.23,413.22 524.73,415.74 525.23,418.25 525.72,420.75 526.22,423.23 526.72,425.69 527.22,428.13 527.72,430.53 528.22,432.90 528.72,435.23 529.22,437.51 529.72,439.74 530.22,441.91 530.72,444.03 531.22,446.08 531.72,448.06 532.22,449.98 532.72,451.81 533.22,453.57 533.72,455.24 534.22,456.83 534.72,458.32 535.22,459.73 535.72,461.04 536.22,462.24 536.72,463.35 537.22,464.36 537.72,465.26 538.21,466.05 538.71,466.73 539.21,467.30 539.71,467.76 540.21,468.11 540.71,468.35 541.21,468.47 541.71,468.48 542.21,468.35 542.71,468.09 543.21,467.69 543.71,467.16 544.21,466.49 544.71,465.70 545.21,464.77 545.71,463.71 546.21,462.53 546.71,461.23 547.21,459.81 547.71,458.28 548.21,456.63 548.71,454.87 549.21,453.01 549.71,451.05 550.21,449.00 550.70,446.85 551.20,444.63 551.70,442.32 552.20,439.94 552.70,437.49 553.20,434.98 553.70,432.41 554.20,429.80 554.70,427.14 555.20,424.44 555.70,421.71 556.20,418.96 556.70,416.19 557.20,413.41 557.70,410.63 558.20,407.85 558.70,405.08 559.20,402.32 559.70,399.59 560.20,396.89 560.70,394.22 561.20,391.60 561.70,389.02 562.20,386.50 562.70,384.04 563.19,381.64 563.69,379.32 564.19,377.07 564.69,374.91 565.19,372.84 565.69,370.86 566.19,368.98 566.69,367.20 567.19,365.53 567.69,363.97 568.19,362.53 568.69,361.20 569.19,360.00 569.69,358.92 570.19,357.96 570.69,357.14 571.19,356.45 571.69,355.89 572.19,355.46 572.69,355.17 573.19,355.02 573.69,355.00 574.19,355.09 574.69,355.29 575.19,355.59 575.68,356.00 576.18,356.51 576.68,357.13 577.18,357.84 577.68,358.66 578.18,359.57 578.68,360.59 579.18,361.69 579.68,362.89 580.18,364.19 580.68,365.57 581.18,367.03 581.68,368.58 582.18,370.21 582.68,371.91 583.18,373.69 583.68,375.54 584.18,377.45 584.68,379.43 585.18,381.47 585.68,383.56 586.18,385.71 586.68,387.90 587.18,390.14 587.68,392.41 588.17,394.72 588.67,397.06 589.17,399.42 589.67,401.81 590.17,404.21 590.67,406.63 591.17,409.05 591.67,411.48 592.17,413.90 592.67,416.32 593.17,418.73 593.67,421.12 594.17,423.49 594.67,425.84 595.17,428.16 595.67,430.44 596.17,432.69 596.67,434.90 597.17,437.06 597.67,439.17 598.17,441.22 598.67,443.22 599.17,445.15 599.67,447.02 600.17,448.82 600.66,450.55 601.16,452.20 601.66,453.78 602.16,455.27 602.66,456.68 603.16,457.99 603.66,459.22 604.16,460.36 604.66,461.40 605.16,462.35 605.66,463.20 606.16,463.94 606.66,464.59 607.16,465.13 607.66,465.57 608.16,465.91 608.66,466.14 609.16,466.26 609.66,466.28 610.16,466.18 610.66,465.96 611.16,465.61 611.66,465.14 612.16,464.55 612.66,463.84 613.15,463.01 613.65,462.06 614.15,461.00 614.65,459.83 615.15,458.55 615.65,457.17 616.15,455.68 616.65,454.09 617.15,452.41 617.65,450.63 618.15,448.77 618.65,446.82 619.15,444.80 619.65,442.70 620.15,440.54 620.65,438.31 621.15,436.02 621.65,433.68 622.15,431.29 622.65,428.85 623.15,426.39 623.65,423.89 624.15,421.36 624.65,418.82 625.15,416.26 625.64,413.70 626.14,411.13 626.64,408.57 627.14,406.02 627.64,403.49 628.14,400.98 628.64,398.49 629.14,396.04 629.64,393.64 630.14,391.27 630.64,388.96 631.14,386.71 631.64,384.51 632.14,382.39 632.64,380.33 633.14,378.35 633.64,376.45 634.14,374.64 634.64,372.92 635.14,371.29 635.64,369.76 636.14,368.33 636.64,367.01 637.14,365.79 637.64,364.68 638.13,363.69 638.63,362.81 639.13,362.05 639.63,361.41 640.13,360.89 640.63,360.49 641.13,360.21 641.63,360.06 642.13,360.03 642.63,360.10 643.13,360.26 643.63,360.53 644.13,360.88 644.63,361.33 645.13,361.87 645.63,362.50 646.13,363.22 646.63,364.03 647.13,364.93 647.63,365.91 648.13,366.98 648.63,368.13 649.13,369.36 649.63,370.67 650.13,372.05 650.62,373.51 651.12,375.04 651.62,376.63 652.12,378.30 652.62,380.02 653.12,381.81 653.62,383.65 654.12,385.54 654.62,387.49 655.12,389.48 655.62,391.51 656.12,393.58 656.62,395.69 657.12,397.83 657.62,400.00 658.12,402.19 658.62,404.41 659.12,406.64 659.62,408.88 660.12,411.13 660.62,413.39 661.12,415.65 661.62,417.91 662.12,420.16 662.62,422.39 663.11,424.62 663.61,426.82 664.11,429.00 664.61,431.16 665.11,433.29 665.61,435.38 666.11,437.43 666.61,439.45 667.11,441.42 667.61,443.34 668.11,445.21 668.61,447.02 669.11,448.78 669.61,450.48 670.11,452.11 670.61,453.67 671.11,455.17 671.61,456.59 672.11,457.94 672.61,459.22 673.11,460.41 673.61,461.52 674.11,462.55 674.61,463.49 675.11,464.35 675.60,465.12 676.10,465.80 676.60,466.39 677.10,466.88 677.60,467.29 678.10,467.60 678.60,467.81 679.10,467.94 679.60,467.96 680.10,467.90 680.60,467.73 681.10,467.47 681.60,467.12" fill="none" stroke="#c4c4c4" stroke-width="1.5"/>
<line x1="431.40" y1="354.00" x2="441.40" y2="354.00" stroke="#a6a6a6" stroke-width="1.2" />
<line x1="436.40" y1="350.50" x2="436.40" y2="357.50" stroke="#a6a6a6" stroke-width="1.2" />
<line x1="436.20" y1="365.70" x2="445.20" y2="365.70" stroke="#a6a6a6" stroke-width="1.2" />
<line x1="440.70" y1="356.20" x2="440.70" y2="375.20" stroke="#a6a6a6" stroke-width="1.2" />
<line x1="439.30" y1="361.40" x2="451.30" y2="361.40" stroke="#a6a6a6" stroke-width="1.2" />
<line x1="445.30" y1="341.90" x2="445.30" y2="380.90" stroke="#a6a6a6" stroke-width="1.2" />
<line x1="444.70" y1="398.60" x2="455.70" y2="398.60" stroke="#a6a6a6" stroke-width="1.2" />
<line x1="450.20" y1="385.10" x2="450.20" y2="412.10" stroke="#a6a6a6" stroke-width="1.2" />
<line x1="449.50" y1="422.00" x2="460.50" y2="422.00" stroke="#a6a6a6" stroke-width="1.2" />
<line x1="455.00" y1="416.50" x2="455.00" y2="427.50" stroke="#a6a6a6" stroke-width="1.2" />
<line x1="454.10" y1="449.00" x2="465.10" y2="449.00" stroke="#a6a6a6" stroke-width="1.2" />
<line x1="459.60" y1="439.50" x2="459.60" y2="458.50" stroke="#a6a6a6" stroke-width="1.2" />
<line x1="457.90" y1="459.20" x2="470.90" y2="459.20" stroke="#a6a6a6" stroke-width="1.2" />
<line x1="464.40" y1="451.70" x2="464.40" y2="466.70" stroke="#a6a6a6" stroke-width="1.2" />
<line x1="464.80" y1="465.30" x2="473.80" y2="465.30" stroke="#a6a6a6" stroke-width="1.2" />
<line x1="469.30" y1="460.80" x2="469.30" y2="469.80" stroke="#a6a6a6" stroke-width="1.2" />
<line x1="469.40" y1="464.10" x2="478.40" y2="464.10" stroke="#a6a6a6" stroke-width="1.2" />
<line x1="473.90" y1="456.60" x2="473.90" y2="471.60" stroke="#a6a6a6" stroke-width="1.2" />
<line x1="473.20" y1="465.90" x2="484.20" y2="465.90" stroke="#a6a6a6" stroke-width="1.2" />
<line x1="478.70" y1="461.40" x2="478.70" y2="470.40" stroke="#a6a6a6" stroke-width="1.2" />
<line x1="478.00" y1="429.20" x2="489.00" y2="429.20" stroke="#a6a6a6" stroke-width="1.2" />
<line x1="483.50" y1="419.70" x2="483.50" y2="438.70" stroke="#a6a6a6" stroke-width="1.2" />
<line x1="483.40" y1="399.40" x2="493.40" y2="399.40" stroke="#a6a6a6" stroke-width="1.2" />
<line x1="488.40" y1="383.90" x2="488.40" y2="414.90" stroke="#a6a6a6" stroke-width="1.2" />
<line x1="487.70" y1="384.10" x2="498.70" y2="384.10" stroke="#a6a6a6" stroke-width="1.2" />
<line x1="493.20" y1="374.60" x2="493.20" y2="393.60" stroke="#a6a6a6" stroke-width="1.2" />
<line x1="492.30" y1="368.50" x2="503.30" y2="368.50" stroke="#a6a6a6" stroke-width="1.2" />
<line x1="497.80" y1="363.00" x2="497.80" y2="374.00" stroke="#a6a6a6" stroke-width="1.2" />
<line x1="497.10" y1="362.40" x2="508.10" y2="362.40" stroke="#a6a6a6" stroke-width="1.2" />
<line x1="502.60" y1="357.90" x2="502.60" y2="366.90" stroke="#a6a6a6" stroke-width="1.2" />
<line x1="501.00" y1="351.80" x2="514.00" y2="351.80" stroke="#a6a6a6" stroke-width="1.2" />
<line x1="507.50" y1="347.30" x2="507.50" y2="356.30" stroke="#a6a6a6" stroke-width="1.2" />
<line x1="506.60" y1="381.50" x2="517.60" y2="381.50" stroke="#a6a6a6" stroke-width="1.2" />
<line x1="512.10" y1="375.00" x2="512.10" y2="388.00" stroke="#a6a6a6" stroke-width="1.2" />
<line x1="511.50" y1="388.00" x2="522.50" y2="388.00" stroke="#a6a6a6" stroke-width="1.2" />
<line x1="517.00" y1="372.50" x2="517.00" y2="403.50" stroke="#a6a6a6" stroke-width="1.2" />
<line x1="516.30" y1="401.30" x2="527.30" y2="401.30" stroke="#a6a6a6" stroke-width="1.2" />
<line x1="521.80" y1="394.80" x2="521.80" y2="407.80" stroke="#a6a6a6" stroke-width="1.2" />
<line x1="521.30" y1="423.70" x2="532.30" y2="423.70" stroke="#a6a6a6" stroke-width="1.2" />
<line x1="526.80" y1="410.20" x2="526.80" y2="437.20" stroke="#a6a6a6" stroke-width="1.2" />
<line x1="526.30" y1="445.40" x2="537.30" y2="445.40" stroke="#a6a6a6" stroke-width="1.2" />
<line x1="531.80" y1="433.90" x2="531.80" y2="456.90" stroke="#a6a6a6" stroke-width="1.2" />
<line x1="531.10" y1="463.60" x2="542.10" y2="463.60" stroke="#a6a6a6" stroke-width="1.2" />
<line x1="536.60" y1="458.10" x2="536.60" y2="469.10" stroke="#a6a6a6" stroke-width="1.2" />
<line x1="537.00" y1="469.30" x2="546.00" y2="469.30" stroke="#a6a6a6" stroke-width="1.2" />
<line x1="541.50" y1="464.80" x2="541.50" y2="473.80" stroke="#a6a6a6" stroke-width="1.2" />
<line x1="540.80" y1="466.30" x2="551.80" y2="466.30" stroke="#a6a6a6" stroke-width="1.2" />
<line x1="546.30" y1="460.80" x2="546.30" y2="471.80" stroke="#a6a6a6" stroke-width="1.2" />
<line x1="545.60" y1="457.60" x2="556.60" y2="457.60" stroke="#a6a6a6" stroke-width="1.2" />
<line x1="551.10" y1="452.10" x2="551.10" y2="463.10" stroke="#a6a6a6" stroke-width="1.2" />
<line x1="550.70" y1="418.30" x2="561.70" y2="418.30" stroke="#a6a6a6" stroke-width="1.2" />
<line x1="556.20" y1="405.80" x2="556.20" y2="430.80" stroke="#a6a6a6" stroke-width="1.2" />
<line x1="555.60" y1="386.70" x2="566.60" y2="386.70" stroke="#a6a6a6" stroke-width="1.2" />
<line x1="561.10" y1="375.20" x2="561.10" y2="398.20" stroke="#a6a6a6" stroke-width="1.2" />
<line x1="560.40" y1="373.90" x2="571.40" y2="373.90" stroke="#a6a6a6" stroke-width="1.2" />
<line x1="565.90" y1="364.40" x2="565.90" y2="383.40" stroke="#a6a6a6" stroke-width="1.2" />
<line x1="564.30" y1="350.50" x2="577.30" y2="350.50" stroke="#a6a6a6" stroke-width="1.2" />
<line x1="570.80" y1="346.00" x2="570.80" y2="355.00" stroke="#a6a6a6" stroke-width="1.2" />
<line x1="569.40" y1="356.80" x2="582.40" y2="356.80" stroke="#a6a6a6" stroke-width="1.2" />
<line x1="575.90" y1="352.30" x2="575.90" y2="361.30" stroke="#a6a6a6" stroke-width="1.2" />
<line x1="575.50" y1="366.80" x2="586.50" y2="366.80" stroke="#a6a6a6" stroke-width="1.2" />
<line x1="581.00" y1="361.30" x2="581.00" y2="372.30" stroke="#a6a6a6" stroke-width="1.2" />
<line x1="580.30" y1="384.10" x2="591.30" y2="384.10" stroke="#a6a6a6" stroke-width="1.2" />
<line x1="585.80" y1="367.60" x2="585.80" y2="400.60" stroke="#a6a6a6" stroke-width="1.2" />
<line x1="585.60" y1="411.30" x2="596.60" y2="411.30" stroke="#a6a6a6" stroke-width="1.2" />
<line x1="591.10" y1="401.80" x2="591.10" y2="420.80" stroke="#a6a6a6" stroke-width="1.2" />
<line x1="590.60" y1="433.50" x2="601.60" y2="433.50" stroke="#a6a6a6" stroke-width="1.2" />
<line x1="596.10" y1="425.00" x2="596.10" y2="442.00" stroke="#a6a6a6" stroke-width="1.2" />
<line x1="595.50" y1="460.20" x2="606.50" y2="460.20" stroke="#a6a6a6" stroke-width="1.2" />
<line x1="601.00" y1="455.70" x2="601.00" y2="464.70" stroke="#a6a6a6" stroke-width="1.2" />
<line x1="600.50" y1="463.80" x2="611.50" y2="463.80" stroke="#a6a6a6" stroke-width="1.2" />
<line x1="606.00" y1="458.30" x2="606.00" y2="469.30" stroke="#a6a6a6" stroke-width="1.2" />
<line x1="605.60" y1="464.80" x2="616.60" y2="464.80" stroke="#a6a6a6" stroke-width="1.2" />
<line x1="611.10" y1="457.30" x2="611.10" y2="472.30" stroke="#a6a6a6" stroke-width="1.2" />
<line x1="610.70" y1="464.00" x2="621.70" y2="464.00" stroke="#a6a6a6" stroke-width="1.2" />
<line x1="616.20" y1="458.50" x2="616.20" y2="469.50" stroke="#a6a6a6" stroke-width="1.2" />
<line x1="614.80" y1="430.40" x2="627.80" y2="430.40" stroke="#a6a6a6" stroke-width="1.2" />
<line x1="621.30" y1="421.90" x2="621.30" y2="438.90" stroke="#a6a6a6" stroke-width="1.2" />
<line x1="619.90" y1="411.30" x2="632.90" y2="411.30" stroke="#a6a6a6" stroke-width="1.2" />
<line x1="626.40" y1="400.80" x2="626.40" y2="421.80" stroke="#a6a6a6" stroke-width="1.2" />
<line x1="625.00" y1="396.50" x2="638.00" y2="396.50" stroke="#a6a6a6" stroke-width="1.2" />
<line x1="631.50" y1="386.00" x2="631.50" y2="407.00" stroke="#a6a6a6" stroke-width="1.2" />
<line x1="629.90" y1="372.60" x2="642.90" y2="372.60" stroke="#a6a6a6" stroke-width="1.2" />
<line x1="636.40" y1="368.10" x2="636.40" y2="377.10" stroke="#a6a6a6" stroke-width="1.2" />
<line x1="635.00" y1="360.10" x2="648.00" y2="360.10" stroke="#a6a6a6" stroke-width="1.2" />
<line x1="641.50" y1="355.60" x2="641.50" y2="364.60" stroke="#a6a6a6" stroke-width="1.2" />
<line x1="640.00" y1="362.90" x2="653.00" y2="362.90" stroke="#a6a6a6" stroke-width="1.2" />
<line x1="646.50" y1="356.40" x2="646.50" y2="369.40" stroke="#a6a6a6" stroke-width="1.2" />
<line x1="645.10" y1="371.10" x2="658.10" y2="371.10" stroke="#a6a6a6" stroke-width="1.2" />
<line x1="651.60" y1="366.60" x2="651.60" y2="375.60" stroke="#a6a6a6" stroke-width="1.2" />
<line x1="650.20" y1="389.40" x2="663.20" y2="389.40" stroke="#a6a6a6" stroke-width="1.2" />
<line x1="656.70" y1="377.90" x2="656.70" y2="400.90" stroke="#a6a6a6" stroke-width="1.2" />
<line x1="655.60" y1="414.60" x2="668.60" y2="414.60" stroke="#a6a6a6" stroke-width="1.2" />
<line x1="662.10" y1="406.10" x2="662.10" y2="423.10" stroke="#a6a6a6" stroke-width="1.2" />
<line x1="660.70" y1="431.20" x2="673.70" y2="431.20" stroke="#a6a6a6" stroke-width="1.2" />
<line x1="667.20" y1="421.70" x2="667.20" y2="440.70" stroke="#a6a6a6" stroke-width="1.2" />
<line x1="665.80" y1="450.30" x2="678.80" y2="450.30" stroke="#a6a6a6" stroke-width="1.2" />
<line x1="672.30" y1="445.80" x2="672.30" y2="454.80" stroke="#a6a6a6" stroke-width="1.2" />
<circle cx="436.4" cy="354.0" r="2.9" fill="#8c8c8c" stroke="#5a5a5a" stroke-width="1.3"/>
<circle cx="440.7" cy="365.7" r="2.9" fill="#8c8c8c" stroke="#5a5a5a" stroke-width="1.3"/>
<circle cx="445.3" cy="361.4" r="2.9" fill="#8c8c8c" stroke="#5a5a5a" stroke-width="1.3"/>
<circle cx="450.2" cy="398.6" r="2.9" fill="#8c8c8c" stroke="#5a5a5a" stroke-width="1.3"/>
<circle cx="455.0" cy="422.0" r="2.9" fill="#8c8c8c" stroke="#5a5a5a" stroke-width="1.3"/>
<circle cx="459.6" cy="449.0" r="2.9" fill="#8c8c8c" stroke="#5a5a5a" stroke-width="1.3"/>
<circle cx="464.4" cy="459.2" r="2.9" fill="#8c8c8c" stroke="#5a5a5a" stroke-width="1.3"/>
<circle cx="469.3" cy="465.3" r="2.9" fill="#8c8c8c" stroke="#5a5a5a" stroke-width="1.3"/>
<circle cx="473.9" cy="464.1" r="2.9" fill="#8c8c8c" stroke="#5a5a5a" stroke-width="1.3"/>
<circle cx="478.7" cy="465.9" r="2.9" fill="#8c8c8c" stroke="#5a5a5a" stroke-width="1.3"/>
<circle cx="483.5" cy="429.2" r="2.9" fill="#8c8c8c" stroke="#5a5a5a" stroke-width="1.3"/>
<circle cx="488.4" cy="399.4" r="2.9" fill="#8c8c8c" stroke="#5a5a5a" stroke-width="1.3"/>
<circle cx="493.2" cy="384.1" r="2.9" fill="#8c8c8c" stroke="#5a5a5a" stroke-width="1.3"/>
<circle cx="497.8" cy="368.5" r="2.9" fill="#8c8c8c" stroke="#5a5a5a" stroke-width="1.3"/>
<circle cx="502.6" cy="362.4" r="2.9" fill="#8c8c8c" stroke="#5a5a5a" stroke-width="1.3"/>
<circle cx="507.5" cy="351.8" r="2.9" fill="#8c8c8c" stroke="#5a5a5a" stroke-width="1.3"/>
<circle cx="512.1" cy="381.5" r="2.9" fill="#8c8c8c" stroke="#5a5a5a" stroke-width="1.3"/>
<circle cx="517.0" cy="388.0" r="2.9" fill="#8c8c8c" stroke="#5a5a5a" stroke-width="1.3"/>
<circle cx="521.8" cy="401.3" r="2.9" fill="#8c8c8c" stroke="#5a5a5a" stroke-width="1.3"/>
<circle cx="526.8" cy="423.7" r="2.9" fill="#8c8c8c" stroke="#5a5a5a" stroke-width="1.3"/>
<circle cx="531.8" cy="445.4" r="2.9" fill="#8c8c8c" stroke="#5a5a5a" stroke-width="1.3"/>
<circle cx="536.6" cy="463.6" r="2.9" fill="#8c8c8c" stroke="#5a5a5a" stroke-width="1.3"/>
<circle cx="541.5" cy="469.3" r="2.9" fill="#8c8c8c" stroke="#5a5a5a" stroke-width="1.3"/>
<circle cx="546.3" cy="466.3" r="2.9" fill="#8c8c8c" stroke="#5a5a5a" stroke-width="1.3"/>
<circle cx="551.1" cy="457.6" r="2.9" fill="#8c8c8c" stroke="#5a5a5a" stroke-width="1.3"/>
<circle cx="556.2" cy="418.3" r="2.9" fill="#8c8c8c" stroke="#5a5a5a" stroke-width="1.3"/>
<circle cx="561.1" cy="386.7" r="2.9" fill="#8c8c8c" stroke="#5a5a5a" stroke-width="1.3"/>
<circle cx="565.9" cy="373.9" r="2.9" fill="#8c8c8c" stroke="#5a5a5a" stroke-width="1.3"/>
<circle cx="570.8" cy="350.5" r="2.9" fill="#8c8c8c" stroke="#5a5a5a" stroke-width="1.3"/>
<circle cx="575.9" cy="356.8" r="2.9" fill="#8c8c8c" stroke="#5a5a5a" stroke-width="1.3"/>
<circle cx="581.0" cy="366.8" r="2.9" fill="#8c8c8c" stroke="#5a5a5a" stroke-width="1.3"/>
<circle cx="585.8" cy="384.1" r="2.9" fill="#8c8c8c" stroke="#5a5a5a" stroke-width="1.3"/>
<circle cx="591.1" cy="411.3" r="2.9" fill="#8c8c8c" stroke="#5a5a5a" stroke-width="1.3"/>
<circle cx="596.1" cy="433.5" r="2.9" fill="#8c8c8c" stroke="#5a5a5a" stroke-width="1.3"/>
<circle cx="601.0" cy="460.2" r="2.9" fill="#8c8c8c" stroke="#5a5a5a" stroke-width="1.3"/>
<circle cx="606.0" cy="463.8" r="2.9" fill="#8c8c8c" stroke="#5a5a5a" stroke-width="1.3"/>
<circle cx="611.1" cy="464.8" r="2.9" fill="#8c8c8c" stroke="#5a5a5a" stroke-width="1.3"/>
<circle cx="616.2" cy="464.0" r="2.9" fill="#8c8c8c" stroke="#5a5a5a" stroke-width="1.3"/>
<circle cx="621.3" cy="430.4" r="2.9" fill="#8c8c8c" stroke="#5a5a5a" stroke-width="1.3"/>
<circle cx="626.4" cy="411.3" r="2.9" fill="#8c8c8c" stroke="#5a5a5a" stroke-width="1.3"/>
<circle cx="631.5" cy="396.5" r="2.9" fill="#8c8c8c" stroke="#5a5a5a" stroke-width="1.3"/>
<circle cx="636.4" cy="372.6" r="2.9" fill="#8c8c8c" stroke="#5a5a5a" stroke-width="1.3"/>
<circle cx="641.5" cy="360.1" r="2.9" fill="#8c8c8c" stroke="#5a5a5a" stroke-width="1.3"/>
<circle cx="646.5" cy="362.9" r="2.9" fill="#8c8c8c" stroke="#5a5a5a" stroke-width="1.3"/>
<circle cx="651.6" cy="371.1" r="2.9" fill="#8c8c8c" stroke="#5a5a5a" stroke-width="1.3"/>
<circle cx="656.7" cy="389.4" r="2.9" fill="#8c8c8c" stroke="#5a5a5a" stroke-width="1.3"/>
<circle cx="662.1" cy="414.6" r="2.9" fill="#8c8c8c" stroke="#5a5a5a" stroke-width="1.3"/>
<circle cx="667.2" cy="431.2" r="2.9" fill="#8c8c8c" stroke="#5a5a5a" stroke-width="1.3"/>
<circle cx="672.3" cy="450.3" r="2.9" fill="#8c8c8c" stroke="#5a5a5a" stroke-width="1.3"/>
<rect x="444" y="411.3" width="23" height="22.5" fill="none" stroke="#6e6e6e" stroke-width="1.3" stroke-dasharray="4,2.6"/>
<rect x="431.8" y="311.1" width="249.8" height="209.5" fill="none" stroke="#555" stroke-width="1"/>
<line x1="431.80" y1="311.50" x2="434.80" y2="311.50" stroke="#555" stroke-width="1" />
<line x1="681.60" y1="311.50" x2="678.60" y2="311.50" stroke="#555" stroke-width="1" />
<text x="428.20" y="315.30" text-anchor="end" font-size="9.6" fill="#222" >1</text>
<line x1="431.80" y1="363.90" x2="434.80" y2="363.90" stroke="#555" stroke-width="1" />
<line x1="681.60" y1="363.90" x2="678.60" y2="363.90" stroke="#555" stroke-width="1" />
<text x="428.20" y="367.70" text-anchor="end" font-size="9.6" fill="#222" >0.5</text>
<line x1="431.80" y1="416.30" x2="434.80" y2="416.30" stroke="#555" stroke-width="1" />
<line x1="681.60" y1="416.30" x2="678.60" y2="416.30" stroke="#555" stroke-width="1" />
<text x="428.20" y="420.10" text-anchor="end" font-size="9.6" fill="#222" >0</text>
<line x1="431.80" y1="468.70" x2="434.80" y2="468.70" stroke="#555" stroke-width="1" />
<line x1="681.60" y1="468.70" x2="678.60" y2="468.70" stroke="#555" stroke-width="1" />
<text x="428.20" y="472.50" text-anchor="end" font-size="9.6" fill="#222" >-0.5</text>
<line x1="431.80" y1="521.10" x2="434.80" y2="521.10" stroke="#555" stroke-width="1" />
<line x1="681.60" y1="521.10" x2="678.60" y2="521.10" stroke="#555" stroke-width="1" />
<text x="428.20" y="524.90" text-anchor="end" font-size="9.6" fill="#222" >-1</text>
<line x1="475.50" y1="520.60" x2="475.50" y2="517.60" stroke="#555" stroke-width="1" />
<line x1="475.50" y1="311.10" x2="475.50" y2="314.10" stroke="#555" stroke-width="1" />
<text x="475.50" y="532.70" text-anchor="middle" font-size="9.6" fill="#222" >10.5</text>
<line x1="520.47" y1="520.60" x2="520.47" y2="517.60" stroke="#555" stroke-width="1" />
<line x1="520.47" y1="311.10" x2="520.47" y2="314.10" stroke="#555" stroke-width="1" />
<text x="520.47" y="532.70" text-anchor="middle" font-size="9.6" fill="#222" >10.6</text>
<line x1="565.45" y1="520.60" x2="565.45" y2="517.60" stroke="#555" stroke-width="1" />
<line x1="565.45" y1="311.10" x2="565.45" y2="314.10" stroke="#555" stroke-width="1" />
<text x="565.45" y="532.70" text-anchor="middle" font-size="9.6" fill="#222" >10.7</text>
<line x1="610.43" y1="520.60" x2="610.43" y2="517.60" stroke="#555" stroke-width="1" />
<line x1="610.43" y1="311.10" x2="610.43" y2="314.10" stroke="#555" stroke-width="1" />
<text x="610.43" y="532.70" text-anchor="middle" font-size="9.6" fill="#222" >10.8</text>
<line x1="655.40" y1="520.60" x2="655.40" y2="517.60" stroke="#555" stroke-width="1" />
<line x1="655.40" y1="311.10" x2="655.40" y2="314.10" stroke="#555" stroke-width="1" />
<text x="655.40" y="532.70" text-anchor="middle" font-size="9.6" fill="#222" >10.9</text>
<text x="475.00" y="306.60" text-anchor="middle" font-size="9.6" fill="#222" >1.038</text>
<text x="520.10" y="306.60" text-anchor="middle" font-size="9.6" fill="#222" >1.028</text>
<text x="565.20" y="306.60" text-anchor="middle" font-size="9.6" fill="#222" >1.018</text>
<text x="610.20" y="306.60" text-anchor="middle" font-size="9.6" fill="#222" >1.009</text>
<text x="655.00" y="306.60" text-anchor="middle" font-size="9.6" fill="#222" >1.000</text>
<text x="557.3" y="294.6" text-anchor="middle" font-size="9.6" fill="#222">Force <tspan font-family="&quot;Liberation Serif&quot;, serif" font-style="italic">F</tspan> (<tspan font-style="italic">Mg</tspan>)</text>
<text x="556.5" y="544.6" text-anchor="middle" font-size="9.6" fill="#222">Bloch Period <tspan font-style="italic">T</tspan><tspan font-size="6.5" dy="3">B</tspan><tspan dy="-3"> (ms)</tspan></text>
<text transform="translate(409.6,415.8) rotate(-90)" text-anchor="middle" font-size="9.6" fill="#222">Imbalance <tspan font-family="&quot;Liberation Serif&quot;, serif" font-style="italic">I</tspan></text>
<text x="397.30" y="313.60" font-size="11.5" fill="#000" font-weight="bold" >f</text>
</svg></body></html>
